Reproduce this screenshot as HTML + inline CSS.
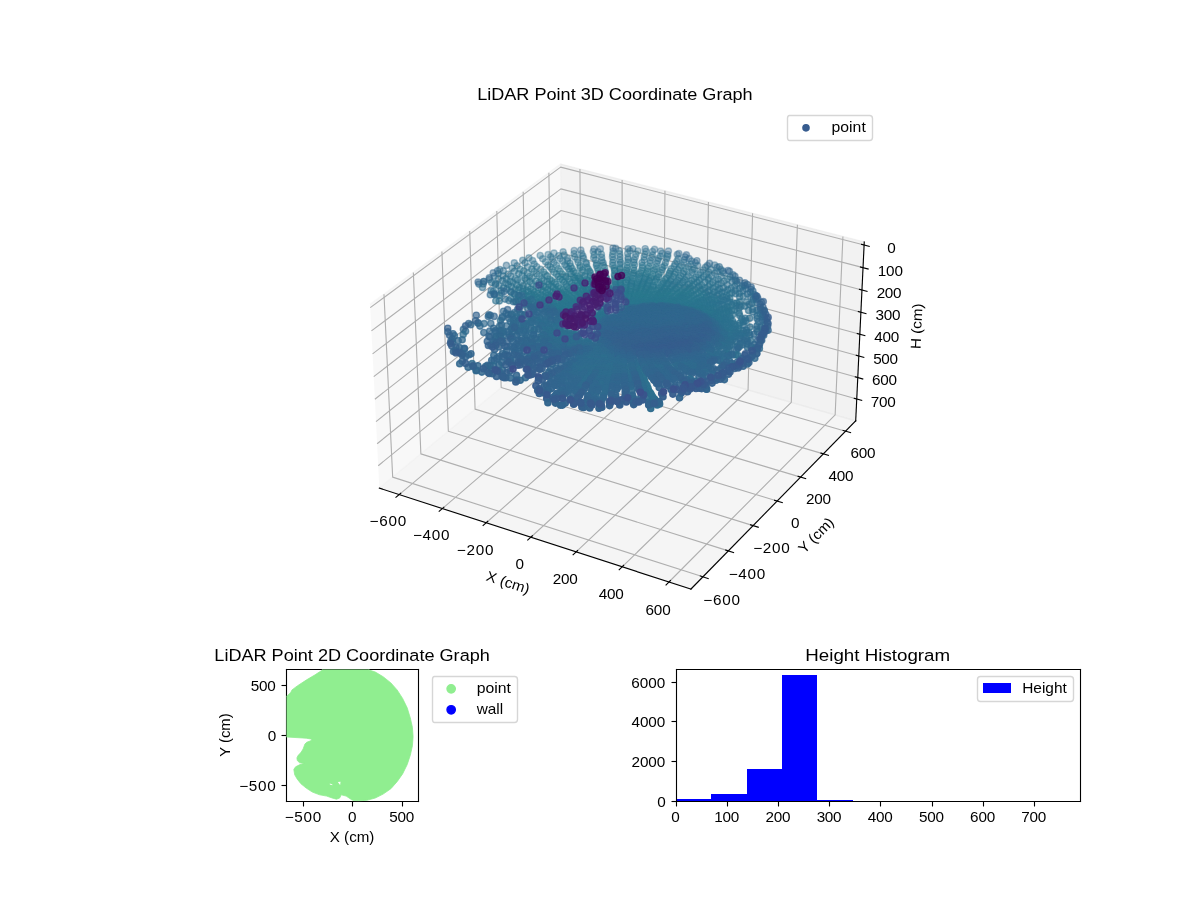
<!DOCTYPE html>
<html><head><meta charset="utf-8"><title>LiDAR Point Coordinate Graphs</title>
<style>html,body{margin:0;padding:0;background:#fff}svg{display:block;will-change:transform}text{font-family:"Liberation Sans",sans-serif;fill:#000}.pc circle{r:3.1px;stroke-width:1.39px}.a0{fill-opacity:0.3;stroke-opacity:0.3}.a1{fill-opacity:0.32;stroke-opacity:0.32}.a2{fill-opacity:0.34;stroke-opacity:0.34}.a3{fill-opacity:0.36;stroke-opacity:0.36}.a4{fill-opacity:0.38;stroke-opacity:0.38}.a5{fill-opacity:0.4;stroke-opacity:0.4}.a6{fill-opacity:0.42;stroke-opacity:0.42}.a7{fill-opacity:0.44;stroke-opacity:0.44}.a8{fill-opacity:0.46;stroke-opacity:0.46}.a9{fill-opacity:0.48;stroke-opacity:0.48}.a10{fill-opacity:0.5;stroke-opacity:0.5}.a11{fill-opacity:0.52;stroke-opacity:0.52}.a12{fill-opacity:0.54;stroke-opacity:0.54}.a13{fill-opacity:0.56;stroke-opacity:0.56}.a14{fill-opacity:0.58;stroke-opacity:0.58}.a15{fill-opacity:0.6;stroke-opacity:0.6}.a16{fill-opacity:0.62;stroke-opacity:0.62}.a17{fill-opacity:0.64;stroke-opacity:0.64}.a18{fill-opacity:0.66;stroke-opacity:0.66}.a19{fill-opacity:0.68;stroke-opacity:0.68}.a20{fill-opacity:0.7;stroke-opacity:0.7}.a21{fill-opacity:0.72;stroke-opacity:0.72}.a22{fill-opacity:0.74;stroke-opacity:0.74}.a23{fill-opacity:0.76;stroke-opacity:0.76}.a24{fill-opacity:0.78;stroke-opacity:0.78}.a25{fill-opacity:0.8;stroke-opacity:0.8}.a26{fill-opacity:0.82;stroke-opacity:0.82}.a27{fill-opacity:0.84;stroke-opacity:0.84}.a28{fill-opacity:0.86;stroke-opacity:0.86}.a29{fill-opacity:0.88;stroke-opacity:0.88}.a30{fill-opacity:0.9;stroke-opacity:0.9}.a31{fill-opacity:0.92;stroke-opacity:0.92}.a32{fill-opacity:0.94;stroke-opacity:0.94}.a33{fill-opacity:0.96;stroke-opacity:0.96}.a34{fill-opacity:0.98;stroke-opacity:0.98}.a35{fill-opacity:1;stroke-opacity:1}.c0{fill:#440154;stroke:#440154}.c1{fill:#440256;stroke:#440256}.c2{fill:#450559;stroke:#450559}.c3{fill:#46085c;stroke:#46085c}.c4{fill:#460b5e;stroke:#460b5e}.c5{fill:#470e61;stroke:#470e61}.c6{fill:#471063;stroke:#471063}.c7{fill:#471365;stroke:#471365}.c8{fill:#481668;stroke:#481668}.c9{fill:#48186a;stroke:#48186a}.c10{fill:#481b6d;stroke:#481b6d}.c11{fill:#481d6f;stroke:#481d6f}.c12{fill:#481f70;stroke:#481f70}.c13{fill:#482173;stroke:#482173}.c14{fill:#482475;stroke:#482475}.c15{fill:#482677;stroke:#482677}.c16{fill:#482979;stroke:#482979}.c17{fill:#472c7a;stroke:#472c7a}.c18{fill:#472d7b;stroke:#472d7b}.c19{fill:#472f7d;stroke:#472f7d}.c20{fill:#46327e;stroke:#46327e}.c21{fill:#463480;stroke:#463480}.c22{fill:#453781;stroke:#453781}.c23{fill:#443983;stroke:#443983}.c24{fill:#443a83;stroke:#443a83}.c25{fill:#433d84;stroke:#433d84}.c26{fill:#423f85;stroke:#423f85}.c27{fill:#424186;stroke:#424186}.c28{fill:#414487;stroke:#414487}.c29{fill:#404688;stroke:#404688}.c30{fill:#3f4788;stroke:#3f4788}.c31{fill:#3e4989;stroke:#3e4989}.c32{fill:#3e4c8a;stroke:#3e4c8a}.c33{fill:#3d4e8a;stroke:#3d4e8a}.c34{fill:#3c508b;stroke:#3c508b}.c35{fill:#3b528b;stroke:#3b528b}.c36{fill:#3a538b;stroke:#3a538b}.c37{fill:#39558c;stroke:#39558c}.c38{fill:#38588c;stroke:#38588c}.c39{fill:#375a8c;stroke:#375a8c}.c40{fill:#365c8d;stroke:#365c8d}.c41{fill:#365d8d;stroke:#365d8d}.c42{fill:#355f8d;stroke:#355f8d}.c43{fill:#34618d;stroke:#34618d}.c44{fill:#33638d;stroke:#33638d}.c45{fill:#32658e;stroke:#32658e}.c46{fill:#31678e;stroke:#31678e}.c47{fill:#31688e;stroke:#31688e}.c48{fill:#306a8e;stroke:#306a8e}.c49{fill:#2f6c8e;stroke:#2f6c8e}.c50{fill:#2e6e8e;stroke:#2e6e8e}.c51{fill:#2d708e;stroke:#2d708e}.c52{fill:#2c718e;stroke:#2c718e}.c53{fill:#2c728e;stroke:#2c728e}.c54{fill:#2b748e;stroke:#2b748e}.c55{fill:#2a768e;stroke:#2a768e}.c56{fill:#2a788e;stroke:#2a788e}.c57{fill:#297a8e;stroke:#297a8e}.c58{fill:#287c8e;stroke:#287c8e}.c59{fill:#287d8e;stroke:#287d8e}.c60{fill:#277f8e;stroke:#277f8e}.c61{fill:#26818e;stroke:#26818e}.c62{fill:#26828e;stroke:#26828e}.c63{fill:#25848e;stroke:#25848e}</style>
</head><body>
<svg width="1200" height="900" viewBox="0 0 1200 900">
<path d="M370.09 304.42L560.57 164.1L562.64 336.84L379.34 488.14" fill="#f2f2f2" fill-opacity="0.5" stroke="#f2f2f2" stroke-width="1.39" stroke-opacity="0.5"/>
<path d="M560.57 164.1L864.26 241.93L855.7 420.88L562.64 336.84" fill="#e6e6e6" fill-opacity="0.5" stroke="#e6e6e6" stroke-width="1.39" stroke-opacity="0.5"/>
<path d="M379.34 488.14L690.9 589.1L855.7 420.88L562.64 336.84" fill="#ececec" fill-opacity="0.5" stroke="#ececec" stroke-width="1.39" stroke-opacity="0.5"/>
<path d="M399.14 494.56L581.34 342.2L579.92 169.06" fill="none" stroke="#b0b0b0" stroke-width="1.11" stroke-linejoin="round"/>
<path d="M442.34 508.55L622.12 353.89L622.12 179.88" fill="none" stroke="#b0b0b0" stroke-width="1.11" stroke-linejoin="round"/>
<path d="M486.22 522.78L663.49 365.76L664.95 190.85" fill="none" stroke="#b0b0b0" stroke-width="1.11" stroke-linejoin="round"/>
<path d="M530.8 537.22L705.47 377.79L708.44 202" fill="none" stroke="#b0b0b0" stroke-width="1.11" stroke-linejoin="round"/>
<path d="M576.11 551.9L748.06 390.01L752.58 213.31" fill="none" stroke="#b0b0b0" stroke-width="1.11" stroke-linejoin="round"/>
<path d="M622.15 566.82L791.28 402.4L797.4 224.8" fill="none" stroke="#b0b0b0" stroke-width="1.11" stroke-linejoin="round"/>
<path d="M668.95 581.99L835.15 414.98L842.92 236.46" fill="none" stroke="#b0b0b0" stroke-width="1.11" stroke-linejoin="round"/>
<path d="M383.98 294.19L392.67 477.14L702.94 576.82" fill="none" stroke="#b0b0b0" stroke-width="1.11" stroke-linejoin="round"/>
<path d="M413.35 272.56L420.87 453.87L728.37 550.85" fill="none" stroke="#b0b0b0" stroke-width="1.11" stroke-linejoin="round"/>
<path d="M441.92 251.51L448.33 431.2L753.11 525.6" fill="none" stroke="#b0b0b0" stroke-width="1.11" stroke-linejoin="round"/>
<path d="M469.73 231.02L475.08 409.11L777.18 501.03" fill="none" stroke="#b0b0b0" stroke-width="1.11" stroke-linejoin="round"/>
<path d="M496.81 211.07L501.15 387.59L800.6 477.12" fill="none" stroke="#b0b0b0" stroke-width="1.11" stroke-linejoin="round"/>
<path d="M523.19 191.64L526.57 366.61L823.4 453.85" fill="none" stroke="#b0b0b0" stroke-width="1.11" stroke-linejoin="round"/>
<path d="M548.88 172.71L551.36 346.15L845.61 431.18" fill="none" stroke="#b0b0b0" stroke-width="1.11" stroke-linejoin="round"/>
<path d="M864.11 245.06L560.61 167.12L370.25 307.64" fill="none" stroke="#b0b0b0" stroke-width="1.11" stroke-linejoin="round"/>
<path d="M863.03 267.64L560.87 188.89L371.42 330.86" fill="none" stroke="#b0b0b0" stroke-width="1.11" stroke-linejoin="round"/>
<path d="M861.96 290.02L561.13 210.47L372.58 353.85" fill="none" stroke="#b0b0b0" stroke-width="1.11" stroke-linejoin="round"/>
<path d="M860.9 312.2L561.38 231.87L373.73 376.64" fill="none" stroke="#b0b0b0" stroke-width="1.11" stroke-linejoin="round"/>
<path d="M859.85 334.19L561.64 253.09L374.87 399.21" fill="none" stroke="#b0b0b0" stroke-width="1.11" stroke-linejoin="round"/>
<path d="M858.81 355.99L561.89 274.13L375.99 421.59" fill="none" stroke="#b0b0b0" stroke-width="1.11" stroke-linejoin="round"/>
<path d="M857.77 377.59L562.14 295L377.11 443.75" fill="none" stroke="#b0b0b0" stroke-width="1.11" stroke-linejoin="round"/>
<path d="M856.75 399.01L562.38 315.7L378.22 465.72" fill="none" stroke="#b0b0b0" stroke-width="1.11" stroke-linejoin="round"/>
<path d="M379.34 488.14L690.9 589.1" fill="none" stroke="#000" stroke-width="1.11" stroke-linecap="square" stroke-linejoin="round"/>
<path d="M400.73 493.22L395.95 497.23" fill="none" stroke="#000" stroke-width="1.11" stroke-linecap="square" stroke-linejoin="round"/>
<text transform="translate(369.56 526) scale(1.07 1)" font-size="14.31" textLength="34.35">−600</text>
<path d="M443.91 507.2L439.18 511.27" fill="none" stroke="#000" stroke-width="1.11" stroke-linecap="square" stroke-linejoin="round"/>
<text transform="translate(412.88 540.21) scale(1.07 1)" font-size="14.31" textLength="34.23">−400</text>
<path d="M487.77 521.4L483.11 525.53" fill="none" stroke="#000" stroke-width="1.11" stroke-linecap="square" stroke-linejoin="round"/>
<text transform="translate(456.82 554.64) scale(1.07 1)" font-size="14.31" textLength="34.23">−200</text>
<path d="M532.34 535.83L527.74 540.02" fill="none" stroke="#000" stroke-width="1.11" stroke-linecap="square" stroke-linejoin="round"/>
<text transform="translate(515.52 569.3) scale(1.07 1)" font-size="14.31">0</text>
<path d="M577.62 550.49L573.09 554.75" fill="none" stroke="#000" stroke-width="1.11" stroke-linecap="square" stroke-linejoin="round"/>
<text transform="translate(552.65 584.2) scale(1.07 1)" font-size="14.31" textLength="23.36">200</text>
<path d="M623.64 565.38L619.18 569.72" fill="none" stroke="#000" stroke-width="1.11" stroke-linecap="square" stroke-linejoin="round"/>
<text transform="translate(598.76 599.34) scale(1.07 1)" font-size="14.31" textLength="23.36">400</text>
<path d="M670.41 580.52L666.02 584.93" fill="none" stroke="#000" stroke-width="1.11" stroke-linecap="square" stroke-linejoin="round"/>
<text transform="translate(645.57 614.73) scale(1.07 1)" font-size="14.31" textLength="23.48">600</text>
<text transform="translate(485.37 580.25) rotate(-342.04)" font-size="14.31" textLength="44.62" lengthAdjust="spacingAndGlyphs">X (cm)</text>
<path d="M855.7 420.88L690.9 589.1" fill="none" stroke="#000" stroke-width="1.11" stroke-linecap="square" stroke-linejoin="round"/>
<path d="M700.31 575.97L708.19 578.5" fill="none" stroke="#000" stroke-width="1.11" stroke-linecap="square" stroke-linejoin="round"/>
<text transform="translate(703.37 604.95) scale(1.07 1)" font-size="14.31" textLength="34.35">−600</text>
<path d="M725.78 550.03L733.57 552.49" fill="none" stroke="#000" stroke-width="1.11" stroke-linecap="square" stroke-linejoin="round"/>
<text transform="translate(728.63 578.72) scale(1.07 1)" font-size="14.31" textLength="34.23">−400</text>
<path d="M750.54 524.8L758.26 527.19" fill="none" stroke="#000" stroke-width="1.11" stroke-linecap="square" stroke-linejoin="round"/>
<text transform="translate(753.14 553.21) scale(1.07 1)" font-size="14.31" textLength="34.23">−200</text>
<path d="M774.63 500.26L782.28 502.58" fill="none" stroke="#000" stroke-width="1.11" stroke-linecap="square" stroke-linejoin="round"/>
<text transform="translate(791.04 528.4) scale(1.07 1)" font-size="14.31">0</text>
<path d="M798.08 476.37L805.65 478.64" fill="none" stroke="#000" stroke-width="1.11" stroke-linecap="square" stroke-linejoin="round"/>
<text transform="translate(805.99 504.26) scale(1.07 1)" font-size="14.31" textLength="23.36">200</text>
<path d="M820.9 453.12L828.41 455.32" fill="none" stroke="#000" stroke-width="1.11" stroke-linecap="square" stroke-linejoin="round"/>
<text transform="translate(828.58 480.75) scale(1.07 1)" font-size="14.31" textLength="23.36">400</text>
<path d="M843.13 430.47L850.56 432.61" fill="none" stroke="#000" stroke-width="1.11" stroke-linecap="square" stroke-linejoin="round"/>
<text transform="translate(850.51 457.86) scale(1.07 1)" font-size="14.31" textLength="23.48">600</text>
<text transform="translate(804.34 554.18) rotate(-45.59)" font-size="14.31" textLength="43.5" lengthAdjust="spacingAndGlyphs">Y (cm)</text>
<path d="M855.7 420.88L864.26 241.93" fill="none" stroke="#000" stroke-width="1.11" stroke-linecap="square" stroke-linejoin="round"/>
<path d="M861.55 244.4L869.23 246.37" fill="none" stroke="#000" stroke-width="1.11" stroke-linecap="square" stroke-linejoin="round"/>
<text transform="translate(887.27 252.98) scale(1.07 1)" font-size="14.31">0</text>
<path d="M860.48 266.98L868.12 268.97" fill="none" stroke="#000" stroke-width="1.11" stroke-linecap="square" stroke-linejoin="round"/>
<text transform="translate(877.77 275.52) scale(1.07 1)" font-size="14.31" textLength="23.48">100</text>
<path d="M859.42 289.35L867.03 291.36" fill="none" stroke="#000" stroke-width="1.11" stroke-linecap="square" stroke-linejoin="round"/>
<text transform="translate(876.64 297.87) scale(1.07 1)" font-size="14.31" textLength="23.36">200</text>
<path d="M858.38 311.53L865.95 313.56" fill="none" stroke="#000" stroke-width="1.11" stroke-linecap="square" stroke-linejoin="round"/>
<text transform="translate(875.46 320.02) scale(1.07 1)" font-size="14.31" textLength="23.36">300</text>
<path d="M857.34 333.51L864.87 335.56" fill="none" stroke="#000" stroke-width="1.11" stroke-linecap="square" stroke-linejoin="round"/>
<text transform="translate(874.3 341.97) scale(1.07 1)" font-size="14.31" textLength="23.36">400</text>
<path d="M856.31 355.3L863.81 357.37" fill="none" stroke="#000" stroke-width="1.11" stroke-linecap="square" stroke-linejoin="round"/>
<text transform="translate(873.14 363.73) scale(1.07 1)" font-size="14.31" textLength="23.36">500</text>
<path d="M855.28 376.9L862.75 378.98" fill="none" stroke="#000" stroke-width="1.11" stroke-linecap="square" stroke-linejoin="round"/>
<text transform="translate(871.93 385.3) scale(1.07 1)" font-size="14.31" textLength="23.48">600</text>
<path d="M854.27 398.31L861.71 400.41" fill="none" stroke="#000" stroke-width="1.11" stroke-linecap="square" stroke-linejoin="round"/>
<text transform="translate(870.85 406.69) scale(1.07 1)" font-size="14.31" textLength="23.36">700</text>
<text transform="translate(920.4 349.14) rotate(-87.26)" font-size="14.31" textLength="45.5" lengthAdjust="spacingAndGlyphs">H (cm)</text>
<g class="pc"><circle class="a4 c51" cx="613.1" cy="251.3" r="3.1"/><circle class="a4 c51" cx="637.9" cy="251" r="3.1"/><circle class="a4 c50" cx="629.9" cy="250.9" r="3.1"/><circle class="a4 c51" cx="645.9" cy="251.3" r="3.1"/><circle class="a4 c49" cx="632.9" cy="248.7" r="3.1"/><circle class="a4 c51" cx="593.3" cy="251.5" r="3.1"/><circle class="a4 c50" cx="619.3" cy="250.8" r="3.1"/><circle class="a4 c49" cx="654.6" cy="249.4" r="3.1"/><circle class="a4 c49" cx="628.1" cy="248.8" r="3.1"/><circle class="a4 c51" cx="598" cy="251.9" r="3.1"/><circle class="a4 c49" cx="645.2" cy="248.7" r="3.1"/><circle class="a4 c48" cx="613" cy="248" r="3.1"/><circle class="a4 c50" cx="652.5" cy="251.5" r="3.1"/><circle class="a4 c48" cx="615.7" cy="248.4" r="3.1"/><circle class="a4 c48" cx="594" cy="249" r="3.1"/><circle class="a4 c49" cx="574.2" cy="250.5" r="3.1"/><circle class="a4 c51" cx="581.6" cy="253.6" r="3.1"/><circle class="a4 c48" cx="600.4" cy="248.9" r="3.1"/><circle class="a4 c49" cx="580.8" cy="250.1" r="3.1"/><circle class="a4 c51" cx="627.7" cy="253.4" r="3.1"/><circle class="a4 c50" cx="563.1" cy="251.8" r="3.1"/><circle class="a4 c51" cx="574.1" cy="253.7" r="3.1"/><circle class="a4 c51" cx="635.9" cy="254.1" r="3.1"/><circle class="a4 c51" cx="612.7" cy="254.3" r="3.1"/><circle class="a4 c51" cx="619.6" cy="253.9" r="3.1"/><circle class="a4 c51" cx="662.2" cy="253.3" r="3.1"/><circle class="a4 c50" cx="554" cy="253.1" r="3.1"/><circle class="a4 c49" cx="660.6" cy="251.1" r="3.1"/><circle class="a4 c51" cx="645" cy="254.3" r="3.1"/><circle class="a4 c51" cx="652.5" cy="255" r="3.1"/><circle class="a4 c51" cx="548.1" cy="254.6" r="3.1"/><circle class="a4 c51" cx="564.2" cy="255" r="3.1"/><circle class="a4 c51" cx="601.4" cy="254.2" r="3.1"/><circle class="a4 c51" cx="594.2" cy="254.9" r="3.1"/><circle class="a5 c51" cx="667.7" cy="254.5" r="3.1"/><circle class="a5 c51" cx="558.7" cy="255.7" r="3.1"/><circle class="a5 c52" cx="574.8" cy="256.9" r="3.1"/><circle class="a5 c52" cx="612.5" cy="256.9" r="3.1"/><circle class="a5 c48" cx="668.4" cy="251.1" r="3.1"/><circle class="a5 c51" cx="582.9" cy="256.1" r="3.1"/><circle class="a5 c52" cx="628" cy="257.4" r="3.1"/><circle class="a5 c52" cx="620" cy="256.8" r="3.1"/><circle class="a5 c51" cx="660.4" cy="256.3" r="3.1"/><circle class="a5 c51" cx="540.2" cy="255.5" r="3.1"/><circle class="a5 c52" cx="635.3" cy="257" r="3.1"/><circle class="a5 c52" cx="601.7" cy="257.4" r="3.1"/><circle class="a5 c51" cx="644.2" cy="257" r="3.1"/><circle class="a5 c52" cx="593.7" cy="257.8" r="3.1"/><circle class="a5 c51" cx="550.8" cy="256.7" r="3.1"/><circle class="a5 c51" cx="667.6" cy="256.6" r="3.1"/><circle class="a5 c52" cx="567.5" cy="258.3" r="3.1"/><circle class="a5 c51" cx="651.6" cy="257.4" r="3.1"/><circle class="a5 c52" cx="560.2" cy="258.6" r="3.1"/><circle class="a5 c49" cx="677.3" cy="254.5" r="3.1"/><circle class="a5 c51" cx="583.5" cy="258.3" r="3.1"/><circle class="a5 c51" cx="658.4" cy="258.6" r="3.1"/><circle class="a5 c52" cx="619.9" cy="260.1" r="3.1"/><circle class="a5 c52" cx="613.3" cy="259.9" r="3.1"/><circle class="a5 c51" cx="528.9" cy="257.9" r="3.1"/><circle class="a5 c52" cx="634.2" cy="260" r="3.1"/><circle class="a5 c51" cx="542.7" cy="258.8" r="3.1"/><circle class="a5 c52" cx="628.2" cy="259.2" r="3.1"/><circle class="a5 c52" cx="644.2" cy="260.1" r="3.1"/><circle class="a5 c51" cx="666.7" cy="258.8" r="3.1"/><circle class="a5 c52" cx="577.4" cy="259.4" r="3.1"/><circle class="a5 c52" cx="595.6" cy="259.9" r="3.1"/><circle class="a5 c52" cx="601.9" cy="260.5" r="3.1"/><circle class="a5 c51" cx="552.5" cy="259.3" r="3.1"/><circle class="a5 c47" cx="678.9" cy="253.5" r="3.1"/><circle class="a5 c52" cx="650.4" cy="260.7" r="3.1"/><circle class="a5 c52" cx="567.5" cy="260.8" r="3.1"/><circle class="a5 c52" cx="562.7" cy="261.1" r="3.1"/><circle class="a5 c54" cx="585.8" cy="262.6" r="3.1"/><circle class="a5 c50" cx="678.2" cy="258.7" r="3.1"/><circle class="a5 c52" cx="657.8" cy="260.8" r="3.1"/><circle class="a5 c53" cx="633.8" cy="262.4" r="3.1"/><circle class="a5 c53" cx="620.7" cy="262.5" r="3.1"/><circle class="a5 c53" cx="627.8" cy="262.3" r="3.1"/><circle class="a5 c53" cx="612.7" cy="262.6" r="3.1"/><circle class="a5 c51" cx="532.6" cy="260.6" r="3.1"/><circle class="a5 c52" cx="642" cy="262.6" r="3.1"/><circle class="a5 c53" cx="578.2" cy="262.6" r="3.1"/><circle class="a5 c53" cx="650" cy="263.1" r="3.1"/><circle class="a5 c52" cx="545.6" cy="261.8" r="3.1"/><circle class="a6 c52" cx="603.1" cy="262.8" r="3.1"/><circle class="a6 c51" cx="522.7" cy="260.3" r="3.1"/><circle class="a6 c50" cx="684.5" cy="259.6" r="3.1"/><circle class="a6 c48" cx="685.1" cy="256.9" r="3.1"/><circle class="a6 c53" cx="596.6" cy="263.7" r="3.1"/><circle class="a6 c52" cx="554" cy="262.5" r="3.1"/><circle class="a6 c46" cx="686.4" cy="254.8" r="3.1"/><circle class="a6 c51" cx="676.9" cy="261.4" r="3.1"/><circle class="a6 c52" cx="665.4" cy="262.7" r="3.1"/><circle class="a6 c52" cx="586.5" cy="263.8" r="3.1"/><circle class="a6 c52" cx="656.8" cy="263.3" r="3.1"/><circle class="a6 c52" cx="570" cy="263.3" r="3.1"/><circle class="a6 c54" cx="642.4" cy="265.5" r="3.1"/><circle class="a6 c54" cx="627.1" cy="265.2" r="3.1"/><circle class="a6 c52" cx="619.8" cy="264.2" r="3.1"/><circle class="a6 c53" cx="548" cy="265.1" r="3.1"/><circle class="a6 c54" cx="580" cy="265.7" r="3.1"/><circle class="a6 c53" cx="564.9" cy="264.8" r="3.1"/><circle class="a6 c52" cx="675.1" cy="263.9" r="3.1"/><circle class="a6 c53" cx="634.6" cy="264.9" r="3.1"/><circle class="a6 c53" cx="612.8" cy="265.4" r="3.1"/><circle class="a6 c53" cx="603.3" cy="265.4" r="3.1"/><circle class="a6 c52" cx="534.2" cy="264.1" r="3.1"/><circle class="a6 c51" cx="683.8" cy="262.5" r="3.1"/><circle class="a6 c53" cx="664.5" cy="265.7" r="3.1"/><circle class="a6 c53" cx="596.4" cy="265.6" r="3.1"/><circle class="a6 c53" cx="556.5" cy="265.3" r="3.1"/><circle class="a6 c54" cx="648.8" cy="266.6" r="3.1"/><circle class="a6 c51" cx="525.1" cy="262.9" r="3.1"/><circle class="a6 c54" cx="570.7" cy="266.4" r="3.1"/><circle class="a6 c50" cx="691.6" cy="261.1" r="3.1"/><circle class="a6 c48" cx="689.1" cy="258.6" r="3.1"/><circle class="a6 c54" cx="587" cy="267.3" r="3.1"/><circle class="a6 c53" cx="566.5" cy="266.6" r="3.1"/><circle class="a6 c54" cx="655.9" cy="266.9" r="3.1"/><circle class="a6 c54" cx="614.2" cy="268.1" r="3.1"/><circle class="a6 c54" cx="642.4" cy="267.7" r="3.1"/><circle class="a6 c54" cx="633.4" cy="267.8" r="3.1"/><circle class="a6 c54" cx="620.2" cy="267.9" r="3.1"/><circle class="a6 c54" cx="627.3" cy="267.8" r="3.1"/><circle class="a6 c54" cx="580.1" cy="267.5" r="3.1"/><circle class="a6 c50" cx="514.3" cy="262.9" r="3.1"/><circle class="a6 c54" cx="604.5" cy="267.5" r="3.1"/><circle class="a6 c52" cx="681.4" cy="265.4" r="3.1"/><circle class="a6 c53" cx="550.1" cy="266.9" r="3.1"/><circle class="a6 c51" cx="690.8" cy="264.2" r="3.1"/><circle class="a6 c54" cx="597.4" cy="268" r="3.1"/><circle class="a6 c52" cx="536.7" cy="266.7" r="3.1"/><circle class="a6 c52" cx="674.1" cy="266.3" r="3.1"/><circle class="a6 c52" cx="527.7" cy="266.9" r="3.1"/><circle class="a6 c53" cx="662.4" cy="267.4" r="3.1"/><circle class="a6 c49" cx="695.3" cy="262.6" r="3.1"/><circle class="a6 c54" cx="647.8" cy="268.5" r="3.1"/><circle class="a6 c54" cx="572.2" cy="268.5" r="3.1"/><circle class="a6 c54" cx="558.4" cy="268.7" r="3.1"/><circle class="a6 c54" cx="620.1" cy="269.2" r="3.1"/><circle class="a6 c54" cx="588.2" cy="269" r="3.1"/><circle class="a6 c54" cx="614.6" cy="270" r="3.1"/><circle class="a6 c54" cx="655" cy="269.3" r="3.1"/><circle class="a6 c53" cx="568.5" cy="268.8" r="3.1"/><circle class="a6 c54" cx="582.4" cy="269.9" r="3.1"/><circle class="a7 c54" cx="626.6" cy="270" r="3.1"/><circle class="a7 c51" cx="517.1" cy="265.8" r="3.1"/><circle class="a7 c55" cx="605.2" cy="271.4" r="3.1"/><circle class="a7 c52" cx="679.4" cy="267.7" r="3.1"/><circle class="a7 c54" cx="641.5" cy="270.5" r="3.1"/><circle class="a7 c51" cx="688.4" cy="266.6" r="3.1"/><circle class="a7 c54" cx="634.2" cy="270.3" r="3.1"/><circle class="a7 c54" cx="598.2" cy="270.7" r="3.1"/><circle class="a7 c53" cx="540.7" cy="269.4" r="3.1"/><circle class="a7 c47" cx="696.9" cy="260.7" r="3.1"/><circle class="a7 c55" cx="647.7" cy="271.3" r="3.1"/><circle class="a7 c50" cx="697.6" cy="265.6" r="3.1"/><circle class="a7 c53" cx="662.2" cy="269.8" r="3.1"/><circle class="a7 c52" cx="671.3" cy="268.9" r="3.1"/><circle class="a7 c53" cx="551.9" cy="269.2" r="3.1"/><circle class="a7 c52" cx="531.8" cy="269.1" r="3.1"/><circle class="a7 c54" cx="589.5" cy="271.2" r="3.1"/><circle class="a7 c54" cx="560.2" cy="271.2" r="3.1"/><circle class="a7 c54" cx="627.1" cy="271.8" r="3.1"/><circle class="a7 c54" cx="653.9" cy="270.5" r="3.1"/><circle class="a7 c52" cx="520.2" cy="269.2" r="3.1"/><circle class="a7 c54" cx="569.8" cy="271.5" r="3.1"/><circle class="a7 c54" cx="573.5" cy="271.3" r="3.1"/><circle class="a7 c54" cx="614.7" cy="271.2" r="3.1"/><circle class="a7 c55" cx="633.8" cy="272.8" r="3.1"/><circle class="a7 c55" cx="646.4" cy="273.4" r="3.1"/><circle class="a7 c54" cx="620.3" cy="272.3" r="3.1"/><circle class="a7 c52" cx="686" cy="269.3" r="3.1"/><circle class="a7 c49" cx="707.4" cy="265.6" r="3.1"/><circle class="a7 c53" cx="670.3" cy="271.2" r="3.1"/><circle class="a7 c52" cx="677.8" cy="269.7" r="3.1"/><circle class="a7 c55" cx="640.5" cy="272.9" r="3.1"/><circle class="a7 c54" cx="543.8" cy="272.1" r="3.1"/><circle class="a7 c54" cx="554" cy="272.3" r="3.1"/><circle class="a7 c49" cx="506.4" cy="265.4" r="3.1"/><circle class="a7 c54" cx="582.3" cy="272.4" r="3.1"/><circle class="a7 c54" cx="599.2" cy="273" r="3.1"/><circle class="a7 c51" cx="512.3" cy="268.2" r="3.1"/><circle class="a7 c54" cx="660.5" cy="272.6" r="3.1"/><circle class="a7 c53" cx="534.1" cy="271.3" r="3.1"/><circle class="a7 c51" cx="694.3" cy="268.9" r="3.1"/><circle class="a7 c50" cx="705.4" cy="267.3" r="3.1"/><circle class="a7 c54" cx="575.6" cy="273.1" r="3.1"/><circle class="a7 c55" cx="562.5" cy="274.1" r="3.1"/><circle class="a7 c47" cx="709.5" cy="263.4" r="3.1"/><circle class="a7 c54" cx="590.4" cy="272.8" r="3.1"/><circle class="a7 c55" cx="653" cy="273.9" r="3.1"/><circle class="a7 c55" cx="614.4" cy="274.7" r="3.1"/><circle class="a7 c52" cx="684.1" cy="271.5" r="3.1"/><circle class="a7 c55" cx="620.1" cy="274.5" r="3.1"/><circle class="a7 c55" cx="626.5" cy="274.4" r="3.1"/><circle class="a7 c54" cx="571.3" cy="273.8" r="3.1"/><circle class="a7 c54" cx="633.2" cy="274.1" r="3.1"/><circle class="a7 c54" cx="669.4" cy="273.2" r="3.1"/><circle class="a7 c55" cx="584.6" cy="275.6" r="3.1"/><circle class="a7 c52" cx="523.8" cy="270.9" r="3.1"/><circle class="a7 c54" cx="639.1" cy="274.2" r="3.1"/><circle class="a7 c53" cx="675.5" cy="272.4" r="3.1"/><circle class="a7 c49" cx="717.1" cy="267.4" r="3.1"/><circle class="a7 c54" cx="658.6" cy="274.4" r="3.1"/><circle class="a7 c54" cx="545.3" cy="274.5" r="3.1"/><circle class="a7 c51" cx="710.8" cy="269.6" r="3.1"/><circle class="a7 c51" cx="692.7" cy="270.2" r="3.1"/><circle class="a7 c54" cx="556.4" cy="274.2" r="3.1"/><circle class="a7 c55" cx="645.6" cy="275" r="3.1"/><circle class="a7 c48" cx="714.6" cy="265" r="3.1"/><circle class="a7 c55" cx="577.2" cy="276.1" r="3.1"/><circle class="a7 c55" cx="565.4" cy="276.1" r="3.1"/><circle class="a7 c55" cx="652" cy="276.5" r="3.1"/><circle class="a7 c51" cx="703.1" cy="270" r="3.1"/><circle class="a7 c51" cx="514.3" cy="271.3" r="3.1"/><circle class="a7 c54" cx="590.5" cy="275.3" r="3.1"/><circle class="a7 c53" cx="536.6" cy="273.7" r="3.1"/><circle class="a7 c53" cx="674.6" cy="274.1" r="3.1"/><circle class="a7 c55" cx="626.8" cy="275.9" r="3.1"/><circle class="a7 c54" cx="633.3" cy="275.7" r="3.1"/><circle class="a7 c50" cx="720.9" cy="269.6" r="3.1"/><circle class="a8 c52" cx="527.5" cy="273.3" r="3.1"/><circle class="a8 c55" cx="639.8" cy="276.7" r="3.1"/><circle class="a8 c52" cx="692" cy="272.4" r="3.1"/><circle class="a8 c54" cx="614.7" cy="276.1" r="3.1"/><circle class="a8 c55" cx="605.7" cy="276.7" r="3.1"/><circle class="a8 c55" cx="573.4" cy="277.3" r="3.1"/><circle class="a8 c52" cx="683" cy="273.6" r="3.1"/><circle class="a8 c54" cx="585" cy="276.3" r="3.1"/><circle class="a8 c55" cx="645.5" cy="277.2" r="3.1"/><circle class="a8 c54" cx="668.7" cy="275.3" r="3.1"/><circle class="a8 c48" cx="719.3" cy="266.7" r="3.1"/><circle class="a8 c52" cx="518.7" cy="273.6" r="3.1"/><circle class="a8 c51" cx="700.4" cy="272.6" r="3.1"/><circle class="a8 c54" cx="547" cy="275.9" r="3.1"/><circle class="a8 c54" cx="658.6" cy="276.9" r="3.1"/><circle class="a8 c54" cx="558.5" cy="276.7" r="3.1"/><circle class="a8 c51" cx="708.6" cy="272.1" r="3.1"/><circle class="a8 c50" cx="717" cy="271.5" r="3.1"/><circle class="a8 c55" cx="651" cy="277.7" r="3.1"/><circle class="a8 c54" cx="539.2" cy="276.3" r="3.1"/><circle class="a8 c55" cx="578.7" cy="278.1" r="3.1"/><circle class="a8 c55" cx="620.6" cy="278.2" r="3.1"/><circle class="a8 c55" cx="592.5" cy="277.8" r="3.1"/><circle class="a8 c54" cx="566" cy="277.1" r="3.1"/><circle class="a8 c50" cx="503.3" cy="270.9" r="3.1"/><circle class="a8 c55" cx="574.9" cy="277.8" r="3.1"/><circle class="a8 c55" cx="632.8" cy="278.3" r="3.1"/><circle class="a8 c55" cx="626.3" cy="278.1" r="3.1"/><circle class="a8 c49" cx="499.8" cy="269.5" r="3.1"/><circle class="a8 c55" cx="614.9" cy="278.5" r="3.1"/><circle class="a8 c54" cx="673.3" cy="276.6" r="3.1"/><circle class="a8 c54" cx="529.5" cy="276.5" r="3.1"/><circle class="a8 c53" cx="680.8" cy="275.9" r="3.1"/><circle class="a8 c53" cx="688.3" cy="275.8" r="3.1"/><circle class="a8 c55" cx="644.5" cy="279.1" r="3.1"/><circle class="a8 c55" cx="550" cy="279.3" r="3.1"/><circle class="a8 c54" cx="666.6" cy="277.9" r="3.1"/><circle class="a8 c52" cx="706.2" cy="274.4" r="3.1"/><circle class="a8 c52" cx="698.6" cy="274.8" r="3.1"/><circle class="a8 c55" cx="656.8" cy="278.5" r="3.1"/><circle class="a8 c55" cx="638.8" cy="278.7" r="3.1"/><circle class="a8 c54" cx="606.4" cy="278.2" r="3.1"/><circle class="a8 c55" cx="586.4" cy="279.5" r="3.1"/><circle class="a8 c55" cx="560.1" cy="279.1" r="3.1"/><circle class="a8 c55" cx="568.6" cy="279" r="3.1"/><circle class="a8 c51" cx="508.2" cy="274.1" r="3.1"/><circle class="a8 c51" cx="714.7" cy="273.3" r="3.1"/><circle class="a8 c55" cx="580" cy="279.1" r="3.1"/><circle class="a8 c54" cx="541.7" cy="278.7" r="3.1"/><circle class="a8 c55" cx="627.6" cy="280" r="3.1"/><circle class="a8 c52" cx="522.1" cy="275.4" r="3.1"/><circle class="a8 c54" cx="679.3" cy="277.9" r="3.1"/><circle class="a8 c55" cx="620.2" cy="280.1" r="3.1"/><circle class="a8 c56" cx="588.1" cy="281" r="3.1"/><circle class="a8 c56" cx="632" cy="280.9" r="3.1"/><circle class="a8 c55" cx="592.6" cy="279.8" r="3.1"/><circle class="a8 c55" cx="615" cy="280.6" r="3.1"/><circle class="a8 c55" cx="638.8" cy="280.6" r="3.1"/><circle class="a8 c55" cx="665.2" cy="279.4" r="3.1"/><circle class="a8 c53" cx="686.6" cy="277.1" r="3.1"/><circle class="a8 c53" cx="532.3" cy="277.7" r="3.1"/><circle class="a8 c55" cx="649.4" cy="280.3" r="3.1"/><circle class="a8 c55" cx="575.5" cy="280.4" r="3.1"/><circle class="a8 c52" cx="695.6" cy="277.3" r="3.1"/><circle class="a8 c54" cx="671" cy="279.3" r="3.1"/><circle class="a8 c48" cx="722.9" cy="271.1" r="3.1"/><circle class="a8 c48" cx="497.5" cy="270.7" r="3.1"/><circle class="a8 c55" cx="656.3" cy="280" r="3.1"/><circle class="a8 c55" cx="562.2" cy="280.1" r="3.1"/><circle class="a8 c49" cx="723.4" cy="273" r="3.1"/><circle class="a8 c55" cx="644" cy="281.4" r="3.1"/><circle class="a8 c52" cx="703.5" cy="276.6" r="3.1"/><circle class="a8 c51" cx="711.7" cy="276" r="3.1"/><circle class="a8 c50" cx="498.3" cy="273.5" r="3.1"/><circle class="a8 c55" cx="551.8" cy="280.9" r="3.1"/><circle class="a8 c55" cx="580.6" cy="281" r="3.1"/><circle class="a8 c55" cx="649.2" cy="281.1" r="3.1"/><circle class="a8 c51" cx="510.7" cy="276.4" r="3.1"/><circle class="a8 c55" cx="626.2" cy="282.1" r="3.1"/><circle class="a8 c55" cx="569.8" cy="281.9" r="3.1"/><circle class="a8 c56" cx="620.3" cy="282.4" r="3.1"/><circle class="a8 c52" cx="525.2" cy="278.4" r="3.1"/><circle class="a8 c54" cx="670.3" cy="280.7" r="3.1"/><circle class="a8 c55" cx="615" cy="282" r="3.1"/><circle class="a8 c54" cx="544" cy="280.8" r="3.1"/><circle class="a8 c54" cx="677.9" cy="280.1" r="3.1"/><circle class="a8 c54" cx="684.9" cy="279.9" r="3.1"/><circle class="a8 c55" cx="637.6" cy="282.8" r="3.1"/><circle class="a8 c53" cx="694" cy="279.1" r="3.1"/><circle class="a8 c55" cx="663.4" cy="281.5" r="3.1"/><circle class="a8 c55" cx="643.2" cy="282.7" r="3.1"/><circle class="a8 c55" cx="577.8" cy="282.5" r="3.1"/><circle class="a8 c52" cx="701" cy="278.7" r="3.1"/><circle class="a9 c55" cx="631.6" cy="282.2" r="3.1"/><circle class="a9 c54" cx="535.8" cy="281.2" r="3.1"/><circle class="a9 c52" cx="708.6" cy="278.2" r="3.1"/><circle class="a9 c55" cx="589.2" cy="282" r="3.1"/><circle class="a9 c50" cx="503" cy="275.9" r="3.1"/><circle class="a9 c54" cx="547.2" cy="281.6" r="3.1"/><circle class="a9 c46" cx="728" cy="270.5" r="3.1"/><circle class="a9 c55" cx="655" cy="282" r="3.1"/><circle class="a9 c55" cx="563.8" cy="282.2" r="3.1"/><circle class="a9 c50" cx="721.2" cy="276.3" r="3.1"/><circle class="a9 c55" cx="625.8" cy="282.7" r="3.1"/><circle class="a9 c55" cx="582.4" cy="282.9" r="3.1"/><circle class="a9 c55" cx="631.4" cy="283.4" r="3.1"/><circle class="a9 c55" cx="571.8" cy="283.2" r="3.1"/><circle class="a9 c55" cx="554.5" cy="282.6" r="3.1"/><circle class="a9 c55" cx="620.3" cy="283.5" r="3.1"/><circle class="a9 c55" cx="668.8" cy="282.6" r="3.1"/><circle class="a9 c54" cx="683.3" cy="281.6" r="3.1"/><circle class="a9 c56" cx="615.2" cy="284.3" r="3.1"/><circle class="a9 c52" cx="515.4" cy="278.5" r="3.1"/><circle class="a9 c53" cx="526.6" cy="280.2" r="3.1"/><circle class="a9 c56" cx="637" cy="284.2" r="3.1"/><circle class="a9 c56" cx="589.7" cy="284.2" r="3.1"/><circle class="a9 c56" cx="578.8" cy="284.6" r="3.1"/><circle class="a9 c55" cx="647.9" cy="283.1" r="3.1"/><circle class="a9 c54" cx="676.3" cy="281.9" r="3.1"/><circle class="a9 c55" cx="539.2" cy="282.8" r="3.1"/><circle class="a9 c52" cx="699.1" cy="280" r="3.1"/><circle class="a9 c53" cx="691.8" cy="280.5" r="3.1"/><circle class="a9 c55" cx="642.6" cy="283.8" r="3.1"/><circle class="a9 c56" cx="653.8" cy="285.2" r="3.1"/><circle class="a9 c52" cx="708" cy="279.7" r="3.1"/><circle class="a9 c52" cx="718.2" cy="279.2" r="3.1"/><circle class="a9 c55" cx="662.8" cy="283.5" r="3.1"/><circle class="a9 c51" cx="506.4" cy="278.9" r="3.1"/><circle class="a9 c55" cx="565.9" cy="284.6" r="3.1"/><circle class="a9 c50" cx="730.1" cy="276.8" r="3.1"/><circle class="a9 c53" cx="529.9" cy="281.5" r="3.1"/><circle class="a9 c56" cx="573.2" cy="285.6" r="3.1"/><circle class="a9 c55" cx="667.7" cy="283.9" r="3.1"/><circle class="a9 c55" cx="549" cy="284.4" r="3.1"/><circle class="a9 c56" cx="626.1" cy="285.4" r="3.1"/><circle class="a9 c56" cx="583.8" cy="285.3" r="3.1"/><circle class="a9 c55" cx="647.6" cy="284.8" r="3.1"/><circle class="a9 c56" cx="637.4" cy="285.7" r="3.1"/><circle class="a9 c46" cx="729.5" cy="271.4" r="3.1"/><circle class="a9 c56" cx="608.5" cy="285.4" r="3.1"/><circle class="a9 c55" cx="615.9" cy="285.4" r="3.1"/><circle class="a9 c52" cx="517.3" cy="280.1" r="3.1"/><circle class="a9 c49" cx="494.3" cy="276.2" r="3.1"/><circle class="a9 c54" cx="682.4" cy="282.9" r="3.1"/><circle class="a9 c46" cx="493.2" cy="272.9" r="3.1"/><circle class="a9 c51" cx="727.6" cy="278.8" r="3.1"/><circle class="a9 c55" cx="555.9" cy="284.2" r="3.1"/><circle class="a9 c55" cx="620.5" cy="285.2" r="3.1"/><circle class="a9 c48" cx="733" cy="274.9" r="3.1"/><circle class="a9 c54" cx="674.9" cy="283.5" r="3.1"/><circle class="a9 c55" cx="631.3" cy="285.6" r="3.1"/><circle class="a9 c55" cx="541" cy="284.6" r="3.1"/><circle class="a9 c53" cx="697.2" cy="282.2" r="3.1"/><circle class="a9 c55" cx="642" cy="285.5" r="3.1"/><circle class="a9 c54" cx="689.9" cy="283.3" r="3.1"/><circle class="a9 c52" cx="705" cy="282.1" r="3.1"/><circle class="a9 c55" cx="579.9" cy="285.6" r="3.1"/><circle class="a9 c55" cx="653.1" cy="286.1" r="3.1"/><circle class="a9 c55" cx="661.3" cy="284.7" r="3.1"/><circle class="a9 c55" cx="630.5" cy="286.1" r="3.1"/><circle class="a9 c55" cx="590.1" cy="286" r="3.1"/><circle class="a9 c51" cx="715.4" cy="280.3" r="3.1"/><circle class="a9 c56" cx="647.3" cy="286.7" r="3.1"/><circle class="a9 c50" cx="498.3" cy="278.9" r="3.1"/><circle class="a9 c55" cx="584.3" cy="286.6" r="3.1"/><circle class="a9 c55" cx="558.4" cy="286.5" r="3.1"/><circle class="a9 c55" cx="666.3" cy="286.1" r="3.1"/><circle class="a9 c52" cx="521.1" cy="282.5" r="3.1"/><circle class="a9 c56" cx="620.5" cy="286.9" r="3.1"/><circle class="a9 c52" cx="510.1" cy="281.4" r="3.1"/><circle class="a9 c55" cx="566.7" cy="286.3" r="3.1"/><circle class="a9 c56" cx="574.7" cy="287.1" r="3.1"/><circle class="a9 c56" cx="626" cy="287.5" r="3.1"/><circle class="a9 c54" cx="532.5" cy="284.1" r="3.1"/><circle class="a9 c54" cx="679.5" cy="284.6" r="3.1"/><circle class="a9 c55" cx="660.4" cy="286.8" r="3.1"/><circle class="a9 c55" cx="551.8" cy="286.4" r="3.1"/><circle class="a9 c55" cx="652.9" cy="287" r="3.1"/><circle class="a9 c54" cx="694.2" cy="284.1" r="3.1"/><circle class="a9 c54" cx="701.8" cy="285.2" r="3.1"/><circle class="a9 c54" cx="688.3" cy="284.2" r="3.1"/><circle class="a9 c56" cx="591.9" cy="287.8" r="3.1"/><circle class="a9 c54" cx="672.9" cy="284.9" r="3.1"/><circle class="a9 c56" cx="636.6" cy="287.4" r="3.1"/><circle class="a9 c56" cx="580.9" cy="287.5" r="3.1"/><circle class="a9 c56" cx="641.3" cy="287.5" r="3.1"/><circle class="a9 c55" cx="615.8" cy="287.5" r="3.1"/><circle class="a9 c51" cx="724.2" cy="281.2" r="3.1"/><circle class="a9 c56" cx="609" cy="287.7" r="3.1"/><circle class="a9 c52" cx="712.8" cy="282.5" r="3.1"/><circle class="a9 c55" cx="543.7" cy="286.4" r="3.1"/><circle class="a9 c52" cx="512.9" cy="282.5" r="3.1"/><circle class="a9 c56" cx="616.4" cy="288.5" r="3.1"/><circle class="a9 c54" cx="523.3" cy="285.6" r="3.1"/><circle class="a9 c50" cx="502.5" cy="280.6" r="3.1"/><circle class="a9 c55" cx="553.1" cy="287.2" r="3.1"/><circle class="a9 c56" cx="625.7" cy="289.2" r="3.1"/><circle class="a9 c56" cx="585.7" cy="288.9" r="3.1"/><circle class="a9 c56" cx="568.8" cy="288.3" r="3.1"/><circle class="a9 c55" cx="646.4" cy="288" r="3.1"/><circle class="a9 c56" cx="575" cy="289.2" r="3.1"/><circle class="a9 c56" cx="559.8" cy="288.3" r="3.1"/><circle class="a9 c55" cx="664.9" cy="287.8" r="3.1"/><circle class="a9 c56" cx="630.8" cy="289.2" r="3.1"/><circle class="a9 c56" cx="651.5" cy="289" r="3.1"/><circle class="a9 c54" cx="671.7" cy="286.7" r="3.1"/><circle class="a9 c55" cx="678.5" cy="286.8" r="3.1"/><circle class="a9 c55" cx="636.6" cy="288.3" r="3.1"/><circle class="a9 c55" cx="545.7" cy="287.2" r="3.1"/><circle class="a9 c54" cx="536.4" cy="286" r="3.1"/><circle class="a10 c55" cx="658.8" cy="288.2" r="3.1"/><circle class="a10 c56" cx="641.1" cy="289" r="3.1"/><circle class="a10 c56" cx="609.2" cy="288.9" r="3.1"/><circle class="a10 c55" cx="592" cy="288.5" r="3.1"/><circle class="a10 c54" cx="685.5" cy="287" r="3.1"/><circle class="a10 c54" cx="699.2" cy="286.1" r="3.1"/><circle class="a10 c51" cx="721.2" cy="283.1" r="3.1"/><circle class="a10 c54" cx="692.4" cy="286" r="3.1"/><circle class="a10 c52" cx="516.7" cy="284.9" r="3.1"/><circle class="a10 c56" cx="570.4" cy="290.1" r="3.1"/><circle class="a10 c56" cx="625.9" cy="290" r="3.1"/><circle class="a10 c56" cx="583.1" cy="289.7" r="3.1"/><circle class="a10 c56" cx="616.2" cy="290.2" r="3.1"/><circle class="a10 c55" cx="676.3" cy="288.4" r="3.1"/><circle class="a10 c51" cx="505.6" cy="283" r="3.1"/><circle class="a10 c54" cx="690.4" cy="287.5" r="3.1"/><circle class="a10 c56" cx="587.4" cy="289.8" r="3.1"/><circle class="a10 c49" cx="489.3" cy="279.5" r="3.1"/><circle class="a10 c55" cx="664.6" cy="288.9" r="3.1"/><circle class="a10 c55" cx="555.6" cy="289.5" r="3.1"/><circle class="a10 c52" cx="710" cy="284.3" r="3.1"/><circle class="a10 c54" cx="527.7" cy="286.8" r="3.1"/><circle class="a10 c56" cx="562.7" cy="289.7" r="3.1"/><circle class="a10 c55" cx="645.9" cy="289.2" r="3.1"/><circle class="a10 c50" cx="732" cy="281.6" r="3.1"/><circle class="a10 c54" cx="538.5" cy="287.8" r="3.1"/><circle class="a10 c56" cx="583.1" cy="290.2" r="3.1"/><circle class="a10 c56" cx="576.7" cy="290" r="3.1"/><circle class="a10 c55" cx="670.3" cy="288.8" r="3.1"/><circle class="a10 c56" cx="630.3" cy="291.1" r="3.1"/><circle class="a10 c56" cx="609.3" cy="290.8" r="3.1"/><circle class="a10 c56" cx="635.8" cy="290.5" r="3.1"/><circle class="a10 c53" cx="698.4" cy="286.7" r="3.1"/><circle class="a10 c54" cx="684.3" cy="288.1" r="3.1"/><circle class="a10 c52" cx="708.5" cy="286.3" r="3.1"/><circle class="a10 c51" cx="718.1" cy="284.3" r="3.1"/><circle class="a10 c55" cx="658.3" cy="290" r="3.1"/><circle class="a10 c56" cx="640.3" cy="290.3" r="3.1"/><circle class="a10 c51" cx="508.3" cy="284.8" r="3.1"/><circle class="a10 c54" cx="519.3" cy="287.5" r="3.1"/><circle class="a10 c46" cx="489.3" cy="277.8" r="3.1"/><circle class="a10 c46" cx="735" cy="276.4" r="3.1"/><circle class="a10 c55" cx="547.6" cy="289.7" r="3.1"/><circle class="a10 c55" cx="650.8" cy="290.2" r="3.1"/><circle class="a10 c56" cx="587" cy="291.5" r="3.1"/><circle class="a10 c56" cx="578" cy="291.5" r="3.1"/><circle class="a10 c56" cx="644.9" cy="291.3" r="3.1"/><circle class="a10 c48" cx="735.1" cy="280.1" r="3.1"/><circle class="a10 c55" cx="572.1" cy="290.7" r="3.1"/><circle class="a10 c54" cx="530.6" cy="288.8" r="3.1"/><circle class="a10 c50" cx="491.6" cy="282.5" r="3.1"/><circle class="a10 c56" cx="564.1" cy="291.7" r="3.1"/><circle class="a10 c49" cx="736.4" cy="281.1" r="3.1"/><circle class="a10 c55" cx="541.2" cy="289.8" r="3.1"/><circle class="a10 c54" cx="675.1" cy="289" r="3.1"/><circle class="a10 c56" cx="624.7" cy="291.4" r="3.1"/><circle class="a10 c54" cx="688.8" cy="289" r="3.1"/><circle class="a10 c55" cx="668.2" cy="291.1" r="3.1"/><circle class="a10 c56" cx="657.1" cy="291.3" r="3.1"/><circle class="a10 c56" cx="630.3" cy="291.4" r="3.1"/><circle class="a10 c52" cx="715.7" cy="286.8" r="3.1"/><circle class="a10 c56" cx="635.6" cy="292.1" r="3.1"/><circle class="a10 c50" cx="495.6" cy="283.6" r="3.1"/><circle class="a10 c55" cx="558.1" cy="291.3" r="3.1"/><circle class="a10 c53" cx="704.8" cy="288.2" r="3.1"/><circle class="a10 c55" cx="662.5" cy="291" r="3.1"/><circle class="a10 c54" cx="695.3" cy="289.6" r="3.1"/><circle class="a10 c56" cx="649.6" cy="291.9" r="3.1"/><circle class="a10 c56" cx="584.8" cy="291.7" r="3.1"/><circle class="a10 c52" cx="511.4" cy="286.7" r="3.1"/><circle class="a10 c54" cx="682.4" cy="290" r="3.1"/><circle class="a10 c56" cx="639.8" cy="292.5" r="3.1"/><circle class="a10 c55" cx="549.9" cy="291.1" r="3.1"/><circle class="a10 c55" cx="542.8" cy="291.4" r="3.1"/><circle class="a10 c56" cx="625.7" cy="292.8" r="3.1"/><circle class="a10 c53" cx="523.1" cy="288.9" r="3.1"/><circle class="a10 c55" cx="533.2" cy="290.7" r="3.1"/><circle class="a10 c55" cx="687.2" cy="291" r="3.1"/><circle class="a10 c50" cx="727.2" cy="285.1" r="3.1"/><circle class="a10 c55" cx="673.3" cy="290.9" r="3.1"/><circle class="a10 c55" cx="644.9" cy="292.2" r="3.1"/><circle class="a10 c56" cx="585.5" cy="293.2" r="3.1"/><circle class="a10 c55" cx="667.4" cy="291.3" r="3.1"/><circle class="a10 c56" cx="630.1" cy="292.5" r="3.1"/><circle class="a10 c56" cx="573.7" cy="292.6" r="3.1"/><circle class="a10 c56" cx="588.4" cy="293.1" r="3.1"/><circle class="a10 c55" cx="565.9" cy="292.2" r="3.1"/><circle class="a10 c51" cx="499" cy="285.7" r="3.1"/><circle class="a10 c56" cx="579.5" cy="293.3" r="3.1"/><circle class="a10 c55" cx="661.3" cy="291.9" r="3.1"/><circle class="a10 c50" cx="495.2" cy="284.8" r="3.1"/><circle class="a10 c55" cx="635.6" cy="292.5" r="3.1"/><circle class="a10 c56" cx="656.7" cy="293.7" r="3.1"/><circle class="a10 c55" cx="680.6" cy="291.6" r="3.1"/><circle class="a10 c53" cx="702.4" cy="289.5" r="3.1"/><circle class="a10 c49" cx="483.2" cy="283.9" r="3.1"/><circle class="a10 c56" cx="649.2" cy="292.7" r="3.1"/><circle class="a10 c49" cx="737.1" cy="283.6" r="3.1"/><circle class="a10 c56" cx="560.3" cy="293.6" r="3.1"/><circle class="a10 c54" cx="693.1" cy="290.7" r="3.1"/><circle class="a10 c52" cx="713" cy="288.4" r="3.1"/><circle class="a10 c54" cx="526.3" cy="290.2" r="3.1"/><circle class="a10 c53" cx="515.2" cy="289.1" r="3.1"/><circle class="a10 c48" cx="483.8" cy="281.5" r="3.1"/><circle class="a10 c56" cx="639.1" cy="293.8" r="3.1"/><circle class="a10 c56" cx="665.9" cy="293.4" r="3.1"/><circle class="a10 c56" cx="561.5" cy="293.6" r="3.1"/><circle class="a10 c56" cx="625.2" cy="294.2" r="3.1"/><circle class="a10 c56" cx="574.9" cy="293.6" r="3.1"/><circle class="a10 c55" cx="679.2" cy="293.1" r="3.1"/><circle class="a10 c50" cx="734.7" cy="286.2" r="3.1"/><circle class="a10 c55" cx="671.9" cy="292.3" r="3.1"/><circle class="a10 c46" cx="739.5" cy="280.2" r="3.1"/><circle class="a10 c55" cx="552.4" cy="292.5" r="3.1"/><circle class="a10 c56" cx="643.5" cy="294.2" r="3.1"/><circle class="a10 c55" cx="660.5" cy="293.2" r="3.1"/><circle class="a10 c54" cx="700.7" cy="290.8" r="3.1"/><circle class="a10 c56" cx="567" cy="294.2" r="3.1"/><circle class="a10 c51" cx="723.6" cy="287.9" r="3.1"/><circle class="a10 c55" cx="534.4" cy="292.2" r="3.1"/><circle class="a10 c55" cx="629.2" cy="293.7" r="3.1"/><circle class="a10 c55" cx="685" cy="292.5" r="3.1"/><circle class="a10 c56" cx="554.6" cy="293.9" r="3.1"/><circle class="a10 c53" cx="709.5" cy="290.2" r="3.1"/><circle class="a10 c56" cx="655.4" cy="294.2" r="3.1"/><circle class="a10 c47" cx="483.8" cy="281.5" r="3.1"/><circle class="a10 c56" cx="580.7" cy="294.1" r="3.1"/><circle class="a10 c56" cx="648.2" cy="294.4" r="3.1"/><circle class="a10 c56" cx="634.8" cy="294.7" r="3.1"/><circle class="a10 c52" cx="518.6" cy="290" r="3.1"/><circle class="a11 c56" cx="638.6" cy="295.2" r="3.1"/><circle class="a11 c55" cx="545.9" cy="292.8" r="3.1"/><circle class="a11 c54" cx="528.3" cy="291.5" r="3.1"/><circle class="a11 c55" cx="691" cy="292.7" r="3.1"/><circle class="a11 c55" cx="590.3" cy="293.6" r="3.1"/><circle class="a11 c56" cx="586.6" cy="294.9" r="3.1"/><circle class="a11 c51" cx="503.6" cy="287.8" r="3.1"/><circle class="a11 c56" cx="643.1" cy="295.3" r="3.1"/><circle class="a11 c55" cx="677.7" cy="293.8" r="3.1"/><circle class="a11 c55" cx="670.2" cy="293.6" r="3.1"/><circle class="a11 c51" cx="731.1" cy="288.2" r="3.1"/><circle class="a11 c56" cx="576.6" cy="295.3" r="3.1"/><circle class="a11 c55" cx="689" cy="294.2" r="3.1"/><circle class="a11 c55" cx="665.1" cy="294.3" r="3.1"/><circle class="a11 c56" cx="659.1" cy="295.4" r="3.1"/><circle class="a11 c51" cx="719.7" cy="288.8" r="3.1"/><circle class="a11 c56" cx="630" cy="295.6" r="3.1"/><circle class="a11 c55" cx="537.2" cy="293.5" r="3.1"/><circle class="a11 c56" cx="581.5" cy="295.4" r="3.1"/><circle class="a11 c56" cx="568.3" cy="295.1" r="3.1"/><circle class="a11 c55" cx="548.8" cy="295" r="3.1"/><circle class="a11 c54" cx="698.6" cy="292.8" r="3.1"/><circle class="a11 c56" cx="563.2" cy="295.6" r="3.1"/><circle class="a11 c56" cx="625.3" cy="295.7" r="3.1"/><circle class="a11 c51" cx="506.9" cy="289.1" r="3.1"/><circle class="a11 c53" cx="708.2" cy="291.7" r="3.1"/><circle class="a11 c55" cx="683.1" cy="294.7" r="3.1"/><circle class="a11 c55" cx="647.5" cy="294.8" r="3.1"/><circle class="a11 c56" cx="634.3" cy="295.8" r="3.1"/><circle class="a11 c48" cx="478.9" cy="284.1" r="3.1"/><circle class="a11 c55" cx="654.1" cy="295" r="3.1"/><circle class="a11 c56" cx="638.1" cy="295.8" r="3.1"/><circle class="a11 c56" cx="588.2" cy="296.3" r="3.1"/><circle class="a11 c54" cx="531" cy="294.1" r="3.1"/><circle class="a11 c50" cx="482.5" cy="287.4" r="3.1"/><circle class="a11 c52" cx="718.1" cy="290.5" r="3.1"/><circle class="a11 c49" cx="742.1" cy="286.5" r="3.1"/><circle class="a11 c52" cx="522.3" cy="291.7" r="3.1"/><circle class="a11 c56" cx="583.1" cy="296.6" r="3.1"/><circle class="a11 c56" cx="669" cy="295.9" r="3.1"/><circle class="a11 c51" cx="727.9" cy="289.6" r="3.1"/><circle class="a11 c56" cx="570.1" cy="296.8" r="3.1"/><circle class="a11 c56" cx="577.8" cy="296.5" r="3.1"/><circle class="a11 c56" cx="629.5" cy="296.7" r="3.1"/><circle class="a11 c56" cx="653.1" cy="296.8" r="3.1"/><circle class="a11 c55" cx="680.8" cy="295.6" r="3.1"/><circle class="a11 c56" cx="565.2" cy="296.6" r="3.1"/><circle class="a11 c55" cx="676.1" cy="295.6" r="3.1"/><circle class="a11 c53" cx="705.5" cy="292.8" r="3.1"/><circle class="a11 c55" cx="663.5" cy="295.3" r="3.1"/><circle class="a11 c56" cx="647.1" cy="297" r="3.1"/><circle class="a11 c55" cx="658.1" cy="295.8" r="3.1"/><circle class="a11 c56" cx="625.1" cy="296.3" r="3.1"/><circle class="a11 c54" cx="696.3" cy="293.8" r="3.1"/><circle class="a11 c56" cx="642.1" cy="296.9" r="3.1"/><circle class="a11 c52" cx="510.6" cy="291.5" r="3.1"/><circle class="a11 c56" cx="634.3" cy="297.2" r="3.1"/><circle class="a11 c54" cx="541.1" cy="294.7" r="3.1"/><circle class="a11 c55" cx="550.6" cy="296.4" r="3.1"/><circle class="a11 c48" cx="744" cy="285.3" r="3.1"/><circle class="a11 c54" cx="524" cy="293.7" r="3.1"/><circle class="a11 c50" cx="739.7" cy="288.4" r="3.1"/><circle class="a11 c52" cx="493.4" cy="291.3" r="3.1"/><circle class="a11 c56" cx="583.4" cy="297.9" r="3.1"/><circle class="a11 c55" cx="658.1" cy="296.3" r="3.1"/><circle class="a11 c55" cx="686.9" cy="295.5" r="3.1"/><circle class="a11 c56" cx="552" cy="297.2" r="3.1"/><circle class="a11 c56" cx="633.8" cy="297.7" r="3.1"/><circle class="a11 c56" cx="642" cy="297.7" r="3.1"/><circle class="a11 c45" cx="744.9" cy="282.9" r="3.1"/><circle class="a11 c45" cx="478.1" cy="282.1" r="3.1"/><circle class="a11 c54" cx="534.4" cy="294.9" r="3.1"/><circle class="a11 c56" cx="624.6" cy="297.6" r="3.1"/><circle class="a11 c56" cx="579.7" cy="298.2" r="3.1"/><circle class="a11 c52" cx="714.2" cy="292.1" r="3.1"/><circle class="a11 c56" cx="662.6" cy="297.3" r="3.1"/><circle class="a11 c54" cx="703.3" cy="294.7" r="3.1"/><circle class="a11 c56" cx="667.1" cy="297.4" r="3.1"/><circle class="a11 c56" cx="572.1" cy="298.2" r="3.1"/><circle class="a11 c56" cx="646.3" cy="297.8" r="3.1"/><circle class="a11 c51" cx="725" cy="291.8" r="3.1"/><circle class="a11 c55" cx="566.4" cy="297.4" r="3.1"/><circle class="a11 c55" cx="685.1" cy="296.6" r="3.1"/><circle class="a11 c55" cx="673.6" cy="296.5" r="3.1"/><circle class="a11 c55" cx="680.1" cy="296.3" r="3.1"/><circle class="a11 c55" cx="543.4" cy="296" r="3.1"/><circle class="a11 c56" cx="652.3" cy="297.8" r="3.1"/><circle class="a11 c55" cx="628.9" cy="297.5" r="3.1"/><circle class="a11 c54" cx="693.6" cy="295.2" r="3.1"/><circle class="a11 c56" cx="637.8" cy="298.5" r="3.1"/><circle class="a11 c52" cx="514.1" cy="293.5" r="3.1"/><circle class="a11 c56" cx="553.6" cy="298.2" r="3.1"/><circle class="a11 c54" cx="527.8" cy="296.1" r="3.1"/><circle class="a11 c47" cx="745.3" cy="285.6" r="3.1"/><circle class="a11 c56" cx="656.2" cy="298.9" r="3.1"/><circle class="a11 c50" cx="735.4" cy="290.3" r="3.1"/><circle class="a11 c51" cx="721.8" cy="292.4" r="3.1"/><circle class="a11 c53" cx="712.4" cy="294.8" r="3.1"/><circle class="a11 c55" cx="536.9" cy="297.3" r="3.1"/><circle class="a11 c55" cx="700.9" cy="296.9" r="3.1"/><circle class="a11 c56" cx="580.3" cy="299.3" r="3.1"/><circle class="a11 c55" cx="672.1" cy="298.2" r="3.1"/><circle class="a11 c55" cx="545.7" cy="297.1" r="3.1"/><circle class="a11 c51" cx="732" cy="292.7" r="3.1"/><circle class="a11 c56" cx="641.5" cy="298.6" r="3.1"/><circle class="a11 c55" cx="678.5" cy="297.2" r="3.1"/><circle class="a11 c55" cx="666.3" cy="298.1" r="3.1"/><circle class="a11 c56" cx="573.4" cy="298.9" r="3.1"/><circle class="a11 c56" cx="633.5" cy="299.3" r="3.1"/><circle class="a11 c56" cx="567.7" cy="298.9" r="3.1"/><circle class="a11 c49" cx="746.1" cy="289" r="3.1"/><circle class="a11 c56" cx="660.7" cy="298.9" r="3.1"/><circle class="a11 c55" cx="651.9" cy="298.4" r="3.1"/><circle class="a11 c54" cx="691.7" cy="296.2" r="3.1"/><circle class="a11 c54" cx="529.7" cy="296.3" r="3.1"/><circle class="a11 c55" cx="683.9" cy="298.3" r="3.1"/><circle class="a11 c56" cx="628.6" cy="298.9" r="3.1"/><circle class="a11 c53" cx="517.9" cy="295.2" r="3.1"/><circle class="a11 c53" cx="710.4" cy="295.6" r="3.1"/><circle class="a11 c50" cx="500.8" cy="290.6" r="3.1"/><circle class="a11 c56" cx="637.1" cy="300.1" r="3.1"/><circle class="a11 c56" cx="562.1" cy="299.1" r="3.1"/><circle class="a11 c55" cx="690.4" cy="298.1" r="3.1"/><circle class="a11 c56" cx="676.8" cy="299.2" r="3.1"/><circle class="a11 c52" cx="718.9" cy="294" r="3.1"/><circle class="a11 c56" cx="645.8" cy="299.3" r="3.1"/><circle class="a11 c55" cx="698.8" cy="297.6" r="3.1"/><circle class="a11 c56" cx="665.3" cy="299.6" r="3.1"/><circle class="a11 c56" cx="660.1" cy="299.3" r="3.1"/><circle class="a11 c45" cx="747.3" cy="284.5" r="3.1"/><circle class="a11 c52" cx="729.6" cy="294.3" r="3.1"/><circle class="a11 c54" cx="519.8" cy="296.6" r="3.1"/><circle class="a11 c56" cx="574.7" cy="300.1" r="3.1"/><circle class="a11 c54" cx="539.6" cy="297.8" r="3.1"/><circle class="a11 c55" cx="655.1" cy="299.3" r="3.1"/><circle class="a11 c56" cx="628.7" cy="300" r="3.1"/><circle class="a11 c56" cx="645" cy="300.3" r="3.1"/><circle class="a11 c56" cx="640.8" cy="300.1" r="3.1"/><circle class="a12 c54" cx="682.8" cy="297.7" r="3.1"/><circle class="a12 c56" cx="569.3" cy="300.2" r="3.1"/><circle class="a12 c49" cx="491.2" cy="290.7" r="3.1"/><circle class="a12 c55" cx="532.6" cy="298.3" r="3.1"/><circle class="a12 c56" cx="650.6" cy="300.5" r="3.1"/><circle class="a12 c56" cx="633.2" cy="300.5" r="3.1"/><circle class="a12 c49" cx="742.9" cy="290.9" r="3.1"/><circle class="a12 c55" cx="547.5" cy="298.4" r="3.1"/><circle class="a12 c53" cx="706.8" cy="296.2" r="3.1"/><circle class="a12 c52" cx="717.1" cy="295.2" r="3.1"/><circle class="a12 c56" cx="654" cy="301.2" r="3.1"/><circle class="a12 c56" cx="636.5" cy="300.8" r="3.1"/><circle class="a12 c55" cx="671.3" cy="299.4" r="3.1"/><circle class="a12 c55" cx="664.5" cy="300" r="3.1"/><circle class="a12 c55" cx="541.9" cy="299.5" r="3.1"/><circle class="a12 c55" cx="670.5" cy="300.2" r="3.1"/><circle class="a12 c55" cx="688.7" cy="299.5" r="3.1"/><circle class="a12 c56" cx="563.7" cy="300.4" r="3.1"/><circle class="a12 c55" cx="680.8" cy="300.4" r="3.1"/><circle class="a12 c56" cx="558.4" cy="300.8" r="3.1"/><circle class="a12 c54" cx="697" cy="298.7" r="3.1"/><circle class="a12 c55" cx="659.6" cy="300.2" r="3.1"/><circle class="a12 c50" cx="739.3" cy="293.3" r="3.1"/><circle class="a12 c56" cx="570.7" cy="301.6" r="3.1"/><circle class="a12 c56" cx="640.3" cy="301.2" r="3.1"/><circle class="a12 c56" cx="575.6" cy="301.5" r="3.1"/><circle class="a12 c54" cx="705.5" cy="297.7" r="3.1"/><circle class="a12 c52" cx="523.7" cy="296.8" r="3.1"/><circle class="a12 c53" cx="713.6" cy="297.3" r="3.1"/><circle class="a12 c56" cx="644.4" cy="301" r="3.1"/><circle class="a12 c55" cx="674.9" cy="300" r="3.1"/><circle class="a12 c56" cx="628.5" cy="301.4" r="3.1"/><circle class="a12 c50" cx="494" cy="293.6" r="3.1"/><circle class="a12 c55" cx="633.3" cy="300.3" r="3.1"/><circle class="a12 c56" cx="650" cy="301.6" r="3.1"/><circle class="a12 c55" cx="663.4" cy="301.2" r="3.1"/><circle class="a12 c55" cx="544" cy="300.5" r="3.1"/><circle class="a12 c49" cx="511.2" cy="292.1" r="3.1"/><circle class="a12 c47" cx="750.9" cy="289.2" r="3.1"/><circle class="a12 c56" cx="636" cy="301.7" r="3.1"/><circle class="a12 c51" cx="726.4" cy="295.6" r="3.1"/><circle class="a12 c55" cx="694.7" cy="300.1" r="3.1"/><circle class="a12 c56" cx="565.4" cy="301.5" r="3.1"/><circle class="a12 c54" cx="535.4" cy="299.8" r="3.1"/><circle class="a12 c50" cx="735.6" cy="293.7" r="3.1"/><circle class="a12 c51" cx="499.4" cy="295.3" r="3.1"/><circle class="a12 c50" cx="501.6" cy="293.1" r="3.1"/><circle class="a12 c54" cx="525.6" cy="299.4" r="3.1"/><circle class="a12 c56" cx="657.8" cy="302.2" r="3.1"/><circle class="a12 c55" cx="551.6" cy="300.8" r="3.1"/><circle class="a12 c54" cx="703.1" cy="300.1" r="3.1"/><circle class="a12 c54" cx="711.3" cy="299.1" r="3.1"/><circle class="a12 c55" cx="679.1" cy="300.8" r="3.1"/><circle class="a12 c56" cx="668.8" cy="302" r="3.1"/><circle class="a12 c52" cx="722.9" cy="296.9" r="3.1"/><circle class="a12 c56" cx="561.1" cy="303" r="3.1"/><circle class="a12 c55" cx="643.7" cy="301.6" r="3.1"/><circle class="a12 c55" cx="686.5" cy="300.6" r="3.1"/><circle class="a12 c55" cx="673.1" cy="300.9" r="3.1"/><circle class="a12 c49" cx="750.3" cy="292.2" r="3.1"/><circle class="a12 c56" cx="572.9" cy="302" r="3.1"/><circle class="a12 c55" cx="640.2" cy="301.5" r="3.1"/><circle class="a12 c55" cx="652.5" cy="301.6" r="3.1"/><circle class="a12 c56" cx="649.5" cy="302.2" r="3.1"/><circle class="a12 c55" cx="577.8" cy="302" r="3.1"/><circle class="a12 c55" cx="685.1" cy="302.1" r="3.1"/><circle class="a12 c56" cx="667.8" cy="302.4" r="3.1"/><circle class="a12 c45" cx="751.2" cy="287.1" r="3.1"/><circle class="a12 c53" cx="720.2" cy="298.7" r="3.1"/><circle class="a12 c55" cx="546.1" cy="301.1" r="3.1"/><circle class="a12 c55" cx="538.7" cy="301.4" r="3.1"/><circle class="a12 c56" cx="567.7" cy="303.3" r="3.1"/><circle class="a12 c55" cx="692.8" cy="301.5" r="3.1"/><circle class="a12 c56" cx="652" cy="303.1" r="3.1"/><circle class="a12 c55" cx="632.8" cy="302.2" r="3.1"/><circle class="a12 c55" cx="672.3" cy="301.9" r="3.1"/><circle class="a12 c56" cx="561.8" cy="303.4" r="3.1"/><circle class="a12 c54" cx="700.9" cy="300.6" r="3.1"/><circle class="a12 c56" cx="553.6" cy="303" r="3.1"/><circle class="a12 c54" cx="529.2" cy="300.4" r="3.1"/><circle class="a12 c55" cx="676.7" cy="302.6" r="3.1"/><circle class="a12 c55" cx="661.7" cy="302.5" r="3.1"/><circle class="a12 c55" cx="628.3" cy="302.7" r="3.1"/><circle class="a12 c55" cx="540.8" cy="302.1" r="3.1"/><circle class="a12 c49" cx="747.3" cy="294" r="3.1"/><circle class="a12 c55" cx="656.8" cy="302.3" r="3.1"/><circle class="a12 c56" cx="648.6" cy="303.1" r="3.1"/><circle class="a12 c55" cx="574.2" cy="303" r="3.1"/><circle class="a12 c52" cx="729.9" cy="298.2" r="3.1"/><circle class="a12 c53" cx="708.6" cy="299.8" r="3.1"/><circle class="a12 c55" cx="638.8" cy="303.3" r="3.1"/><circle class="a12 c49" cx="514.8" cy="294.6" r="3.1"/><circle class="a12 c55" cx="671" cy="303.3" r="3.1"/><circle class="a12 c56" cx="642.9" cy="303.8" r="3.1"/><circle class="a12 c56" cx="638.8" cy="303.8" r="3.1"/><circle class="a12 c55" cx="660.5" cy="303.5" r="3.1"/><circle class="a12 c55" cx="689.6" cy="303.2" r="3.1"/><circle class="a12 c55" cx="682.3" cy="303.2" r="3.1"/><circle class="a12 c56" cx="665.7" cy="303.8" r="3.1"/><circle class="a12 c55" cx="556.2" cy="303.7" r="3.1"/><circle class="a12 c56" cx="568.9" cy="304" r="3.1"/><circle class="a12 c53" cx="717.2" cy="299.9" r="3.1"/><circle class="a12 c54" cx="707.1" cy="300.8" r="3.1"/><circle class="a12 c50" cx="743.3" cy="296.3" r="3.1"/><circle class="a12 c55" cx="655.9" cy="303.6" r="3.1"/><circle class="a12 c55" cx="675.3" cy="303.2" r="3.1"/><circle class="a12 c55" cx="563.8" cy="304" r="3.1"/><circle class="a12 c55" cx="632.2" cy="304" r="3.1"/><circle class="a12 c54" cx="697.7" cy="302.1" r="3.1"/><circle class="a12 c52" cx="726.9" cy="298.6" r="3.1"/><circle class="a12 c55" cx="659.9" cy="304" r="3.1"/><circle class="a12 c55" cx="628" cy="304" r="3.1"/><circle class="a12 c55" cx="550.6" cy="303.7" r="3.1"/><circle class="a12 c55" cx="543.4" cy="303.5" r="3.1"/><circle class="a12 c54" cx="715" cy="301.2" r="3.1"/><circle class="a12 c46" cx="504.2" cy="291.4" r="3.1"/><circle class="a12 c55" cx="647.8" cy="303.5" r="3.1"/><circle class="a12 c56" cx="575.8" cy="304.6" r="3.1"/><circle class="a12 c50" cx="739.6" cy="296.9" r="3.1"/><circle class="a12 c55" cx="688.3" cy="303.4" r="3.1"/><circle class="a12 c55" cx="570.3" cy="304" r="3.1"/><circle class="a12 c55" cx="642.2" cy="303.8" r="3.1"/><circle class="a12 c55" cx="635.1" cy="303.7" r="3.1"/><circle class="a12 c55" cx="669" cy="304.4" r="3.1"/><circle class="a12 c55" cx="655" cy="304.5" r="3.1"/><circle class="a12 c55" cx="557.7" cy="304.6" r="3.1"/><circle class="a12 c54" cx="695.9" cy="302.4" r="3.1"/><circle class="a12 c56" cx="565.4" cy="304.8" r="3.1"/><circle class="a12 c51" cx="510.9" cy="298.6" r="3.1"/><circle class="a12 c56" cx="577" cy="305.3" r="3.1"/><circle class="a12 c54" cx="704.3" cy="302.8" r="3.1"/><circle class="a12 c55" cx="680.7" cy="304.3" r="3.1"/><circle class="a12 c49" cx="518.9" cy="295.7" r="3.1"/><circle class="a12 c55" cx="674.2" cy="304.4" r="3.1"/><circle class="a12 c56" cx="654.7" cy="305.1" r="3.1"/><circle class="a12 c56" cx="631.4" cy="305.3" r="3.1"/><circle class="a13 c55" cx="638" cy="304.6" r="3.1"/><circle class="a13 c55" cx="650.3" cy="304.4" r="3.1"/><circle class="a13 c46" cx="752.9" cy="291" r="3.1"/><circle class="a13 c52" cx="723.7" cy="300" r="3.1"/><circle class="a13 c55" cx="664.4" cy="304.9" r="3.1"/><circle class="a13 c55" cx="694.5" cy="303.9" r="3.1"/><circle class="a13 c54" cx="712.5" cy="303" r="3.1"/><circle class="a13 c55" cx="641.7" cy="305.3" r="3.1"/><circle class="a13 c48" cx="754.6" cy="294.7" r="3.1"/><circle class="a13 c56" cx="559.2" cy="306.4" r="3.1"/><circle class="a13 c48" cx="494.4" cy="294.4" r="3.1"/><circle class="a13 c55" cx="686.7" cy="304.5" r="3.1"/><circle class="a13 c55" cx="552.7" cy="305.6" r="3.1"/><circle class="a13 c54" cx="701.1" cy="303.1" r="3.1"/><circle class="a13 c55" cx="572" cy="305.4" r="3.1"/><circle class="a13 c55" cx="679.2" cy="305.1" r="3.1"/><circle class="a13 c48" cx="490.3" cy="294.8" r="3.1"/><circle class="a13 c52" cx="721.1" cy="300.9" r="3.1"/><circle class="a13 c54" cx="649.9" cy="304.1" r="3.1"/><circle class="a13 c56" cx="634.4" cy="306" r="3.1"/><circle class="a13 c55" cx="578.5" cy="305.9" r="3.1"/><circle class="a13 c55" cx="554.1" cy="306" r="3.1"/><circle class="a13 c55" cx="667.7" cy="305" r="3.1"/><circle class="a13 c55" cx="606" cy="305.2" r="3.1"/><circle class="a13 c56" cx="573.2" cy="306.7" r="3.1"/><circle class="a13 c53" cx="710.1" cy="302.9" r="3.1"/><circle class="a13 c55" cx="567" cy="305.7" r="3.1"/><circle class="a13 c49" cx="750.6" cy="296.8" r="3.1"/><circle class="a13 c55" cx="677.8" cy="305.7" r="3.1"/><circle class="a13 c51" cx="517.7" cy="300" r="3.1"/><circle class="a13 c55" cx="684.6" cy="305.8" r="3.1"/><circle class="a13 c54" cx="699.1" cy="304.1" r="3.1"/><circle class="a13 c47" cx="494.5" cy="294.5" r="3.1"/><circle class="a13 c52" cx="729.9" cy="302" r="3.1"/><circle class="a13 c53" cx="717.1" cy="303" r="3.1"/><circle class="a13 c55" cx="561.8" cy="305.7" r="3.1"/><circle class="a13 c55" cx="641" cy="305.9" r="3.1"/><circle class="a13 c55" cx="691.4" cy="305.6" r="3.1"/><circle class="a13 c55" cx="637.3" cy="305.6" r="3.1"/><circle class="a13 c48" cx="521.6" cy="295.5" r="3.1"/><circle class="a13 c54" cx="715.8" cy="304.1" r="3.1"/><circle class="a13 c51" cx="499.3" cy="300.9" r="3.1"/><circle class="a13 c55" cx="690.1" cy="306.1" r="3.1"/><circle class="a13 c55" cx="556.7" cy="306.8" r="3.1"/><circle class="a13 c52" cx="518.8" cy="301.6" r="3.1"/><circle class="a13 c55" cx="569.6" cy="306.6" r="3.1"/><circle class="a13 c55" cx="603.4" cy="306.5" r="3.1"/><circle class="a13 c55" cx="631" cy="306.3" r="3.1"/><circle class="a13 c55" cx="683" cy="306.1" r="3.1"/><circle class="a13 c55" cx="697.2" cy="305.7" r="3.1"/><circle class="a13 c54" cx="707.5" cy="304.6" r="3.1"/><circle class="a13 c51" cx="495.8" cy="300.7" r="3.1"/><circle class="a13 c55" cx="634.1" cy="306.7" r="3.1"/><circle class="a13 c56" cx="563.1" cy="307.7" r="3.1"/><circle class="a13 c52" cx="727.9" cy="301.9" r="3.1"/><circle class="a13 c55" cx="570" cy="307.5" r="3.1"/><circle class="a13 c55" cx="551.8" cy="307.2" r="3.1"/><circle class="a13 c51" cx="526.9" cy="300.7" r="3.1"/><circle class="a13 c54" cx="704.6" cy="305.4" r="3.1"/><circle class="a13 c54" cx="627.5" cy="306.3" r="3.1"/><circle class="a13 c55" cx="687.5" cy="307.3" r="3.1"/><circle class="a13 c56" cx="564.3" cy="308.3" r="3.1"/><circle class="a13 c53" cx="712.7" cy="304.7" r="3.1"/><circle class="a13 c49" cx="505" cy="299.1" r="3.1"/><circle class="a13 c55" cx="558.6" cy="307.3" r="3.1"/><circle class="a13 c55" cx="571.2" cy="308.1" r="3.1"/><circle class="a13 c54" cx="694.5" cy="306" r="3.1"/><circle class="a13 c55" cx="681.2" cy="307.4" r="3.1"/><circle class="a13 c51" cx="739.6" cy="301.9" r="3.1"/><circle class="a13 c55" cx="685.5" cy="307.8" r="3.1"/><circle class="a13 c55" cx="702.2" cy="307.3" r="3.1"/><circle class="a13 c55" cx="553.6" cy="307.6" r="3.1"/><circle class="a13 c52" cx="723.6" cy="304.7" r="3.1"/><circle class="a13 c54" cx="710.4" cy="306.5" r="3.1"/><circle class="a13 c49" cx="530.9" cy="299" r="3.1"/><circle class="a13 c55" cx="701.2" cy="307.8" r="3.1"/><circle class="a13 c56" cx="560.2" cy="309" r="3.1"/><circle class="a13 c49" cx="753.5" cy="299.2" r="3.1"/><circle class="a13 c50" cx="532.4" cy="301.6" r="3.1"/><circle class="a13 c51" cx="736.6" cy="303" r="3.1"/><circle class="a13 c52" cx="722.1" cy="304.7" r="3.1"/><circle class="a13 c54" cx="627" cy="307.3" r="3.1"/><circle class="a13 c55" cx="561.5" cy="309" r="3.1"/><circle class="a13 c54" cx="692.4" cy="307.5" r="3.1"/><circle class="a13 c55" cx="573" cy="308.7" r="3.1"/><circle class="a13 c56" cx="567.1" cy="309.5" r="3.1"/><circle class="a13 c54" cx="708.2" cy="307.2" r="3.1"/><circle class="a13 c55" cx="691.6" cy="308.3" r="3.1"/><circle class="a13 c49" cx="508.9" cy="300.6" r="3.1"/><circle class="a13 c52" cx="718.7" cy="305.6" r="3.1"/><circle class="a13 c42" cx="620.9" cy="289.5" r="3.1"/><circle class="a13 c47" cx="755.3" cy="297.3" r="3.1"/><circle class="a13 c56" cx="568.2" cy="309.9" r="3.1"/><circle class="a13 c51" cx="734.1" cy="303.6" r="3.1"/><circle class="a13 c51" cx="537.5" cy="303.4" r="3.1"/><circle class="a13 c54" cx="716.2" cy="307.7" r="3.1"/><circle class="a13 c54" cx="699.3" cy="308.6" r="3.1"/><circle class="a13 c55" cx="558" cy="310" r="3.1"/><circle class="a13 c55" cx="601.8" cy="309.2" r="3.1"/><circle class="a13 c54" cx="705.2" cy="307.9" r="3.1"/><circle class="a13 c41" cx="593.9" cy="289" r="3.1"/><circle class="a13 c45" cx="756" cy="295.7" r="3.1"/><circle class="a13 c55" cx="563.9" cy="310.5" r="3.1"/><circle class="a14 c49" cx="526.4" cy="301.7" r="3.1"/><circle class="a14 c50" cx="746.4" cy="302.1" r="3.1"/><circle class="a14 c50" cx="528.6" cy="303.5" r="3.1"/><circle class="a14 c51" cx="528.5" cy="303.8" r="3.1"/><circle class="a14 c51" cx="731.8" cy="304.7" r="3.1"/><circle class="a14 c55" cx="569.7" cy="310.4" r="3.1"/><circle class="a14 c55" cx="696.2" cy="309.7" r="3.1"/><circle class="a14 c54" cx="624" cy="308.9" r="3.1"/><circle class="a14 c54" cx="619.1" cy="309.4" r="3.1"/><circle class="a14 c49" cx="516.1" cy="301.8" r="3.1"/><circle class="a14 c49" cx="513.4" cy="301.8" r="3.1"/><circle class="a14 c54" cx="713.8" cy="308.6" r="3.1"/><circle class="a14 c55" cx="559.4" cy="310.1" r="3.1"/><circle class="a14 c54" cx="703" cy="309.2" r="3.1"/><circle class="a14 c55" cx="566" cy="311.3" r="3.1"/><circle class="a14 c52" cx="727.3" cy="306.5" r="3.1"/><circle class="a14 c51" cx="739.5" cy="305.3" r="3.1"/><circle class="a14 c54" cx="693.8" cy="310" r="3.1"/><circle class="a14 c55" cx="561.2" cy="311.4" r="3.1"/><circle class="a14 c55" cx="700.7" cy="310.5" r="3.1"/><circle class="a14 c49" cx="756.5" cy="302.6" r="3.1"/><circle class="a14 c50" cx="531.5" cy="304.9" r="3.1"/><circle class="a14 c51" cx="520.1" cy="306.4" r="3.1"/><circle class="a14 c54" cx="710.8" cy="309.2" r="3.1"/><circle class="a14 c52" cx="725" cy="307.8" r="3.1"/><circle class="a14 c54" cx="699" cy="310.8" r="3.1"/><circle class="a14 c50" cx="541.3" cy="304.5" r="3.1"/><circle class="a14 c51" cx="736.1" cy="305.9" r="3.1"/><circle class="a14 c46" cx="756.2" cy="299.5" r="3.1"/><circle class="a14 c49" cx="544.4" cy="303.1" r="3.1"/><circle class="a14 c54" cx="708.1" cy="309.9" r="3.1"/><circle class="a14 c53" cx="721.8" cy="309.2" r="3.1"/><circle class="a14 c48" cx="515.6" cy="301.7" r="3.1"/><circle class="a14 c55" cx="601.4" cy="311.5" r="3.1"/><circle class="a14 c55" cx="568.6" cy="311.9" r="3.1"/><circle class="a14 c50" cx="536.9" cy="304.5" r="3.1"/><circle class="a14 c50" cx="537.4" cy="305.8" r="3.1"/><circle class="a14 c51" cx="549" cy="306.9" r="3.1"/><circle class="a14 c49" cx="751.9" cy="303.2" r="3.1"/><circle class="a14 c54" cx="696.7" cy="311.2" r="3.1"/><circle class="a14 c55" cx="705.5" cy="312" r="3.1"/><circle class="a14 c53" cx="719.2" cy="310.2" r="3.1"/><circle class="a14 c48" cx="522.6" cy="302.7" r="3.1"/><circle class="a14 c49" cx="749.3" cy="304.4" r="3.1"/><circle class="a14 c45" cx="757.8" cy="298.4" r="3.1"/><circle class="a14 c52" cx="728.8" cy="308.5" r="3.1"/><circle class="a14 c50" cx="744.9" cy="306.1" r="3.1"/><circle class="a14 c54" cx="703.6" cy="311.4" r="3.1"/><circle class="a14 c54" cx="715.6" cy="311" r="3.1"/><circle class="a14 c40" cx="592.5" cy="292.2" r="3.1"/><circle class="a14 c54" cx="713.1" cy="312.3" r="3.1"/><circle class="a14 c52" cx="689.6" cy="309.5" r="3.1"/><circle class="a14 c54" cx="602.8" cy="312.1" r="3.1"/><circle class="a14 c52" cx="727.5" cy="310" r="3.1"/><circle class="a14 c43" cx="757" cy="296.2" r="3.1"/><circle class="a14 c51" cx="682.4" cy="307.9" r="3.1"/><circle class="a14 c50" cx="741" cy="306.5" r="3.1"/><circle class="a14 c48" cx="525.3" cy="304.2" r="3.1"/><circle class="a14 c49" cx="650.2" cy="305.7" r="3.1"/><circle class="a14 c52" cx="724.6" cy="310.3" r="3.1"/><circle class="a14 c54" cx="605.1" cy="313.1" r="3.1"/><circle class="a14 c54" cx="711.9" cy="312.4" r="3.1"/><circle class="a14 c54" cx="597.4" cy="313.2" r="3.1"/><circle class="a14 c54" cx="600.7" cy="313.7" r="3.1"/><circle class="a14 c54" cx="709.4" cy="313.2" r="3.1"/><circle class="a14 c51" cx="734.8" cy="310" r="3.1"/><circle class="a14 c49" cx="545.9" cy="306" r="3.1"/><circle class="a14 c52" cx="720.1" cy="311.6" r="3.1"/><circle class="a14 c49" cx="530.9" cy="306.5" r="3.1"/><circle class="a14 c50" cx="738.9" cy="308.5" r="3.1"/><circle class="a14 c50" cx="545.2" cy="307.8" r="3.1"/><circle class="a15 c52" cx="731.8" cy="310.8" r="3.1"/><circle class="a15 c52" cx="718.7" cy="312.2" r="3.1"/><circle class="a15 c48" cx="660" cy="305.5" r="3.1"/><circle class="a15 c50" cx="551.6" cy="307.9" r="3.1"/><circle class="a15 c54" cx="707" cy="314" r="3.1"/><circle class="a15 c37" cx="615.7" cy="289.5" r="3.1"/><circle class="a15 c53" cx="715.9" cy="313" r="3.1"/><circle class="a15 c52" cx="728.5" cy="311.6" r="3.1"/><circle class="a15 c49" cx="636" cy="307.6" r="3.1"/><circle class="a15 c54" cx="601.8" cy="314.9" r="3.1"/><circle class="a15 c54" cx="595.3" cy="314.7" r="3.1"/><circle class="a15 c55" cx="592.4" cy="315.4" r="3.1"/><circle class="a15 c54" cx="712.6" cy="314.4" r="3.1"/><circle class="a15 c48" cx="645.2" cy="306.1" r="3.1"/><circle class="a15 c48" cx="652.4" cy="306.1" r="3.1"/><circle class="a15 c48" cx="534.7" cy="306.7" r="3.1"/><circle class="a15 c52" cx="726.2" cy="312.2" r="3.1"/><circle class="a15 c45" cx="761.5" cy="302.2" r="3.1"/><circle class="a15 c51" cx="694.4" cy="311.5" r="3.1"/><circle class="a15 c48" cx="667.6" cy="306" r="3.1"/><circle class="a15 c54" cx="710.5" cy="314.6" r="3.1"/><circle class="a15 c48" cx="677.4" cy="307.1" r="3.1"/><circle class="a15 c52" cx="723.5" cy="313.6" r="3.1"/><circle class="a15 c47" cx="662.9" cy="305.7" r="3.1"/><circle class="a15 c50" cx="553.2" cy="309.8" r="3.1"/><circle class="a15 c49" cx="538.4" cy="307.8" r="3.1"/><circle class="a15 c50" cx="752.7" cy="309.3" r="3.1"/><circle class="a15 c48" cx="641.6" cy="306.7" r="3.1"/><circle class="a15 c48" cx="526.9" cy="307.6" r="3.1"/><circle class="a15 c51" cx="561.4" cy="312.6" r="3.1"/><circle class="a15 c48" cx="671.2" cy="306.9" r="3.1"/><circle class="a15 c35" cx="620.9" cy="289" r="3.1"/><circle class="a15 c48" cx="666.1" cy="306.9" r="3.1"/><circle class="a15 c53" cx="600.7" cy="315.2" r="3.1"/><circle class="a15 c50" cx="748.6" cy="310.4" r="3.1"/><circle class="a15 c47" cx="653.8" cy="306.1" r="3.1"/><circle class="a15 c54" cx="717.8" cy="315.7" r="3.1"/><circle class="a15 c52" cx="720.3" cy="314" r="3.1"/><circle class="a15 c48" cx="644.1" cy="306.7" r="3.1"/><circle class="a15 c54" cx="603.6" cy="316" r="3.1"/><circle class="a15 c48" cx="670.5" cy="307.6" r="3.1"/><circle class="a15 c54" cx="597.6" cy="316" r="3.1"/><circle class="a15 c51" cx="557.2" cy="312.6" r="3.1"/><circle class="a15 c47" cx="530.3" cy="306.7" r="3.1"/><circle class="a15 c49" cx="628.2" cy="308.9" r="3.1"/><circle class="a15 c53" cx="714.8" cy="315.6" r="3.1"/><circle class="a15 c47" cx="659.7" cy="306.8" r="3.1"/><circle class="a15 c43" cx="763.3" cy="301.6" r="3.1"/><circle class="a15 c47" cx="655.3" cy="307" r="3.1"/><circle class="a15 c47" cx="664" cy="307.2" r="3.1"/><circle class="a15 c53" cx="604.3" cy="316.4" r="3.1"/><circle class="a15 c50" cx="697.6" cy="312.4" r="3.1"/><circle class="a15 c47" cx="649.5" cy="307.2" r="3.1"/><circle class="a15 c47" cx="632.1" cy="308" r="3.1"/><circle class="a15 c51" cx="739.1" cy="313.1" r="3.1"/><circle class="a15 c47" cx="672.8" cy="307.3" r="3.1"/><circle class="a15 c47" cx="642.7" cy="307.4" r="3.1"/><circle class="a15 c53" cx="713" cy="316.7" r="3.1"/><circle class="a15 c46" cx="659.2" cy="307.1" r="3.1"/><circle class="a15 c47" cx="654.2" cy="307.9" r="3.1"/><circle class="a15 c52" cx="703.3" cy="314.9" r="3.1"/><circle class="a15 c47" cx="645.1" cy="308" r="3.1"/><circle class="a15 c47" cx="639.6" cy="308" r="3.1"/><circle class="a15 c47" cx="677.8" cy="307.9" r="3.1"/><circle class="a15 c46" cx="651.1" cy="307.7" r="3.1"/><circle class="a15 c47" cx="667.4" cy="307.9" r="3.1"/><circle class="a15 c48" cx="634.4" cy="308.6" r="3.1"/><circle class="a15 c53" cx="709.5" cy="317.2" r="3.1"/><circle class="a15 c49" cx="757" cy="310.3" r="3.1"/><circle class="a15 c53" cx="602.9" cy="317.4" r="3.1"/><circle class="a15 c42" cx="624" cy="300" r="3.1"/><circle class="a15 c48" cx="533.9" cy="309" r="3.1"/><circle class="a15 c52" cx="597.4" cy="316.7" r="3.1"/><circle class="a15 c52" cx="729.7" cy="316" r="3.1"/><circle class="a15 c53" cx="600" cy="317.4" r="3.1"/><circle class="a15 c48" cx="625.4" cy="310.5" r="3.1"/><circle class="a15 c48" cx="687.3" cy="309.8" r="3.1"/><circle class="a15 c53" cx="597.8" cy="317.7" r="3.1"/><circle class="a15 c51" cx="732.7" cy="314.8" r="3.1"/><circle class="a15 c49" cx="753.2" cy="312" r="3.1"/><circle class="a15 c47" cx="760.4" cy="309.3" r="3.1"/><circle class="a15 c47" cx="660.8" cy="308.7" r="3.1"/><circle class="a15 c52" cx="726" cy="317" r="3.1"/><circle class="a15 c46" cx="656.4" cy="308.5" r="3.1"/><circle class="a15 c35" cx="615.4" cy="292.3" r="3.1"/><circle class="a15 c31" cx="539" cy="285" r="3.1"/><circle class="a15 c44" cx="760.1" cy="304" r="3.1"/><circle class="a15 c52" cx="707.4" cy="316" r="3.1"/><circle class="a16 c46" cx="639" cy="308.8" r="3.1"/><circle class="a16 c47" cx="652.1" cy="309.1" r="3.1"/><circle class="a16 c46" cx="665" cy="308.8" r="3.1"/><circle class="a16 c47" cx="636.7" cy="309.4" r="3.1"/><circle class="a16 c47" cx="669.2" cy="309" r="3.1"/><circle class="a16 c52" cx="723.5" cy="317.7" r="3.1"/><circle class="a16 c46" cx="674.6" cy="308.2" r="3.1"/><circle class="a16 c47" cx="629.5" cy="309.7" r="3.1"/><circle class="a16 c53" cx="601.2" cy="318.5" r="3.1"/><circle class="a16 c47" cx="655.6" cy="309.4" r="3.1"/><circle class="a16 c46" cx="648.8" cy="308.6" r="3.1"/><circle class="a16 c51" cx="705.5" cy="316.3" r="3.1"/><circle class="a16 c47" cx="684.9" cy="309.6" r="3.1"/><circle class="a16 c46" cx="541.6" cy="309.1" r="3.1"/><circle class="a16 c34" cx="621" cy="290.4" r="3.1"/><circle class="a16 c47" cx="667.5" cy="309.6" r="3.1"/><circle class="a16 c52" cx="720.7" cy="318.1" r="3.1"/><circle class="a16 c46" cx="646.3" cy="308.9" r="3.1"/><circle class="a16 c54" cx="718.7" cy="319.2" r="3.1"/><circle class="a16 c47" cx="633.2" cy="309.7" r="3.1"/><circle class="a16 c46" cx="640.7" cy="309.4" r="3.1"/><circle class="a16 c46" cx="547.2" cy="308.8" r="3.1"/><circle class="a16 c46" cx="517.6" cy="309.3" r="3.1"/><circle class="a16 c48" cx="691.8" cy="310.8" r="3.1"/><circle class="a16 c46" cx="658.4" cy="309.5" r="3.1"/><circle class="a16 c51" cx="739.7" cy="315.6" r="3.1"/><circle class="a16 c46" cx="677.9" cy="308.9" r="3.1"/><circle class="a16 c47" cx="650.8" cy="310" r="3.1"/><circle class="a16 c47" cx="666.4" cy="310.1" r="3.1"/><circle class="a16 c47" cx="635.9" cy="310.1" r="3.1"/><circle class="a16 c46" cx="519.1" cy="309.4" r="3.1"/><circle class="a16 c46" cx="642.7" cy="309.9" r="3.1"/><circle class="a16 c45" cx="760.4" cy="307.5" r="3.1"/><circle class="a16 c39" cx="614.9" cy="299" r="3.1"/><circle class="a16 c53" cx="597.9" cy="319.3" r="3.1"/><circle class="a16 c47" cx="629" cy="310.6" r="3.1"/><circle class="a16 c40" cx="608.3" cy="300" r="3.1"/><circle class="a16 c46" cx="661.8" cy="309.7" r="3.1"/><circle class="a16 c47" cx="631" cy="310.5" r="3.1"/><circle class="a16 c46" cx="661.6" cy="310.4" r="3.1"/><circle class="a16 c46" cx="670.1" cy="310.4" r="3.1"/><circle class="a16 c48" cx="538.5" cy="312.8" r="3.1"/><circle class="a16 c37" cx="620.9" cy="296.8" r="3.1"/><circle class="a16 c46" cx="657.3" cy="310.3" r="3.1"/><circle class="a16 c46" cx="644.9" cy="310.1" r="3.1"/><circle class="a16 c47" cx="664.5" cy="310.9" r="3.1"/><circle class="a16 c46" cx="681.6" cy="309.4" r="3.1"/><circle class="a16 c46" cx="674.8" cy="310.4" r="3.1"/><circle class="a16 c47" cx="546.8" cy="310.8" r="3.1"/><circle class="a16 c52" cx="602.7" cy="319" r="3.1"/><circle class="a16 c47" cx="644.6" cy="311.2" r="3.1"/><circle class="a16 c52" cx="715" cy="318.3" r="3.1"/><circle class="a16 c45" cx="531.8" cy="308.5" r="3.1"/><circle class="a16 c52" cx="730.4" cy="318.1" r="3.1"/><circle class="a16 c53" cx="595.9" cy="319.8" r="3.1"/><circle class="a16 c47" cx="639.5" cy="311.1" r="3.1"/><circle class="a16 c49" cx="700.9" cy="314.2" r="3.1"/><circle class="a16 c37" cx="613" cy="297.1" r="3.1"/><circle class="a16 c49" cx="559.5" cy="313.5" r="3.1"/><circle class="a16 c52" cx="712.5" cy="319.4" r="3.1"/><circle class="a16 c52" cx="727.5" cy="319.3" r="3.1"/><circle class="a16 c46" cx="533.9" cy="309.7" r="3.1"/><circle class="a16 c46" cx="679.3" cy="310.4" r="3.1"/><circle class="a16 c52" cx="725" cy="319.5" r="3.1"/><circle class="a16 c46" cx="652.6" cy="311.1" r="3.1"/><circle class="a16 c47" cx="636.9" cy="311.3" r="3.1"/><circle class="a16 c47" cx="630.3" cy="311.4" r="3.1"/><circle class="a16 c46" cx="673" cy="310.9" r="3.1"/><circle class="a16 c47" cx="677.5" cy="311.7" r="3.1"/><circle class="a16 c47" cx="544.2" cy="311.6" r="3.1"/><circle class="a16 c46" cx="659.6" cy="310.8" r="3.1"/><circle class="a16 c47" cx="638.7" cy="311.8" r="3.1"/><circle class="a16 c46" cx="667.6" cy="311.3" r="3.1"/><circle class="a16 c46" cx="623.5" cy="311.6" r="3.1"/><circle class="a16 c46" cx="503.5" cy="311.2" r="3.1"/><circle class="a16 c52" cx="597.2" cy="320.3" r="3.1"/><circle class="a16 c46" cx="662.1" cy="311.7" r="3.1"/><circle class="a16 c49" cx="530.7" cy="314.5" r="3.1"/><circle class="a16 c46" cx="658.2" cy="311.3" r="3.1"/><circle class="a16 c47" cx="620.2" cy="312.6" r="3.1"/><circle class="a16 c46" cx="628.4" cy="311.9" r="3.1"/><circle class="a16 c50" cx="607.8" cy="316.7" r="3.1"/><circle class="a16 c46" cx="685.4" cy="310.8" r="3.1"/><circle class="a16 c46" cx="553.5" cy="311" r="3.1"/><circle class="a16 c46" cx="647.8" cy="311.1" r="3.1"/><circle class="a16 c48" cx="698.3" cy="313.7" r="3.1"/><circle class="a16 c47" cx="514.5" cy="312.6" r="3.1"/><circle class="a16 c53" cx="719.3" cy="321" r="3.1"/><circle class="a16 c52" cx="722.2" cy="320.3" r="3.1"/><circle class="a16 c46" cx="653.7" cy="311.8" r="3.1"/><circle class="a16 c43" cx="763" cy="307.2" r="3.1"/><circle class="a16 c46" cx="545.3" cy="311.7" r="3.1"/><circle class="a16 c51" cx="708.4" cy="318.3" r="3.1"/><circle class="a16 c46" cx="690.6" cy="311.4" r="3.1"/><circle class="a16 c48" cx="557.3" cy="313.8" r="3.1"/><circle class="a16 c46" cx="657.6" cy="312" r="3.1"/><circle class="a16 c46" cx="684" cy="311.3" r="3.1"/><circle class="a16 c46" cx="537.1" cy="312" r="3.1"/><circle class="a16 c46" cx="634.2" cy="312.4" r="3.1"/><circle class="a16 c48" cx="511" cy="314.4" r="3.1"/><circle class="a16 c48" cx="760" cy="313.7" r="3.1"/><circle class="a16 c46" cx="669" cy="312.1" r="3.1"/><circle class="a16 c46" cx="664.2" cy="312.6" r="3.1"/><circle class="a16 c46" cx="688.8" cy="311.8" r="3.1"/><circle class="a16 c46" cx="681.7" cy="311.8" r="3.1"/><circle class="a16 c46" cx="674.5" cy="311.9" r="3.1"/><circle class="a16 c49" cx="757" cy="315.8" r="3.1"/><circle class="a16 c46" cx="639.3" cy="312.8" r="3.1"/><circle class="a16 c46" cx="533.7" cy="312" r="3.1"/><circle class="a16 c48" cx="521.6" cy="314.5" r="3.1"/><circle class="a16 c46" cx="629.5" cy="312.5" r="3.1"/><circle class="a16 c45" cx="764.3" cy="310.2" r="3.1"/><circle class="a16 c46" cx="673.3" cy="312.5" r="3.1"/><circle class="a16 c52" cx="716.3" cy="320.5" r="3.1"/><circle class="a16 c46" cx="667.8" cy="312.6" r="3.1"/><circle class="a16 c50" cx="749.7" cy="318.2" r="3.1"/><circle class="a16 c46" cx="680.5" cy="312.4" r="3.1"/><circle class="a16 c46" cx="686.9" cy="312.5" r="3.1"/><circle class="a16 c46" cx="655.8" cy="312.2" r="3.1"/><circle class="a16 c46" cx="635.4" cy="312.9" r="3.1"/><circle class="a16 c50" cx="745.2" cy="318.3" r="3.1"/><circle class="a16 c46" cx="694.1" cy="312.7" r="3.1"/><circle class="a16 c47" cx="520.3" cy="313.9" r="3.1"/><circle class="a16 c46" cx="651.8" cy="312.9" r="3.1"/><circle class="a16 c52" cx="599.4" cy="320.9" r="3.1"/><circle class="a16 c46" cx="643.6" cy="312" r="3.1"/><circle class="a16 c46" cx="548.7" cy="312.4" r="3.1"/><circle class="a16 c52" cx="597.2" cy="321.7" r="3.1"/><circle class="a16 c46" cx="626.5" cy="312.9" r="3.1"/><circle class="a16 c46" cx="629.4" cy="313.2" r="3.1"/><circle class="a16 c46" cx="655" cy="313.1" r="3.1"/><circle class="a16 c46" cx="641" cy="313.2" r="3.1"/><circle class="a16 c46" cx="658" cy="313.3" r="3.1"/><circle class="a16 c48" cx="508.2" cy="314.8" r="3.1"/><circle class="a16 c44" cx="507.6" cy="309.6" r="3.1"/><circle class="a16 c48" cx="512.3" cy="314.6" r="3.1"/><circle class="a16 c46" cx="692.3" cy="312.9" r="3.1"/><circle class="a16 c47" cx="670.7" cy="313.8" r="3.1"/><circle class="a16 c50" cx="741.8" cy="319.1" r="3.1"/><circle class="a16 c49" cx="516.9" cy="316.4" r="3.1"/><circle class="a16 c52" cx="732.8" cy="321.3" r="3.1"/><circle class="a16 c46" cx="506" cy="313.3" r="3.1"/><circle class="a16 c46" cx="647.8" cy="312.9" r="3.1"/><circle class="a16 c46" cx="665" cy="313.2" r="3.1"/><circle class="a16 c50" cx="605.8" cy="318.9" r="3.1"/><circle class="a16 c48" cx="613.7" cy="315.7" r="3.1"/><circle class="a16 c46" cx="660.7" cy="313.8" r="3.1"/><circle class="a16 c46" cx="551.9" cy="312.7" r="3.1"/><circle class="a16 c46" cx="623.2" cy="313.8" r="3.1"/><circle class="a16 c46" cx="677.9" cy="312.7" r="3.1"/><circle class="a16 c46" cx="630.5" cy="314" r="3.1"/><circle class="a16 c34" cx="620.8" cy="295.8" r="3.1"/><circle class="a16 c40" cx="618.9" cy="304.1" r="3.1"/><circle class="a16 c45" cx="554.3" cy="312.3" r="3.1"/><circle class="a16 c46" cx="647.3" cy="313.4" r="3.1"/><circle class="a16 c50" cx="515.9" cy="318.2" r="3.1"/><circle class="a16 c32" cx="618.5" cy="293" r="3.1"/><circle class="a17 c46" cx="682.7" cy="313" r="3.1"/><circle class="a17 c46" cx="627.4" cy="314.1" r="3.1"/><circle class="a17 c46" cx="690.7" cy="313.1" r="3.1"/><circle class="a17 c46" cx="543.1" cy="313.4" r="3.1"/><circle class="a17 c46" cx="634.1" cy="314" r="3.1"/><circle class="a17 c46" cx="649.3" cy="314.3" r="3.1"/><circle class="a17 c47" cx="663.4" cy="314.5" r="3.1"/><circle class="a17 c46" cx="659.5" cy="314.3" r="3.1"/><circle class="a17 c52" cx="729.7" cy="322.7" r="3.1"/><circle class="a17 c52" cx="726.2" cy="322.7" r="3.1"/><circle class="a17 c46" cx="674.4" cy="313.8" r="3.1"/><circle class="a17 c46" cx="762.9" cy="314.6" r="3.1"/><circle class="a17 c45" cx="762.9" cy="311.4" r="3.1"/><circle class="a17 c47" cx="648.6" cy="314.8" r="3.1"/><circle class="a17 c46" cx="643.3" cy="314.2" r="3.1"/><circle class="a17 c46" cx="688" cy="313.2" r="3.1"/><circle class="a17 c50" cx="708.6" cy="319" r="3.1"/><circle class="a17 c46" cx="641.2" cy="313.9" r="3.1"/><circle class="a17 c47" cx="639.2" cy="314.9" r="3.1"/><circle class="a17 c46" cx="654.7" cy="314.3" r="3.1"/><circle class="a17 c46" cx="488.9" cy="314.9" r="3.1"/><circle class="a17 c46" cx="524.6" cy="314.4" r="3.1"/><circle class="a17 c52" cx="723.4" cy="323" r="3.1"/><circle class="a17 c46" cx="667" cy="314.3" r="3.1"/><circle class="a17 c46" cx="673.6" cy="314.4" r="3.1"/><circle class="a17 c46" cx="621.6" cy="314.7" r="3.1"/><circle class="a17 c46" cx="549.3" cy="314.4" r="3.1"/><circle class="a17 c48" cx="547.8" cy="316.1" r="3.1"/><circle class="a17 c47" cx="560.6" cy="315.6" r="3.1"/><circle class="a17 c46" cx="686.6" cy="313.8" r="3.1"/><circle class="a17 c52" cx="720.3" cy="324" r="3.1"/><circle class="a17 c48" cx="550.7" cy="316.2" r="3.1"/><circle class="a17 c48" cx="539.9" cy="317.2" r="3.1"/><circle class="a17 c46" cx="684.9" cy="314.6" r="3.1"/><circle class="a17 c46" cx="628.3" cy="315.3" r="3.1"/><circle class="a17 c46" cx="677.9" cy="313.9" r="3.1"/><circle class="a17 c46" cx="640.1" cy="315.5" r="3.1"/><circle class="a17 c50" cx="602.5" cy="320.6" r="3.1"/><circle class="a17 c46" cx="624.4" cy="314.7" r="3.1"/><circle class="a17 c46" cx="636.3" cy="315.5" r="3.1"/><circle class="a17 c33" cx="616.5" cy="295.3" r="3.1"/><circle class="a17 c46" cx="623" cy="315.6" r="3.1"/><circle class="a17 c52" cx="718.1" cy="323.6" r="3.1"/><circle class="a17 c47" cx="533.5" cy="316.5" r="3.1"/><circle class="a17 c51" cx="599.3" cy="322.8" r="3.1"/><circle class="a17 c49" cx="757" cy="318.5" r="3.1"/><circle class="a17 c48" cx="762.4" cy="316.8" r="3.1"/><circle class="a17 c46" cx="633.1" cy="315" r="3.1"/><circle class="a17 c46" cx="682.2" cy="315.4" r="3.1"/><circle class="a17 c46" cx="649.7" cy="315.5" r="3.1"/><circle class="a17 c47" cx="488.3" cy="316.6" r="3.1"/><circle class="a17 c46" cx="652.1" cy="315.5" r="3.1"/><circle class="a17 c46" cx="670" cy="314.7" r="3.1"/><circle class="a17 c46" cx="536" cy="314.9" r="3.1"/><circle class="a17 c48" cx="520.4" cy="318.2" r="3.1"/><circle class="a17 c46" cx="643.7" cy="315.6" r="3.1"/><circle class="a17 c46" cx="674.7" cy="315.4" r="3.1"/><circle class="a17 c46" cx="662.8" cy="315.5" r="3.1"/><circle class="a17 c50" cx="745.7" cy="320.8" r="3.1"/><circle class="a17 c48" cx="611.2" cy="317.5" r="3.1"/><circle class="a17 c46" cx="654.7" cy="316.1" r="3.1"/><circle class="a17 c47" cx="704.4" cy="316.8" r="3.1"/><circle class="a17 c46" cx="658.5" cy="315.8" r="3.1"/><circle class="a17 c48" cx="560.6" cy="318.3" r="3.1"/><circle class="a17 c48" cx="502" cy="318" r="3.1"/><circle class="a17 c46" cx="681.1" cy="314.8" r="3.1"/><circle class="a17 c46" cx="525.3" cy="315.2" r="3.1"/><circle class="a17 c45" cx="696.6" cy="314" r="3.1"/><circle class="a17 c50" cx="743.5" cy="321.6" r="3.1"/><circle class="a17 c40" cx="607.9" cy="307.3" r="3.1"/><circle class="a17 c46" cx="694.1" cy="314.9" r="3.1"/><circle class="a17 c46" cx="662.1" cy="316.2" r="3.1"/><circle class="a17 c50" cx="500.5" cy="320.6" r="3.1"/><circle class="a17 c51" cx="740" cy="322.8" r="3.1"/><circle class="a17 c47" cx="502.5" cy="316.8" r="3.1"/><circle class="a17 c40" cx="621.3" cy="307.3" r="3.1"/><circle class="a17 c46" cx="616.2" cy="315.9" r="3.1"/><circle class="a17 c48" cx="558" cy="318.8" r="3.1"/><circle class="a17 c46" cx="638.7" cy="316.4" r="3.1"/><circle class="a17 c46" cx="656.8" cy="316.4" r="3.1"/><circle class="a17 c51" cx="733.9" cy="323.7" r="3.1"/><circle class="a17 c47" cx="554.6" cy="317" r="3.1"/><circle class="a17 c45" cx="550.2" cy="314.4" r="3.1"/><circle class="a17 c46" cx="631" cy="315.9" r="3.1"/><circle class="a17 c46" cx="677.9" cy="315.9" r="3.1"/><circle class="a17 c46" cx="629" cy="316.4" r="3.1"/><circle class="a17 c48" cx="548.5" cy="318.3" r="3.1"/><circle class="a17 c48" cx="541.4" cy="318.5" r="3.1"/><circle class="a17 c46" cx="620.6" cy="316.1" r="3.1"/><circle class="a17 c51" cx="731.5" cy="323.8" r="3.1"/><circle class="a17 c46" cx="677.7" cy="316.5" r="3.1"/><circle class="a17 c49" cx="537.6" cy="320.2" r="3.1"/><circle class="a17 c46" cx="490.4" cy="315.3" r="3.1"/><circle class="a17 c45" cx="692.5" cy="315" r="3.1"/><circle class="a17 c49" cx="605.7" cy="319.6" r="3.1"/><circle class="a17 c49" cx="540.8" cy="319.7" r="3.1"/><circle class="a17 c46" cx="670.2" cy="316.1" r="3.1"/><circle class="a17 c50" cx="712.4" cy="321.4" r="3.1"/><circle class="a17 c50" cx="537.3" cy="321.4" r="3.1"/><circle class="a17 c46" cx="624" cy="316.4" r="3.1"/><circle class="a17 c52" cx="727.9" cy="325.1" r="3.1"/><circle class="a17 c48" cx="533.2" cy="319.2" r="3.1"/><circle class="a17 c46" cx="644.2" cy="316.3" r="3.1"/><circle class="a17 c46" cx="701.4" cy="316.4" r="3.1"/><circle class="a17 c43" cx="764.4" cy="311.2" r="3.1"/><circle class="a17 c46" cx="649" cy="316.8" r="3.1"/><circle class="a17 c46" cx="676" cy="316.6" r="3.1"/><circle class="a17 c48" cx="546.4" cy="319.6" r="3.1"/><circle class="a17 c46" cx="699.2" cy="316.2" r="3.1"/><circle class="a17 c46" cx="658.9" cy="316.8" r="3.1"/><circle class="a17 c46" cx="620.8" cy="316.6" r="3.1"/><circle class="a17 c46" cx="668.5" cy="316.5" r="3.1"/><circle class="a17 c46" cx="654.3" cy="317.2" r="3.1"/><circle class="a17 c46" cx="663.6" cy="317.2" r="3.1"/><circle class="a17 c48" cx="556.1" cy="319.8" r="3.1"/><circle class="a17 c52" cx="721.1" cy="325.2" r="3.1"/><circle class="a17 c48" cx="519.5" cy="319.8" r="3.1"/><circle class="a17 c46" cx="631.2" cy="317" r="3.1"/><circle class="a17 c50" cx="601.9" cy="321.9" r="3.1"/><circle class="a17 c46" cx="667.7" cy="317" r="3.1"/><circle class="a17 c46" cx="628.5" cy="317.5" r="3.1"/><circle class="a17 c46" cx="637.2" cy="316.8" r="3.1"/><circle class="a17 c46" cx="697.5" cy="316.2" r="3.1"/><circle class="a17 c46" cx="645.5" cy="317.1" r="3.1"/><circle class="a17 c49" cx="544.7" cy="321.1" r="3.1"/><circle class="a17 c39" cx="597.9" cy="307.2" r="3.1"/><circle class="a17 c48" cx="531.1" cy="319.1" r="3.1"/><circle class="a17 c47" cx="508.8" cy="318.4" r="3.1"/><circle class="a17 c46" cx="672.2" cy="317.4" r="3.1"/><circle class="a17 c46" cx="642.6" cy="317.2" r="3.1"/><circle class="a17 c47" cx="608.3" cy="318.7" r="3.1"/><circle class="a17 c45" cx="695.6" cy="316.2" r="3.1"/><circle class="a17 c50" cx="560.2" cy="322.2" r="3.1"/><circle class="a17 c46" cx="656.1" cy="317.3" r="3.1"/><circle class="a17 c51" cx="718.9" cy="324.9" r="3.1"/><circle class="a17 c37" cx="613.5" cy="303.9" r="3.1"/><circle class="a17 c46" cx="694.1" cy="316.9" r="3.1"/><circle class="a17 c49" cx="544.6" cy="321.9" r="3.1"/><circle class="a17 c46" cx="637.9" cy="317.5" r="3.1"/><circle class="a17 c46" cx="613.9" cy="317.5" r="3.1"/><circle class="a17 c46" cx="629.5" cy="318.1" r="3.1"/><circle class="a17 c46" cx="669.1" cy="317.9" r="3.1"/><circle class="a17 c49" cx="529" cy="321.2" r="3.1"/><circle class="a17 c46" cx="660.1" cy="317.6" r="3.1"/><circle class="a17 c46" cx="691.4" cy="317.2" r="3.1"/><circle class="a17 c46" cx="680.4" cy="317.9" r="3.1"/><circle class="a17 c46" cx="648.5" cy="317.9" r="3.1"/><circle class="a17 c48" cx="707.7" cy="319.7" r="3.1"/><circle class="a17 c46" cx="645.4" cy="318.2" r="3.1"/><circle class="a17 c45" cx="494.2" cy="316.4" r="3.1"/><circle class="a17 c47" cx="513.3" cy="319.1" r="3.1"/><circle class="a17 c46" cx="641" cy="318.2" r="3.1"/><circle class="a17 c50" cx="715.7" cy="323.6" r="3.1"/><circle class="a17 c46" cx="520.9" cy="318.7" r="3.1"/><circle class="a17 c46" cx="625" cy="317.8" r="3.1"/><circle class="a17 c47" cx="705.7" cy="318.9" r="3.1"/><circle class="a17 c47" cx="610.5" cy="319" r="3.1"/><circle class="a17 c49" cx="530.8" cy="321.6" r="3.1"/><circle class="a17 c46" cx="661.7" cy="318.4" r="3.1"/><circle class="a17 c50" cx="538.3" cy="323.2" r="3.1"/><circle class="a17 c46" cx="649.7" cy="318.5" r="3.1"/><circle class="a17 c46" cx="619.7" cy="318.2" r="3.1"/><circle class="a17 c45" cx="688.5" cy="316.9" r="3.1"/><circle class="a17 c46" cx="622.9" cy="318.9" r="3.1"/><circle class="a17 c46" cx="634.1" cy="318" r="3.1"/><circle class="a17 c46" cx="615.3" cy="317.8" r="3.1"/><circle class="a17 c37" cx="600.6" cy="304" r="3.1"/><circle class="a17 c46" cx="687" cy="317.9" r="3.1"/><circle class="a17 c46" cx="666.2" cy="317.9" r="3.1"/><circle class="a17 c48" cx="554.9" cy="320.6" r="3.1"/><circle class="a17 c46" cx="651.9" cy="318.9" r="3.1"/><circle class="a17 c49" cx="562.1" cy="322.3" r="3.1"/><circle class="a17 c52" cx="731.8" cy="328.1" r="3.1"/><circle class="a17 c46" cx="634.8" cy="318.5" r="3.1"/><circle class="a17 c46" cx="675.5" cy="318.2" r="3.1"/><circle class="a17 c48" cx="758.5" cy="321.9" r="3.1"/><circle class="a17 c50" cx="743.3" cy="325.1" r="3.1"/><circle class="a17 c33" cx="621.2" cy="299.5" r="3.1"/><circle class="a17 c46" cx="655.7" cy="318.9" r="3.1"/><circle class="a17 c48" cx="555.5" cy="320.8" r="3.1"/><circle class="a17 c49" cx="526.8" cy="323.5" r="3.1"/><circle class="a17 c46" cx="612.8" cy="318.9" r="3.1"/><circle class="a17 c47" cx="762.4" cy="320.4" r="3.1"/><circle class="a17 c47" cx="551" cy="320" r="3.1"/><circle class="a17 c45" cx="764.7" cy="317.1" r="3.1"/><circle class="a17 c45" cx="685.1" cy="317.7" r="3.1"/><circle class="a17 c47" cx="765.1" cy="320" r="3.1"/><circle class="a18 c46" cx="641.1" cy="319" r="3.1"/><circle class="a18 c51" cx="738.9" cy="325.5" r="3.1"/><circle class="a18 c34" cx="616.5" cy="301.3" r="3.1"/><circle class="a18 c46" cx="617.8" cy="319.3" r="3.1"/><circle class="a18 c46" cx="642.9" cy="319.4" r="3.1"/><circle class="a18 c48" cx="711.7" cy="321.4" r="3.1"/><circle class="a18 c46" cx="664.6" cy="318.5" r="3.1"/><circle class="a18 c48" cx="513.4" cy="321.2" r="3.1"/><circle class="a18 c46" cx="681.8" cy="318.6" r="3.1"/><circle class="a18 c44" cx="476.3" cy="315.2" r="3.1"/><circle class="a18 c46" cx="614.1" cy="319.2" r="3.1"/><circle class="a18 c49" cx="600.5" cy="323.4" r="3.1"/><circle class="a18 c46" cx="702.8" cy="318.3" r="3.1"/><circle class="a18 c48" cx="605.1" cy="320.8" r="3.1"/><circle class="a18 c46" cx="629.5" cy="319" r="3.1"/><circle class="a18 c52" cx="728.3" cy="327.3" r="3.1"/><circle class="a18 c46" cx="679.9" cy="319.2" r="3.1"/><circle class="a18 c48" cx="604" cy="321.7" r="3.1"/><circle class="a18 c46" cx="636.8" cy="319.2" r="3.1"/><circle class="a18 c45" cx="700.8" cy="318.1" r="3.1"/><circle class="a18 c45" cx="673.7" cy="318.3" r="3.1"/><circle class="a18 c50" cx="543.3" cy="324.3" r="3.1"/><circle class="a18 c49" cx="531.1" cy="322.6" r="3.1"/><circle class="a18 c45" cx="698" cy="318.3" r="3.1"/><circle class="a18 c51" cx="735.2" cy="326.4" r="3.1"/><circle class="a18 c46" cx="615.6" cy="320" r="3.1"/><circle class="a18 c46" cx="653.8" cy="319.2" r="3.1"/><circle class="a18 c49" cx="548.9" cy="323.6" r="3.1"/><circle class="a18 c51" cx="725.9" cy="327.3" r="3.1"/><circle class="a18 c46" cx="626.1" cy="319.4" r="3.1"/><circle class="a18 c43" cx="765.8" cy="314.2" r="3.1"/><circle class="a18 c50" cx="546.3" cy="324.9" r="3.1"/><circle class="a18 c46" cx="659.6" cy="319.8" r="3.1"/><circle class="a18 c48" cx="519" cy="322.2" r="3.1"/><circle class="a18 c46" cx="677.3" cy="319.4" r="3.1"/><circle class="a18 c51" cx="723.1" cy="327.5" r="3.1"/><circle class="a18 c46" cx="694.1" cy="318.9" r="3.1"/><circle class="a18 c46" cx="668.9" cy="319.6" r="3.1"/><circle class="a18 c46" cx="631" cy="319.7" r="3.1"/><circle class="a18 c49" cx="524.3" cy="323.7" r="3.1"/><circle class="a18 c46" cx="648.5" cy="319.5" r="3.1"/><circle class="a18 c48" cx="510.5" cy="321.7" r="3.1"/><circle class="a18 c51" cx="719.7" cy="326.4" r="3.1"/><circle class="a18 c46" cx="645" cy="320" r="3.1"/><circle class="a18 c46" cx="675.8" cy="320.1" r="3.1"/><circle class="a18 c48" cx="602.8" cy="323.2" r="3.1"/><circle class="a18 c49" cx="524" cy="323.7" r="3.1"/><circle class="a18 c46" cx="637.1" cy="319.6" r="3.1"/><circle class="a18 c46" cx="612" cy="320.2" r="3.1"/><circle class="a18 c48" cx="557.1" cy="322.9" r="3.1"/><circle class="a18 c46" cx="705.6" cy="320.1" r="3.1"/><circle class="a18 c46" cx="653.2" cy="320.4" r="3.1"/><circle class="a18 c46" cx="630.2" cy="320.4" r="3.1"/><circle class="a18 c46" cx="666" cy="319.9" r="3.1"/><circle class="a18 c45" cx="621.2" cy="319.3" r="3.1"/><circle class="a18 c50" cx="717.7" cy="326.3" r="3.1"/><circle class="a18 c46" cx="671.6" cy="320.3" r="3.1"/><circle class="a18 c49" cx="541.7" cy="325.3" r="3.1"/><circle class="a18 c48" cx="531.7" cy="322.3" r="3.1"/><circle class="a18 c48" cx="556.8" cy="322.9" r="3.1"/><circle class="a18 c46" cx="643" cy="320.3" r="3.1"/><circle class="a18 c46" cx="670.2" cy="320.8" r="3.1"/><circle class="a18 c46" cx="623.4" cy="320.4" r="3.1"/><circle class="a18 c46" cx="608.9" cy="320.8" r="3.1"/><circle class="a18 c50" cx="557.3" cy="326.1" r="3.1"/><circle class="a18 c45" cx="687" cy="319.1" r="3.1"/><circle class="a18 c46" cx="640.7" cy="320.5" r="3.1"/><circle class="a18 c46" cx="618.8" cy="321.2" r="3.1"/><circle class="a18 c50" cx="540.6" cy="325.8" r="3.1"/><circle class="a18 c45" cx="703.6" cy="319.6" r="3.1"/><circle class="a18 c46" cx="654.4" cy="320.9" r="3.1"/><circle class="a18 c46" cx="614.9" cy="320.9" r="3.1"/><circle class="a18 c46" cx="623.3" cy="320.8" r="3.1"/><circle class="a18 c46" cx="627.9" cy="320.9" r="3.1"/><circle class="a18 c35" cx="615.4" cy="304.4" r="3.1"/><circle class="a18 c46" cx="647.5" cy="320.3" r="3.1"/><circle class="a18 c50" cx="543.4" cy="326.8" r="3.1"/><circle class="a18 c46" cx="667.2" cy="321.1" r="3.1"/><circle class="a18 c46" cx="680.9" cy="321.2" r="3.1"/><circle class="a18 c48" cx="715.1" cy="324.3" r="3.1"/><circle class="a18 c49" cx="550.7" cy="324.7" r="3.1"/><circle class="a18 c50" cx="552.4" cy="326.8" r="3.1"/><circle class="a18 c51" cx="554.5" cy="327.9" r="3.1"/><circle class="a18 c46" cx="610" cy="321.3" r="3.1"/><circle class="a18 c48" cx="712.5" cy="323.8" r="3.1"/><circle class="a18 c51" cx="560" cy="328" r="3.1"/><circle class="a18 c46" cx="652.1" cy="321.2" r="3.1"/><circle class="a18 c46" cx="658.4" cy="321.4" r="3.1"/><circle class="a18 c46" cx="677.1" cy="321.3" r="3.1"/><circle class="a18 c45" cx="696.4" cy="319.8" r="3.1"/><circle class="a18 c45" cx="693.2" cy="320.4" r="3.1"/><circle class="a18 c51" cx="733.9" cy="329.6" r="3.1"/><circle class="a18 c45" cx="698.6" cy="319.4" r="3.1"/><circle class="a18 c52" cx="729.9" cy="330.4" r="3.1"/><circle class="a18 c46" cx="632.7" cy="321.1" r="3.1"/><circle class="a18 c50" cx="564.4" cy="328.1" r="3.1"/><circle class="a18 c46" cx="623.2" cy="321.7" r="3.1"/><circle class="a18 c52" cx="725" cy="330.6" r="3.1"/><circle class="a18 c46" cx="636.7" cy="321.1" r="3.1"/><circle class="a18 c46" cx="605.8" cy="322.2" r="3.1"/><circle class="a18 c48" cx="484.2" cy="323.6" r="3.1"/><circle class="a18 c45" cx="664.1" cy="320.8" r="3.1"/><circle class="a18 c51" cx="736.1" cy="329.6" r="3.1"/><circle class="a18 c46" cx="613" cy="321.2" r="3.1"/><circle class="a18 c51" cx="738.3" cy="329.2" r="3.1"/><circle class="a18 c45" cx="690.1" cy="320.7" r="3.1"/><circle class="a18 c48" cx="535.9" cy="324.2" r="3.1"/><circle class="a18 c46" cx="649" cy="321.6" r="3.1"/><circle class="a18 c50" cx="750" cy="327.1" r="3.1"/><circle class="a18 c31" cx="608.6" cy="299.6" r="3.1"/><circle class="a18 c46" cx="641.2" cy="321.5" r="3.1"/><circle class="a18 c45" cx="688.6" cy="320.8" r="3.1"/><circle class="a18 c46" cx="633" cy="321.8" r="3.1"/><circle class="a18 c46" cx="643.4" cy="321.8" r="3.1"/><circle class="a18 c48" cx="765.2" cy="324.4" r="3.1"/><circle class="a18 c45" cx="662.4" cy="321" r="3.1"/><circle class="a18 c49" cx="757" cy="325.7" r="3.1"/><circle class="a18 c46" cx="660.8" cy="321.7" r="3.1"/><circle class="a18 c46" cx="654" cy="322.4" r="3.1"/><circle class="a18 c46" cx="611.6" cy="322" r="3.1"/><circle class="a18 c45" cx="687.1" cy="320.9" r="3.1"/><circle class="a18 c46" cx="683.8" cy="322" r="3.1"/><circle class="a18 c46" cx="673.3" cy="321.5" r="3.1"/><circle class="a18 c46" cx="618.2" cy="322.2" r="3.1"/><circle class="a18 c46" cx="637.9" cy="322.3" r="3.1"/><circle class="a18 c51" cx="723.9" cy="330.2" r="3.1"/><circle class="a18 c48" cx="599.8" cy="325.3" r="3.1"/><circle class="a18 c46" cx="670.5" cy="322.1" r="3.1"/><circle class="a18 c46" cx="708.7" cy="322.1" r="3.1"/><circle class="a18 c47" cx="513.8" cy="323.6" r="3.1"/><circle class="a18 c45" cx="628.2" cy="321.5" r="3.1"/><circle class="a18 c47" cx="490.8" cy="323.4" r="3.1"/><circle class="a18 c46" cx="659.9" cy="321.9" r="3.1"/><circle class="a18 c48" cx="515.4" cy="324.6" r="3.1"/><circle class="a18 c46" cx="681.3" cy="322.1" r="3.1"/><circle class="a18 c46" cx="606.7" cy="322.9" r="3.1"/><circle class="a18 c46" cx="645.5" cy="322.8" r="3.1"/><circle class="a18 c47" cx="603.3" cy="324" r="3.1"/><circle class="a18 c33" cx="615.1" cy="303.4" r="3.1"/><circle class="a18 c50" cx="720.1" cy="328.8" r="3.1"/><circle class="a18 c46" cx="666.6" cy="322.7" r="3.1"/><circle class="a18 c46" cx="477.9" cy="323.1" r="3.1"/><circle class="a18 c46" cx="664.7" cy="323.2" r="3.1"/><circle class="a18 c46" cx="656.5" cy="322.6" r="3.1"/><circle class="a18 c45" cx="701.8" cy="321.6" r="3.1"/><circle class="a18 c45" cx="707.4" cy="321.6" r="3.1"/><circle class="a18 c46" cx="635.2" cy="322.7" r="3.1"/><circle class="a18 c46" cx="678" cy="322.3" r="3.1"/><circle class="a18 c46" cx="640.2" cy="322.7" r="3.1"/><circle class="a18 c46" cx="609.8" cy="322.5" r="3.1"/><circle class="a18 c46" cx="623.5" cy="322.3" r="3.1"/><circle class="a18 c45" cx="675.5" cy="322.1" r="3.1"/><circle class="a18 c46" cx="673.4" cy="322.7" r="3.1"/><circle class="a18 c46" cx="615.9" cy="322.7" r="3.1"/><circle class="a18 c46" cx="618" cy="323" r="3.1"/><circle class="a18 c45" cx="700" cy="321.2" r="3.1"/><circle class="a18 c46" cx="608.8" cy="323.4" r="3.1"/><circle class="a18 c36" cx="607" cy="308.5" r="3.1"/><circle class="a18 c48" cx="520.1" cy="325.6" r="3.1"/><circle class="a18 c46" cx="669.8" cy="323.7" r="3.1"/><circle class="a18 c45" cx="696.3" cy="322.2" r="3.1"/><circle class="a18 c43" cx="767" cy="318.6" r="3.1"/><circle class="a18 c20" cx="594" cy="284.5" r="3.1"/><circle class="a18 c49" cx="717.8" cy="327.8" r="3.1"/><circle class="a18 c46" cx="631.6" cy="322.8" r="3.1"/><circle class="a18 c50" cx="558.7" cy="329.4" r="3.1"/><circle class="a18 c49" cx="547.9" cy="326.9" r="3.1"/><circle class="a18 c47" cx="603.1" cy="324.8" r="3.1"/><circle class="a18 c49" cx="531.1" cy="327.9" r="3.1"/><circle class="a18 c46" cx="650.8" cy="323.1" r="3.1"/><circle class="a18 c48" cx="542" cy="326" r="3.1"/><circle class="a18 c46" cx="641.3" cy="323.5" r="3.1"/><circle class="a18 c46" cx="638.6" cy="323.9" r="3.1"/><circle class="a18 c46" cx="478.4" cy="323" r="3.1"/><circle class="a18 c48" cx="525.9" cy="326" r="3.1"/><circle class="a18 c50" cx="525.3" cy="329" r="3.1"/><circle class="a18 c46" cx="624.1" cy="323.2" r="3.1"/><circle class="a18 c46" cx="658.4" cy="323.4" r="3.1"/><circle class="a18 c50" cx="554.7" cy="328.6" r="3.1"/><circle class="a18 c48" cx="523.2" cy="326.1" r="3.1"/><circle class="a18 c45" cx="693.7" cy="322" r="3.1"/><circle class="a18 c48" cx="499.7" cy="325.9" r="3.1"/><circle class="a18 c46" cx="632.5" cy="323.4" r="3.1"/><circle class="a18 c46" cx="628" cy="323.6" r="3.1"/><circle class="a18 c45" cx="690.5" cy="322.2" r="3.1"/><circle class="a18 c46" cx="612.5" cy="323.7" r="3.1"/><circle class="a18 c46" cx="663.8" cy="323.6" r="3.1"/><circle class="a18 c48" cx="506.6" cy="325.9" r="3.1"/><circle class="a18 c48" cx="599.9" cy="326.8" r="3.1"/><circle class="a18 c46" cx="647.1" cy="323.6" r="3.1"/><circle class="a18 c46" cx="617.2" cy="323.9" r="3.1"/><circle class="a18 c45" cx="682.2" cy="323.1" r="3.1"/><circle class="a18 c47" cx="512.7" cy="325.7" r="3.1"/><circle class="a18 c45" cx="688.1" cy="322.4" r="3.1"/><circle class="a18 c49" cx="549.9" cy="328.7" r="3.1"/><circle class="a18 c44" cx="475.6" cy="320.7" r="3.1"/><circle class="a18 c50" cx="547.5" cy="330.2" r="3.1"/><circle class="a18 c46" cx="660.6" cy="324.2" r="3.1"/><circle class="a18 c31" cx="625.8" cy="302" r="3.1"/><circle class="a18 c46" cx="677.2" cy="323.7" r="3.1"/><circle class="a19 c49" cx="520.4" cy="328.9" r="3.1"/><circle class="a19 c46" cx="635.4" cy="324.4" r="3.1"/><circle class="a19 c46" cx="628.3" cy="324.4" r="3.1"/><circle class="a19 c46" cx="674.5" cy="323.9" r="3.1"/><circle class="a19 c46" cx="712.7" cy="325" r="3.1"/><circle class="a19 c46" cx="607.6" cy="324.2" r="3.1"/><circle class="a19 c46" cx="623.4" cy="323.9" r="3.1"/><circle class="a19 c46" cx="605.4" cy="324.9" r="3.1"/><circle class="a19 c45" cx="650.4" cy="323.7" r="3.1"/><circle class="a19 c32" cx="524" cy="303" r="3.1"/><circle class="a19 c46" cx="641.9" cy="324.7" r="3.1"/><circle class="a19 c50" cx="549.3" cy="330.3" r="3.1"/><circle class="a19 c45" cx="655.7" cy="323.8" r="3.1"/><circle class="a19 c49" cx="534.6" cy="329.5" r="3.1"/><circle class="a19 c51" cx="559.9" cy="331.2" r="3.1"/><circle class="a19 c52" cx="729.2" cy="332.9" r="3.1"/><circle class="a19 c51" cx="564.9" cy="331.3" r="3.1"/><circle class="a19 c51" cx="550.6" cy="331.8" r="3.1"/><circle class="a19 c46" cx="652.7" cy="325" r="3.1"/><circle class="a19 c46" cx="633.7" cy="324.7" r="3.1"/><circle class="a19 c46" cx="710.5" cy="324.4" r="3.1"/><circle class="a19 c46" cx="470.8" cy="324.8" r="3.1"/><circle class="a19 c51" cx="735.4" cy="332" r="3.1"/><circle class="a19 c45" cx="707.8" cy="323.5" r="3.1"/><circle class="a19 c51" cx="568.9" cy="332.5" r="3.1"/><circle class="a19 c46" cx="670.2" cy="324.5" r="3.1"/><circle class="a19 c52" cx="576.8" cy="333.4" r="3.1"/><circle class="a19 c51" cx="724.5" cy="331.7" r="3.1"/><circle class="a19 c46" cx="666.8" cy="324.6" r="3.1"/><circle class="a19 c46" cx="609.9" cy="324.9" r="3.1"/><circle class="a19 c45" cx="468.7" cy="323.5" r="3.1"/><circle class="a19 c46" cx="645.6" cy="324.5" r="3.1"/><circle class="a19 c45" cx="705" cy="323.3" r="3.1"/><circle class="a19 c50" cx="542.7" cy="330.4" r="3.1"/><circle class="a19 c47" cx="480" cy="326.1" r="3.1"/><circle class="a19 c50" cx="534" cy="330.4" r="3.1"/><circle class="a19 c34" cx="607.6" cy="306.6" r="3.1"/><circle class="a19 c48" cx="515.8" cy="328.4" r="3.1"/><circle class="a19 c46" cx="620.6" cy="324.4" r="3.1"/><circle class="a19 c46" cx="618" cy="324.8" r="3.1"/><circle class="a19 c46" cx="649.3" cy="324.8" r="3.1"/><circle class="a19 c51" cx="589.1" cy="332.9" r="3.1"/><circle class="a19 c51" cx="554.9" cy="331.8" r="3.1"/><circle class="a19 c50" cx="743.3" cy="330.8" r="3.1"/><circle class="a19 c45" cx="702.7" cy="322.9" r="3.1"/><circle class="a19 c41" cx="768.2" cy="317.4" r="3.1"/><circle class="a19 c45" cx="698" cy="323.9" r="3.1"/><circle class="a19 c51" cx="559.1" cy="332.2" r="3.1"/><circle class="a19 c46" cx="646.7" cy="325.2" r="3.1"/><circle class="a19 c46" cx="626.1" cy="324.8" r="3.1"/><circle class="a19 c46" cx="501.5" cy="324.9" r="3.1"/><circle class="a19 c46" cx="637.2" cy="325.1" r="3.1"/><circle class="a19 c46" cx="658.8" cy="324.9" r="3.1"/><circle class="a19 c51" cx="571.9" cy="333.4" r="3.1"/><circle class="a19 c46" cx="606.6" cy="325.4" r="3.1"/><circle class="a19 c45" cx="692.2" cy="324.2" r="3.1"/><circle class="a19 c50" cx="721.1" cy="331" r="3.1"/><circle class="a19 c46" cx="654" cy="325.9" r="3.1"/><circle class="a19 c45" cx="695.7" cy="323.9" r="3.1"/><circle class="a19 c45" cx="683.6" cy="324.3" r="3.1"/><circle class="a19 c49" cx="746.2" cy="330.1" r="3.1"/><circle class="a19 c48" cx="756.8" cy="329" r="3.1"/><circle class="a19 c35" cx="615.9" cy="310.1" r="3.1"/><circle class="a19 c47" cx="760.9" cy="327.2" r="3.1"/><circle class="a19 c45" cx="688.1" cy="323.9" r="3.1"/><circle class="a19 c46" cx="642.8" cy="325.4" r="3.1"/><circle class="a19 c46" cx="675.7" cy="325.4" r="3.1"/><circle class="a19 c45" cx="614.3" cy="324.9" r="3.1"/><circle class="a19 c45" cx="680.6" cy="324.8" r="3.1"/><circle class="a19 c45" cx="622.1" cy="325.1" r="3.1"/><circle class="a19 c46" cx="648.3" cy="326.1" r="3.1"/><circle class="a19 c46" cx="671.4" cy="325.6" r="3.1"/><circle class="a19 c51" cx="562.7" cy="333.1" r="3.1"/><circle class="a19 c45" cx="667.9" cy="325.4" r="3.1"/><circle class="a19 c51" cx="573.2" cy="334.2" r="3.1"/><circle class="a19 c46" cx="626.6" cy="325.5" r="3.1"/><circle class="a19 c46" cx="643.3" cy="326.3" r="3.1"/><circle class="a19 c36" cx="607.7" cy="311.1" r="3.1"/><circle class="a19 c52" cx="575.6" cy="334.7" r="3.1"/><circle class="a19 c46" cx="660.6" cy="325.6" r="3.1"/><circle class="a19 c51" cx="569.1" cy="333.9" r="3.1"/><circle class="a19 c48" cx="763.9" cy="328.2" r="3.1"/><circle class="a19 c50" cx="550.2" cy="332.5" r="3.1"/><circle class="a19 c47" cx="715.9" cy="328" r="3.1"/><circle class="a19 c46" cx="614.9" cy="325.7" r="3.1"/><circle class="a19 c51" cx="566.6" cy="333.9" r="3.1"/><circle class="a19 c46" cx="658.5" cy="326.1" r="3.1"/><circle class="a19 c46" cx="621.2" cy="325.8" r="3.1"/><circle class="a19 c46" cx="650.6" cy="326.6" r="3.1"/><circle class="a19 c46" cx="605.1" cy="326.1" r="3.1"/><circle class="a19 c51" cx="561.9" cy="333.7" r="3.1"/><circle class="a19 c45" cx="632.9" cy="325.5" r="3.1"/><circle class="a19 c48" cx="511.8" cy="328.6" r="3.1"/><circle class="a19 c45" cx="629.2" cy="325.7" r="3.1"/><circle class="a19 c51" cx="565" cy="334.8" r="3.1"/><circle class="a19 c50" cx="555.1" cy="333" r="3.1"/><circle class="a19 c51" cx="730.6" cy="334.3" r="3.1"/><circle class="a19 c45" cx="608.7" cy="326" r="3.1"/><circle class="a19 c46" cx="633.7" cy="326.3" r="3.1"/><circle class="a19 c45" cx="613.4" cy="325.9" r="3.1"/><circle class="a19 c46" cx="712.1" cy="326.9" r="3.1"/><circle class="a19 c49" cx="545.2" cy="331.8" r="3.1"/><circle class="a19 c50" cx="736.5" cy="333.4" r="3.1"/><circle class="a19 c33" cx="519" cy="307" r="3.1"/><circle class="a19 c51" cx="733.2" cy="334.2" r="3.1"/><circle class="a19 c51" cx="563.1" cy="335" r="3.1"/><circle class="a19 c51" cx="575.4" cy="335.3" r="3.1"/><circle class="a19 c45" cx="624.3" cy="326.3" r="3.1"/><circle class="a19 c45" cx="637.2" cy="326.5" r="3.1"/><circle class="a19 c46" cx="603.3" cy="327.2" r="3.1"/><circle class="a19 c50" cx="742.8" cy="333.3" r="3.1"/><circle class="a19 c45" cx="675.4" cy="326.5" r="3.1"/><circle class="a19 c46" cx="608.5" cy="327.1" r="3.1"/><circle class="a19 c44" cx="705.8" cy="324.5" r="3.1"/><circle class="a19 c45" cx="667.4" cy="326.4" r="3.1"/><circle class="a19 c46" cx="654.5" cy="326.7" r="3.1"/><circle class="a19 c45" cx="696.3" cy="325.7" r="3.1"/><circle class="a19 c50" cx="551.1" cy="333.8" r="3.1"/><circle class="a19 c52" cx="561.4" cy="335.9" r="3.1"/><circle class="a19 c45" cx="665.8" cy="326.6" r="3.1"/><circle class="a19 c45" cx="639" cy="326.8" r="3.1"/><circle class="a19 c50" cx="724.8" cy="333.2" r="3.1"/><circle class="a19 c45" cx="689.6" cy="326.1" r="3.1"/><circle class="a19 c44" cx="708.9" cy="324.9" r="3.1"/><circle class="a19 c44" cx="703.1" cy="325" r="3.1"/><circle class="a19 c45" cx="699.7" cy="325.6" r="3.1"/><circle class="a19 c49" cx="512.6" cy="331.9" r="3.1"/><circle class="a19 c52" cx="569.7" cy="336" r="3.1"/><circle class="a19 c50" cx="748.7" cy="332.8" r="3.1"/><circle class="a19 c46" cx="493.6" cy="328.2" r="3.1"/><circle class="a19 c45" cx="619" cy="326.4" r="3.1"/><circle class="a19 c50" cx="545.3" cy="333.5" r="3.1"/><circle class="a19 c48" cx="523.8" cy="330" r="3.1"/><circle class="a19 c50" cx="740.1" cy="333.9" r="3.1"/><circle class="a19 c49" cx="721.2" cy="332" r="3.1"/><circle class="a19 c45" cx="611.2" cy="326.7" r="3.1"/><circle class="a19 c49" cx="746.2" cy="332.5" r="3.1"/><circle class="a19 c45" cx="629.3" cy="326.9" r="3.1"/><circle class="a19 c45" cx="643.7" cy="327" r="3.1"/><circle class="a19 c48" cx="718.7" cy="330.9" r="3.1"/><circle class="a19 c50" cx="525.3" cy="333.5" r="3.1"/><circle class="a19 c47" cx="715.9" cy="329.3" r="3.1"/><circle class="a19 c46" cx="633.9" cy="327.5" r="3.1"/><circle class="a19 c45" cx="648.3" cy="327.1" r="3.1"/><circle class="a19 c46" cx="641.4" cy="327.7" r="3.1"/><circle class="a19 c46" cx="631.7" cy="327.7" r="3.1"/><circle class="a19 c45" cx="667.6" cy="327.4" r="3.1"/><circle class="a19 c48" cx="465.6" cy="331.2" r="3.1"/><circle class="a19 c21" cx="608.2" cy="291.7" r="3.1"/><circle class="a19 c46" cx="538.5" cy="329.1" r="3.1"/><circle class="a19 c45" cx="621.8" cy="327.7" r="3.1"/><circle class="a19 c51" cx="578.1" cy="336.3" r="3.1"/><circle class="a19 c50" cx="553.3" cy="334.6" r="3.1"/><circle class="a19 c45" cx="625.8" cy="327.1" r="3.1"/><circle class="a19 c45" cx="661.4" cy="326.9" r="3.1"/><circle class="a19 c45" cx="673.4" cy="326.8" r="3.1"/><circle class="a19 c45" cx="613.4" cy="327.4" r="3.1"/><circle class="a19 c47" cx="530.4" cy="329.6" r="3.1"/><circle class="a19 c45" cx="681" cy="327.2" r="3.1"/><circle class="a19 c46" cx="647.4" cy="328.1" r="3.1"/><circle class="a19 c48" cx="500.9" cy="330.4" r="3.1"/><circle class="a19 c42" cx="767.1" cy="322.3" r="3.1"/><circle class="a19 c45" cx="678.4" cy="327.4" r="3.1"/><circle class="a19 c51" cx="571.5" cy="336" r="3.1"/><circle class="a19 c45" cx="651.1" cy="327.8" r="3.1"/><circle class="a19 c48" cx="519.1" cy="331.2" r="3.1"/><circle class="a19 c48" cx="757.4" cy="331.8" r="3.1"/><circle class="a19 c46" cx="713.1" cy="328.6" r="3.1"/><circle class="a19 c32" cx="615.2" cy="308" r="3.1"/><circle class="a19 c45" cx="710.1" cy="327.8" r="3.1"/><circle class="a19 c46" cx="604.9" cy="328.3" r="3.1"/><circle class="a19 c48" cx="596.7" cy="332.2" r="3.1"/><circle class="a19 c45" cx="637.8" cy="327.7" r="3.1"/><circle class="a19 c44" cx="685.9" cy="326.2" r="3.1"/><circle class="a19 c48" cx="503.1" cy="331" r="3.1"/><circle class="a19 c45" cx="694.9" cy="326.7" r="3.1"/><circle class="a19 c19" cx="574" cy="288" r="3.1"/><circle class="a19 c45" cx="690.1" cy="326.7" r="3.1"/><circle class="a19 c45" cx="656.2" cy="327.9" r="3.1"/><circle class="a19 c45" cx="696.8" cy="326.8" r="3.1"/><circle class="a19 c46" cx="510.9" cy="329.4" r="3.1"/><circle class="a19 c45" cx="617" cy="327.8" r="3.1"/><circle class="a19 c48" cx="538" cy="332" r="3.1"/><circle class="a19 c44" cx="700.7" cy="326.6" r="3.1"/><circle class="a19 c45" cx="625.6" cy="328.2" r="3.1"/><circle class="a19 c45" cx="659" cy="327.9" r="3.1"/><circle class="a19 c50" cx="549" cy="335.4" r="3.1"/><circle class="a19 c46" cx="602.4" cy="328.9" r="3.1"/><circle class="a19 c46" cx="631.4" cy="328.7" r="3.1"/><circle class="a19 c45" cx="707.5" cy="327.2" r="3.1"/><circle class="a19 c45" cx="613.3" cy="328.5" r="3.1"/><circle class="a19 c45" cx="619.4" cy="328.3" r="3.1"/><circle class="a19 c44" cx="705.1" cy="326.9" r="3.1"/><circle class="a19 c45" cx="663.9" cy="327.6" r="3.1"/><circle class="a19 c44" cx="767.6" cy="326.2" r="3.1"/><circle class="a19 c46" cx="463.4" cy="329.3" r="3.1"/><circle class="a19 c46" cx="518.4" cy="330.5" r="3.1"/><circle class="a19 c45" cx="670.6" cy="328.5" r="3.1"/><circle class="a19 c45" cx="626" cy="328.9" r="3.1"/><circle class="a19 c49" cx="531.5" cy="333.3" r="3.1"/><circle class="a20 c45" cx="617.1" cy="329.1" r="3.1"/><circle class="a20 c45" cx="676.7" cy="328.4" r="3.1"/><circle class="a20 c49" cx="463.2" cy="334.6" r="3.1"/><circle class="a20 c46" cx="599.7" cy="330.5" r="3.1"/><circle class="a20 c48" cx="519.1" cy="332.7" r="3.1"/><circle class="a20 c50" cx="727.5" cy="335.5" r="3.1"/><circle class="a20 c51" cx="563.2" cy="336.9" r="3.1"/><circle class="a20 c47" cx="524.7" cy="331.2" r="3.1"/><circle class="a20 c45" cx="680.7" cy="328.4" r="3.1"/><circle class="a20 c50" cx="736" cy="336.3" r="3.1"/><circle class="a20 c51" cx="565.6" cy="337" r="3.1"/><circle class="a20 c50" cx="733.7" cy="336.7" r="3.1"/><circle class="a20 c47" cx="499.3" cy="331.1" r="3.1"/><circle class="a20 c51" cx="730.1" cy="336.9" r="3.1"/><circle class="a20 c45" cx="639.1" cy="328.5" r="3.1"/><circle class="a20 c51" cx="571.8" cy="337.3" r="3.1"/><circle class="a20 c50" cx="558.4" cy="336.7" r="3.1"/><circle class="a20 c44" cx="514.3" cy="327.4" r="3.1"/><circle class="a20 c45" cx="635.5" cy="328.8" r="3.1"/><circle class="a20 c48" cx="503.7" cy="332.1" r="3.1"/><circle class="a20 c42" cx="768.1" cy="323.6" r="3.1"/><circle class="a20 c45" cx="609.1" cy="328.5" r="3.1"/><circle class="a20 c46" cx="495.4" cy="330.8" r="3.1"/><circle class="a20 c45" cx="628.8" cy="329.4" r="3.1"/><circle class="a20 c49" cx="724.3" cy="334.5" r="3.1"/><circle class="a20 c45" cx="656" cy="328.6" r="3.1"/><circle class="a20 c48" cx="502" cy="332.4" r="3.1"/><circle class="a20 c49" cx="721.8" cy="334.4" r="3.1"/><circle class="a20 c49" cx="593.5" cy="335" r="3.1"/><circle class="a20 c45" cx="657.8" cy="328.6" r="3.1"/><circle class="a20 c47" cx="508.3" cy="331.9" r="3.1"/><circle class="a20 c50" cx="743.4" cy="336.7" r="3.1"/><circle class="a20 c44" cx="685.2" cy="328.1" r="3.1"/><circle class="a20 c51" cx="569.2" cy="337.4" r="3.1"/><circle class="a20 c45" cx="686.7" cy="328.5" r="3.1"/><circle class="a20 c43" cx="465.6" cy="325.8" r="3.1"/><circle class="a20 c48" cx="717.4" cy="332.9" r="3.1"/><circle class="a20 c45" cx="688.9" cy="328.4" r="3.1"/><circle class="a20 c45" cx="621.9" cy="329.2" r="3.1"/><circle class="a20 c50" cx="740.5" cy="335.7" r="3.1"/><circle class="a20 c45" cx="605.1" cy="329.4" r="3.1"/><circle class="a20 c45" cx="642.6" cy="328.7" r="3.1"/><circle class="a20 c44" cx="691.4" cy="327.9" r="3.1"/><circle class="a20 c44" cx="694.1" cy="328.2" r="3.1"/><circle class="a20 c50" cx="551.2" cy="336.1" r="3.1"/><circle class="a20 c46" cx="715.3" cy="330.8" r="3.1"/><circle class="a20 c45" cx="610.7" cy="329" r="3.1"/><circle class="a20 c45" cx="623.7" cy="329.5" r="3.1"/><circle class="a20 c51" cx="563" cy="337.8" r="3.1"/><circle class="a20 c45" cx="768.1" cy="330.2" r="3.1"/><circle class="a20 c45" cx="645.2" cy="329.5" r="3.1"/><circle class="a20 c45" cx="634.8" cy="329.7" r="3.1"/><circle class="a20 c44" cx="698.7" cy="327.9" r="3.1"/><circle class="a20 c45" cx="711.3" cy="329.4" r="3.1"/><circle class="a20 c45" cx="630.9" cy="329.8" r="3.1"/><circle class="a20 c49" cx="749.9" cy="335" r="3.1"/><circle class="a20 c45" cx="713.9" cy="330.3" r="3.1"/><circle class="a20 c45" cx="638.7" cy="329.8" r="3.1"/><circle class="a20 c44" cx="708.6" cy="328.3" r="3.1"/><circle class="a20 c45" cx="606.5" cy="330.1" r="3.1"/><circle class="a20 c46" cx="489.7" cy="331" r="3.1"/><circle class="a20 c45" cx="616.4" cy="329.8" r="3.1"/><circle class="a20 c45" cx="660.3" cy="330" r="3.1"/><circle class="a20 c45" cx="642.2" cy="329.8" r="3.1"/><circle class="a20 c49" cx="548.5" cy="336.3" r="3.1"/><circle class="a20 c45" cx="650.5" cy="329.3" r="3.1"/><circle class="a20 c45" cx="621.9" cy="330.4" r="3.1"/><circle class="a20 c44" cx="669.5" cy="329.1" r="3.1"/><circle class="a20 c45" cx="648.4" cy="329.7" r="3.1"/><circle class="a20 c44" cx="704.9" cy="328" r="3.1"/><circle class="a20 c43" cx="702.2" cy="327.2" r="3.1"/><circle class="a20 c45" cx="628.7" cy="330.2" r="3.1"/><circle class="a20 c44" cx="674" cy="329.1" r="3.1"/><circle class="a20 c48" cx="754.1" cy="334.2" r="3.1"/><circle class="a20 c46" cx="495.3" cy="332.2" r="3.1"/><circle class="a20 c44" cx="664.2" cy="329.4" r="3.1"/><circle class="a20 c31" cx="610.5" cy="309.7" r="3.1"/><circle class="a20 c45" cx="602.7" cy="331.1" r="3.1"/><circle class="a20 c45" cx="654.9" cy="330" r="3.1"/><circle class="a20 c45" cx="619.1" cy="330.3" r="3.1"/><circle class="a20 c45" cx="652.4" cy="330.5" r="3.1"/><circle class="a20 c45" cx="607.3" cy="330.8" r="3.1"/><circle class="a20 c44" cx="677.7" cy="329.4" r="3.1"/><circle class="a20 c45" cx="638.8" cy="330.6" r="3.1"/><circle class="a20 c45" cx="605" cy="331.1" r="3.1"/><circle class="a20 c45" cx="625.4" cy="330.7" r="3.1"/><circle class="a20 c45" cx="635.4" cy="330.9" r="3.1"/><circle class="a20 c44" cx="667.3" cy="329.8" r="3.1"/><circle class="a20 c48" cx="543.2" cy="334.7" r="3.1"/><circle class="a20 c45" cx="632.9" cy="330.8" r="3.1"/><circle class="a20 c46" cx="483.8" cy="332.5" r="3.1"/><circle class="a20 c45" cx="611" cy="330.9" r="3.1"/><circle class="a20 c50" cx="568.8" cy="338.9" r="3.1"/><circle class="a20 c44" cx="682.2" cy="329.3" r="3.1"/><circle class="a20 c45" cx="686.4" cy="330.3" r="3.1"/><circle class="a20 c45" cx="673.7" cy="330.6" r="3.1"/><circle class="a20 c48" cx="533.7" cy="335.1" r="3.1"/><circle class="a20 c45" cx="657.6" cy="331.2" r="3.1"/><circle class="a20 c22" cx="608.3" cy="297.4" r="3.1"/><circle class="a20 c48" cx="454.5" cy="335.7" r="3.1"/><circle class="a20 c48" cx="544" cy="335.2" r="3.1"/><circle class="a20 c49" cx="550.4" cy="337.6" r="3.1"/><circle class="a20 c44" cx="614.5" cy="330.5" r="3.1"/><circle class="a20 c45" cx="626.6" cy="331.5" r="3.1"/><circle class="a20 c13" cx="585" cy="283" r="3.1"/><circle class="a20 c44" cx="676.8" cy="330.5" r="3.1"/><circle class="a20 c50" cx="579.2" cy="339.4" r="3.1"/><circle class="a20 c50" cx="588.7" cy="339.1" r="3.1"/><circle class="a20 c45" cx="647.4" cy="330.9" r="3.1"/><circle class="a20 c19" cx="605.1" cy="293.2" r="3.1"/><circle class="a20 c50" cx="570.7" cy="339.5" r="3.1"/><circle class="a20 c48" cx="503.6" cy="335.5" r="3.1"/><circle class="a20 c45" cx="614.7" cy="331.2" r="3.1"/><circle class="a20 c45" cx="447.9" cy="331.9" r="3.1"/><circle class="a20 c50" cx="561.1" cy="338.9" r="3.1"/><circle class="a20 c44" cx="766.1" cy="330.7" r="3.1"/><circle class="a20 c45" cx="651.7" cy="331.1" r="3.1"/><circle class="a20 c44" cx="679.1" cy="330.9" r="3.1"/><circle class="a20 c44" cx="642.3" cy="330.9" r="3.1"/><circle class="a20 c49" cx="541.1" cy="336.8" r="3.1"/><circle class="a20 c45" cx="631.5" cy="331.4" r="3.1"/><circle class="a20 c43" cx="447.8" cy="328.2" r="3.1"/><circle class="a20 c44" cx="696.2" cy="330.2" r="3.1"/><circle class="a20 c44" cx="660.3" cy="331" r="3.1"/><circle class="a20 c44" cx="664.9" cy="330.7" r="3.1"/><circle class="a20 c46" cx="601.5" cy="332.9" r="3.1"/><circle class="a20 c50" cx="724.9" cy="338.6" r="3.1"/><circle class="a20 c46" cx="453" cy="333.7" r="3.1"/><circle class="a20 c50" cx="732.9" cy="339.5" r="3.1"/><circle class="a20 c45" cx="627" cy="332.1" r="3.1"/><circle class="a20 c49" cx="721.5" cy="337.5" r="3.1"/><circle class="a20 c50" cx="729.8" cy="339.8" r="3.1"/><circle class="a20 c45" cx="621.7" cy="331.9" r="3.1"/><circle class="a20 c43" cx="765.5" cy="329.2" r="3.1"/><circle class="a20 c45" cx="612" cy="331.8" r="3.1"/><circle class="a20 c50" cx="560.2" cy="339.7" r="3.1"/><circle class="a20 c50" cx="554" cy="338.9" r="3.1"/><circle class="a20 c44" cx="700.2" cy="330.3" r="3.1"/><circle class="a20 c50" cx="568.9" cy="339.9" r="3.1"/><circle class="a20 c44" cx="663.6" cy="331.4" r="3.1"/><circle class="a20 c45" cx="607.2" cy="332.1" r="3.1"/><circle class="a20 c45" cx="633.8" cy="331.9" r="3.1"/><circle class="a20 c45" cx="666.6" cy="331.9" r="3.1"/><circle class="a20 c45" cx="629" cy="332.8" r="3.1"/><circle class="a20 c44" cx="684.2" cy="330.7" r="3.1"/><circle class="a20 c44" cx="640.6" cy="331.8" r="3.1"/><circle class="a20 c44" cx="617.6" cy="331.8" r="3.1"/><circle class="a20 c49" cx="739.7" cy="338.9" r="3.1"/><circle class="a20 c44" cx="643.8" cy="331.8" r="3.1"/><circle class="a20 c45" cx="604.4" cy="332.6" r="3.1"/><circle class="a20 c46" cx="509" cy="334.7" r="3.1"/><circle class="a20 c45" cx="714.3" cy="332.4" r="3.1"/><circle class="a20 c48" cx="496.1" cy="336.4" r="3.1"/><circle class="a20 c44" cx="647.2" cy="331.8" r="3.1"/><circle class="a20 c47" cx="526.6" cy="335.7" r="3.1"/><circle class="a20 c44" cx="675.9" cy="331.7" r="3.1"/><circle class="a20 c46" cx="533.5" cy="334.7" r="3.1"/><circle class="a20 c4" cx="605.2" cy="272.7" r="3.1"/><circle class="a20 c48" cx="525.2" cy="338.1" r="3.1"/><circle class="a20 c50" cx="587" cy="341.2" r="3.1"/><circle class="a20 c43" cx="690.2" cy="330.9" r="3.1"/><circle class="a20 c44" cx="692.4" cy="331.2" r="3.1"/><circle class="a20 c45" cx="615.3" cy="332.9" r="3.1"/><circle class="a20 c45" cx="612.2" cy="333" r="3.1"/><circle class="a20 c44" cx="654.3" cy="331.3" r="3.1"/><circle class="a20 c50" cx="572.8" cy="340.4" r="3.1"/><circle class="a20 c50" cx="582.2" cy="341.4" r="3.1"/><circle class="a20 c45" cx="643.1" cy="332.8" r="3.1"/><circle class="a20 c45" cx="603" cy="333.5" r="3.1"/><circle class="a20 c44" cx="670.9" cy="332" r="3.1"/><circle class="a20 c44" cx="621.7" cy="332.8" r="3.1"/><circle class="a20 c44" cx="632.9" cy="332.7" r="3.1"/><circle class="a20 c49" cx="552.2" cy="339.8" r="3.1"/><circle class="a21 c50" cx="557.6" cy="340.5" r="3.1"/><circle class="a21 c44" cx="662.7" cy="332.3" r="3.1"/><circle class="a21 c43" cx="694.3" cy="330.9" r="3.1"/><circle class="a21 c46" cx="510.6" cy="336.1" r="3.1"/><circle class="a21 c44" cx="680.2" cy="331.9" r="3.1"/><circle class="a21 c50" cx="560.5" cy="340.7" r="3.1"/><circle class="a21 c44" cx="647" cy="332.6" r="3.1"/><circle class="a21 c50" cx="750.7" cy="340.5" r="3.1"/><circle class="a21 c50" cx="553.8" cy="340.9" r="3.1"/><circle class="a21 c45" cx="624.9" cy="333.2" r="3.1"/><circle class="a21 c46" cx="516.6" cy="335.1" r="3.1"/><circle class="a21 c44" cx="652.1" cy="332.7" r="3.1"/><circle class="a21 c44" cx="665" cy="333.1" r="3.1"/><circle class="a21 c43" cx="696.3" cy="331.5" r="3.1"/><circle class="a21 c50" cx="572.2" cy="341.4" r="3.1"/><circle class="a21 c49" cx="746.2" cy="339" r="3.1"/><circle class="a21 c48" cx="545.2" cy="338.2" r="3.1"/><circle class="a21 c46" cx="499.6" cy="335.1" r="3.1"/><circle class="a21 c44" cx="606.9" cy="333.3" r="3.1"/><circle class="a21 c44" cx="675" cy="332.8" r="3.1"/><circle class="a21 c44" cx="636.5" cy="332.4" r="3.1"/><circle class="a21 c45" cx="618.5" cy="333.5" r="3.1"/><circle class="a21 c45" cx="640.4" cy="333.5" r="3.1"/><circle class="a21 c45" cx="615.4" cy="333.9" r="3.1"/><circle class="a21 c49" cx="725.6" cy="340.3" r="3.1"/><circle class="a21 c49" cx="727.3" cy="340.8" r="3.1"/><circle class="a21 c50" cx="578.3" cy="341.7" r="3.1"/><circle class="a21 c48" cx="721.1" cy="338.8" r="3.1"/><circle class="a21 c49" cx="547.5" cy="339.9" r="3.1"/><circle class="a21 c44" cx="682.4" cy="332.1" r="3.1"/><circle class="a21 c44" cx="678.8" cy="333.5" r="3.1"/><circle class="a21 c50" cx="584.9" cy="342.4" r="3.1"/><circle class="a21 c47" cx="495.9" cy="337.4" r="3.1"/><circle class="a21 c45" cx="623.4" cy="333.8" r="3.1"/><circle class="a21 c43" cx="702.6" cy="331.1" r="3.1"/><circle class="a21 c43" cx="701.6" cy="331.5" r="3.1"/><circle class="a21 c50" cx="730.7" cy="341.7" r="3.1"/><circle class="a21 c47" cx="719.1" cy="337.2" r="3.1"/><circle class="a21 c45" cx="630.2" cy="333.9" r="3.1"/><circle class="a21 c44" cx="681.1" cy="333.6" r="3.1"/><circle class="a21 c50" cx="590.7" cy="341.9" r="3.1"/><circle class="a21 c44" cx="686.6" cy="332.5" r="3.1"/><circle class="a21 c44" cx="646.5" cy="333.7" r="3.1"/><circle class="a21 c45" cx="614.9" cy="334.7" r="3.1"/><circle class="a21 c48" cx="541.5" cy="338.8" r="3.1"/><circle class="a21 c46" cx="512.3" cy="336.9" r="3.1"/><circle class="a21 c44" cx="653.4" cy="333.4" r="3.1"/><circle class="a21 c45" cx="602.8" cy="335.1" r="3.1"/><circle class="a21 c44" cx="605.9" cy="333.9" r="3.1"/><circle class="a21 c44" cx="668" cy="333.3" r="3.1"/><circle class="a21 c44" cx="662.6" cy="333.5" r="3.1"/><circle class="a21 c44" cx="610.2" cy="334" r="3.1"/><circle class="a21 c47" cx="521.9" cy="338" r="3.1"/><circle class="a21 c50" cx="570.3" cy="342.2" r="3.1"/><circle class="a21 c44" cx="670.1" cy="333.2" r="3.1"/><circle class="a21 c45" cx="716.4" cy="335.1" r="3.1"/><circle class="a21 c43" cx="710.8" cy="332.8" r="3.1"/><circle class="a21 c44" cx="712.4" cy="333.9" r="3.1"/><circle class="a21 c44" cx="651.5" cy="333.8" r="3.1"/><circle class="a21 c43" cx="708.1" cy="331.6" r="3.1"/><circle class="a21 c48" cx="531.6" cy="338.7" r="3.1"/><circle class="a21 c50" cx="568.5" cy="342.7" r="3.1"/><circle class="a21 c44" cx="637" cy="333.9" r="3.1"/><circle class="a21 c48" cx="541.1" cy="338.8" r="3.1"/><circle class="a21 c49" cx="736.3" cy="341.8" r="3.1"/><circle class="a21 c44" cx="683.9" cy="333.2" r="3.1"/><circle class="a21 c44" cx="643" cy="334.2" r="3.1"/><circle class="a21 c50" cx="588.1" cy="342.8" r="3.1"/><circle class="a21 c44" cx="620.7" cy="334.4" r="3.1"/><circle class="a21 c44" cx="685.7" cy="333.7" r="3.1"/><circle class="a21 c42" cx="706.7" cy="330.7" r="3.1"/><circle class="a21 c48" cx="462.2" cy="339.7" r="3.1"/><circle class="a21 c49" cx="561.1" cy="341.9" r="3.1"/><circle class="a21 c44" cx="627.5" cy="334.3" r="3.1"/><circle class="a21 c44" cx="648.9" cy="334.5" r="3.1"/><circle class="a21 c31" cx="529" cy="314" r="3.1"/><circle class="a21 c45" cx="763.7" cy="335.3" r="3.1"/><circle class="a21 c43" cx="658.4" cy="333" r="3.1"/><circle class="a21 c50" cx="564.1" cy="343.1" r="3.1"/><circle class="a21 c44" cx="631.1" cy="334.7" r="3.1"/><circle class="a21 c44" cx="639.7" cy="334.2" r="3.1"/><circle class="a21 c48" cx="495.1" cy="339.4" r="3.1"/><circle class="a21 c46" cx="500.3" cy="337.2" r="3.1"/><circle class="a21 c44" cx="688" cy="333.8" r="3.1"/><circle class="a21 c44" cx="623.6" cy="334.8" r="3.1"/><circle class="a21 c40" cx="764.8" cy="328.7" r="3.1"/><circle class="a21 c44" cx="605.4" cy="335" r="3.1"/><circle class="a21 c43" cx="672.9" cy="333.3" r="3.1"/><circle class="a21 c50" cx="580" cy="343" r="3.1"/><circle class="a21 c48" cx="501.9" cy="339.6" r="3.1"/><circle class="a21 c48" cx="546.5" cy="340.7" r="3.1"/><circle class="a21 c43" cx="696" cy="333.1" r="3.1"/><circle class="a21 c49" cx="553.6" cy="341.6" r="3.1"/><circle class="a21 c46" cx="535.7" cy="338.7" r="3.1"/><circle class="a21 c49" cx="556.5" cy="341.9" r="3.1"/><circle class="a21 c44" cx="674.8" cy="334" r="3.1"/><circle class="a21 c44" cx="611.2" cy="335.1" r="3.1"/><circle class="a21 c44" cx="668.7" cy="334.5" r="3.1"/><circle class="a21 c44" cx="645" cy="334.9" r="3.1"/><circle class="a21 c50" cx="572" cy="343.5" r="3.1"/><circle class="a21 c50" cx="589.4" cy="343.7" r="3.1"/><circle class="a21 c49" cx="538.4" cy="341.8" r="3.1"/><circle class="a21 c44" cx="655.5" cy="334.7" r="3.1"/><circle class="a21 c49" cx="557.5" cy="342.8" r="3.1"/><circle class="a21 c50" cx="584.9" cy="343.7" r="3.1"/><circle class="a21 c43" cx="690.3" cy="333.7" r="3.1"/><circle class="a21 c44" cx="648.4" cy="335.2" r="3.1"/><circle class="a21 c43" cx="698.7" cy="333" r="3.1"/><circle class="a21 c44" cx="619.4" cy="335.1" r="3.1"/><circle class="a21 c44" cx="614.7" cy="335.6" r="3.1"/><circle class="a21 c44" cx="633.2" cy="335.3" r="3.1"/><circle class="a21 c48" cx="747.5" cy="341.1" r="3.1"/><circle class="a21 c43" cx="693.3" cy="334.4" r="3.1"/><circle class="a21 c46" cx="535.1" cy="338.7" r="3.1"/><circle class="a21 c48" cx="744.1" cy="340.6" r="3.1"/><circle class="a21 c44" cx="625" cy="335.5" r="3.1"/><circle class="a21 c44" cx="604.7" cy="335.9" r="3.1"/><circle class="a21 c43" cx="762.9" cy="334.3" r="3.1"/><circle class="a21 c47" cx="531" cy="340.3" r="3.1"/><circle class="a21 c44" cx="609" cy="335.4" r="3.1"/><circle class="a21 c44" cx="489" cy="336.3" r="3.1"/><circle class="a21 c49" cx="579.3" cy="343.7" r="3.1"/><circle class="a21 c44" cx="629.8" cy="335.7" r="3.1"/><circle class="a21 c43" cx="696.4" cy="334.6" r="3.1"/><circle class="a21 c43" cx="697.9" cy="334.7" r="3.1"/><circle class="a21 c49" cx="556.8" cy="343.1" r="3.1"/><circle class="a21 c44" cx="619.2" cy="336" r="3.1"/><circle class="a21 c47" cx="527.5" cy="340.4" r="3.1"/><circle class="a21 c44" cx="638" cy="335.1" r="3.1"/><circle class="a21 c43" cx="661.7" cy="334.6" r="3.1"/><circle class="a21 c48" cx="718.5" cy="341.1" r="3.1"/><circle class="a21 c42" cx="703.2" cy="333.2" r="3.1"/><circle class="a21 c45" cx="490" cy="337.1" r="3.1"/><circle class="a21 c43" cx="652.8" cy="334.7" r="3.1"/><circle class="a21 c43" cx="681" cy="334.5" r="3.1"/><circle class="a21 c44" cx="640.6" cy="335.7" r="3.1"/><circle class="a21 c44" cx="449.6" cy="335.3" r="3.1"/><circle class="a21 c49" cx="724.4" cy="343" r="3.1"/><circle class="a21 c49" cx="533" cy="343" r="3.1"/><circle class="a21 c43" cx="705.6" cy="334.5" r="3.1"/><circle class="a21 c44" cx="606.4" cy="336.4" r="3.1"/><circle class="a21 c44" cx="700.3" cy="335.2" r="3.1"/><circle class="a21 c48" cx="721.8" cy="342.4" r="3.1"/><circle class="a21 c50" cx="587.5" cy="344.4" r="3.1"/><circle class="a21 c33" cx="522" cy="319" r="3.1"/><circle class="a21 c44" cx="615.6" cy="336.3" r="3.1"/><circle class="a21 c45" cx="715.4" cy="338.5" r="3.1"/><circle class="a21 c47" cx="549.3" cy="340.5" r="3.1"/><circle class="a21 c44" cx="710.6" cy="335.7" r="3.1"/><circle class="a21 c49" cx="727.6" cy="344.2" r="3.1"/><circle class="a21 c43" cx="708.3" cy="334.7" r="3.1"/><circle class="a21 c44" cx="626.3" cy="336.4" r="3.1"/><circle class="a21 c44" cx="631.6" cy="336.2" r="3.1"/><circle class="a21 c50" cx="572.2" cy="344.4" r="3.1"/><circle class="a21 c50" cx="589.9" cy="345.1" r="3.1"/><circle class="a21 c44" cx="676.3" cy="335.6" r="3.1"/><circle class="a21 c44" cx="634.4" cy="336.6" r="3.1"/><circle class="a21 c43" cx="664.9" cy="335.6" r="3.1"/><circle class="a21 c43" cx="683.7" cy="334.8" r="3.1"/><circle class="a21 c44" cx="610.9" cy="337" r="3.1"/><circle class="a21 c45" cx="603.9" cy="337.4" r="3.1"/><circle class="a21 c41" cx="764.2" cy="332.2" r="3.1"/><circle class="a21 c43" cx="660.1" cy="335.4" r="3.1"/><circle class="a21 c50" cx="580.2" cy="344.8" r="3.1"/><circle class="a21 c50" cx="722.6" cy="345.8" r="3.1"/><circle class="a21 c20" cx="549" cy="300" r="3.1"/><circle class="a21 c43" cx="685.3" cy="335.6" r="3.1"/><circle class="a21 c49" cx="731.6" cy="344.6" r="3.1"/><circle class="a21 c44" cx="669.1" cy="335.9" r="3.1"/><circle class="a21 c46" cx="517.9" cy="339.8" r="3.1"/><circle class="a21 c44" cx="649.5" cy="336.3" r="3.1"/><circle class="a21 c39" cx="583.7" cy="329.7" r="3.1"/><circle class="a21 c44" cx="677.6" cy="336.3" r="3.1"/><circle class="a21 c1" cx="604" cy="274" r="3.1"/><circle class="a21 c44" cx="646.7" cy="336.2" r="3.1"/><circle class="a21 c44" cx="662.2" cy="336.3" r="3.1"/><circle class="a21 c44" cx="644.6" cy="336.4" r="3.1"/><circle class="a21 c43" cx="687.4" cy="335.4" r="3.1"/><circle class="a21 c49" cx="555.4" cy="343.5" r="3.1"/><circle class="a21 c48" cx="717.6" cy="342.6" r="3.1"/><circle class="a21 c43" cx="703.2" cy="335.3" r="3.1"/><circle class="a21 c44" cx="627.9" cy="336.9" r="3.1"/><circle class="a21 c46" cx="757.6" cy="340.3" r="3.1"/><circle class="a21 c3" cx="602.5" cy="276.5" r="3.1"/><circle class="a21 c50" cx="720.9" cy="345.2" r="3.1"/><circle class="a21 c44" cx="708.4" cy="336.8" r="3.1"/><circle class="a21 c44" cx="605" cy="337.6" r="3.1"/><circle class="a21 c49" cx="595.5" cy="344.1" r="3.1"/><circle class="a21 c46" cx="601.1" cy="339.9" r="3.1"/><circle class="a21 c44" cx="679.2" cy="337" r="3.1"/><circle class="a21 c44" cx="653.3" cy="336.9" r="3.1"/><circle class="a21 c49" cx="567.7" cy="345" r="3.1"/><circle class="a21 c46" cx="521.2" cy="340.7" r="3.1"/><circle class="a21 c2" cx="600.2" cy="274.7" r="3.1"/><circle class="a21 c22" cx="540" cy="305" r="3.1"/><circle class="a21 c46" cx="458.2" cy="340.7" r="3.1"/><circle class="a21 c46" cx="715.1" cy="340.4" r="3.1"/><circle class="a21 c48" cx="452.6" cy="342.2" r="3.1"/><circle class="a21 c44" cx="657.6" cy="336.6" r="3.1"/><circle class="a21 c46" cx="526" cy="340.9" r="3.1"/><circle class="a21 c44" cx="710" cy="337.3" r="3.1"/><circle class="a21 c46" cx="601.2" cy="340.9" r="3.1"/><circle class="a21 c48" cx="550.9" cy="343.7" r="3.1"/><circle class="a21 c14" cx="595.1" cy="292" r="3.1"/><circle class="a21 c17" cx="603.2" cy="296.8" r="3.1"/><circle class="a21 c50" cx="562.2" cy="345.7" r="3.1"/><circle class="a21 c50" cx="572.1" cy="345.9" r="3.1"/><circle class="a21 c45" cx="713" cy="339.6" r="3.1"/><circle class="a21 c43" cx="639" cy="336.4" r="3.1"/><circle class="a21 c50" cx="727.8" cy="346.7" r="3.1"/><circle class="a21 c49" cx="549.9" cy="344.2" r="3.1"/><circle class="a21 c44" cx="614.9" cy="337.1" r="3.1"/><circle class="a22 c49" cx="589" cy="345.6" r="3.1"/><circle class="a22 c48" cx="540.6" cy="343" r="3.1"/><circle class="a22 c44" cx="634.1" cy="337.5" r="3.1"/><circle class="a22 c43" cx="671.6" cy="335.6" r="3.1"/><circle class="a22 c49" cx="583.5" cy="345.3" r="3.1"/><circle class="a22 c44" cx="646.2" cy="337.1" r="3.1"/><circle class="a22 c44" cx="614.6" cy="337.6" r="3.1"/><circle class="a22 c46" cx="761.7" cy="340.2" r="3.1"/><circle class="a22 c43" cx="689.3" cy="335.6" r="3.1"/><circle class="a22 c44" cx="649" cy="337.7" r="3.1"/><circle class="a22 c45" cx="452.3" cy="338.9" r="3.1"/><circle class="a22 c44" cx="611.1" cy="338.2" r="3.1"/><circle class="a22 c49" cx="576.5" cy="344.9" r="3.1"/><circle class="a22 c43" cx="665.1" cy="336.6" r="3.1"/><circle class="a22 c44" cx="607.7" cy="337.3" r="3.1"/><circle class="a22 c44" cx="510.7" cy="338.5" r="3.1"/><circle class="a22 c44" cx="620.1" cy="337.5" r="3.1"/><circle class="a22 c43" cx="671.2" cy="336.7" r="3.1"/><circle class="a22 c49" cx="559.7" cy="346.2" r="3.1"/><circle class="a22 c49" cx="553.4" cy="345.2" r="3.1"/><circle class="a22 c14" cx="557" cy="294" r="3.1"/><circle class="a22 c44" cx="625.7" cy="337.8" r="3.1"/><circle class="a22 c49" cx="730" cy="346.1" r="3.1"/><circle class="a22 c44" cx="631.7" cy="337.6" r="3.1"/><circle class="a22 c47" cx="740.3" cy="343.1" r="3.1"/><circle class="a22 c42" cx="761.6" cy="335.4" r="3.1"/><circle class="a22 c49" cx="567.1" cy="345.8" r="3.1"/><circle class="a22 c14" cx="593.8" cy="293.1" r="3.1"/><circle class="a22 c43" cx="655.9" cy="337.3" r="3.1"/><circle class="a22 c1" cx="600.1" cy="274.2" r="3.1"/><circle class="a22 c49" cx="579.5" cy="346.4" r="3.1"/><circle class="a22 c43" cx="693.6" cy="336.3" r="3.1"/><circle class="a22 c44" cx="640.5" cy="337.7" r="3.1"/><circle class="a22 c48" cx="742.7" cy="344.6" r="3.1"/><circle class="a22 c44" cx="638.4" cy="337.8" r="3.1"/><circle class="a22 c43" cx="629.8" cy="337.5" r="3.1"/><circle class="a22 c44" cx="628.6" cy="338.6" r="3.1"/><circle class="a22 c43" cx="695.8" cy="336.5" r="3.1"/><circle class="a22 c3" cx="600.1" cy="278" r="3.1"/><circle class="a22 c4" cx="602.8" cy="279.3" r="3.1"/><circle class="a22 c43" cx="686.5" cy="336.9" r="3.1"/><circle class="a22 c43" cx="673" cy="337.4" r="3.1"/><circle class="a22 c15" cx="586.3" cy="296.2" r="3.1"/><circle class="a22 c43" cx="621.1" cy="337.9" r="3.1"/><circle class="a22 c44" cx="645.6" cy="338.4" r="3.1"/><circle class="a22 c46" cx="601.9" cy="341.6" r="3.1"/><circle class="a22 c43" cx="657.3" cy="337.6" r="3.1"/><circle class="a22 c44" cx="688.1" cy="338.2" r="3.1"/><circle class="a22 c44" cx="606.2" cy="339.6" r="3.1"/><circle class="a22 c41" cx="761.7" cy="334.3" r="3.1"/><circle class="a22 c44" cx="622.9" cy="338.5" r="3.1"/><circle class="a22 c43" cx="696.8" cy="336.7" r="3.1"/><circle class="a22 c43" cx="662" cy="337.4" r="3.1"/><circle class="a22 c47" cx="597.5" cy="343.2" r="3.1"/><circle class="a22 c44" cx="610.2" cy="339.5" r="3.1"/><circle class="a22 c44" cx="619.9" cy="338.8" r="3.1"/><circle class="a22 c43" cx="651.5" cy="338.2" r="3.1"/><circle class="a22 c44" cx="649.1" cy="338.8" r="3.1"/><circle class="a22 c49" cx="584.3" cy="346.1" r="3.1"/><circle class="a22 c49" cx="583.6" cy="346.7" r="3.1"/><circle class="a22 c46" cx="513.1" cy="341.9" r="3.1"/><circle class="a22 c18" cx="580.3" cy="300.2" r="3.1"/><circle class="a22 c43" cx="663.2" cy="338.1" r="3.1"/><circle class="a22 c46" cx="543.8" cy="342.6" r="3.1"/><circle class="a22 c45" cx="605.6" cy="340.7" r="3.1"/><circle class="a22 c43" cx="674.4" cy="337.6" r="3.1"/><circle class="a22 c46" cx="544.5" cy="341.9" r="3.1"/><circle class="a22 c13" cx="603.4" cy="293.4" r="3.1"/><circle class="a22 c46" cx="605.1" cy="341.9" r="3.1"/><circle class="a22 c46" cx="600.4" cy="343.2" r="3.1"/><circle class="a22 c49" cx="737.7" cy="346.3" r="3.1"/><circle class="a22 c47" cx="747.2" cy="344" r="3.1"/><circle class="a22 c43" cx="680" cy="337.9" r="3.1"/><circle class="a22 c49" cx="574.1" cy="346.4" r="3.1"/><circle class="a22 c43" cx="636" cy="338.7" r="3.1"/><circle class="a22 c2" cx="595" cy="277" r="3.1"/><circle class="a22 c42" cx="700.1" cy="336.8" r="3.1"/><circle class="a22 c43" cx="701.7" cy="337.7" r="3.1"/><circle class="a22 c44" cx="644.1" cy="339.3" r="3.1"/><circle class="a22 c15" cx="559" cy="297" r="3.1"/><circle class="a22 c44" cx="640" cy="339.3" r="3.1"/><circle class="a22 c16" cx="606.3" cy="298.6" r="3.1"/><circle class="a22 c49" cx="565.6" cy="346.7" r="3.1"/><circle class="a22 c45" cx="518.9" cy="341.2" r="3.1"/><circle class="a22 c47" cx="544.1" cy="343.9" r="3.1"/><circle class="a22 c13" cx="594.8" cy="293.4" r="3.1"/><circle class="a22 c1" cx="621.5" cy="275.5" r="3.1"/><circle class="a22 c45" cx="450.8" cy="341.4" r="3.1"/><circle class="a22 c44" cx="615" cy="339.3" r="3.1"/><circle class="a22 c44" cx="626.1" cy="339.4" r="3.1"/><circle class="a22 c48" cx="739.4" cy="346.5" r="3.1"/><circle class="a22 c45" cx="493.9" cy="341.6" r="3.1"/><circle class="a22 c48" cx="595.2" cy="346.3" r="3.1"/><circle class="a22 c43" cx="677.2" cy="338" r="3.1"/><circle class="a22 c49" cx="588.5" cy="346.7" r="3.1"/><circle class="a22 c35" cx="592.3" cy="326.5" r="3.1"/><circle class="a22 c49" cx="580.2" cy="347.2" r="3.1"/><circle class="a22 c43" cx="657.3" cy="338.8" r="3.1"/><circle class="a22 c43" cx="654.2" cy="339.3" r="3.1"/><circle class="a22 c47" cx="714.5" cy="344.9" r="3.1"/><circle class="a22 c46" cx="601.8" cy="343.8" r="3.1"/><circle class="a22 c45" cx="712.3" cy="342.7" r="3.1"/><circle class="a22 c42" cx="703.9" cy="337.7" r="3.1"/><circle class="a22 c45" cx="709.6" cy="341.3" r="3.1"/><circle class="a22 c46" cx="754.2" cy="344.5" r="3.1"/><circle class="a22 c47" cx="490.8" cy="344.9" r="3.1"/><circle class="a22 c43" cx="661.6" cy="339.4" r="3.1"/><circle class="a22 c48" cx="556.8" cy="346.9" r="3.1"/><circle class="a22 c43" cx="648.4" cy="339.1" r="3.1"/><circle class="a22 c49" cx="569" cy="347.3" r="3.1"/><circle class="a22 c48" cx="551.8" cy="346" r="3.1"/><circle class="a22 c33" cx="587.7" cy="325" r="3.1"/><circle class="a22 c45" cx="532.2" cy="342.5" r="3.1"/><circle class="a22 c1" cx="618" cy="276.5" r="3.1"/><circle class="a22 c44" cx="608.8" cy="340.8" r="3.1"/><circle class="a22 c43" cx="674.7" cy="339.3" r="3.1"/><circle class="a22 c46" cx="603.6" cy="343.6" r="3.1"/><circle class="a22 c43" cx="629.6" cy="339.6" r="3.1"/><circle class="a22 c43" cx="638.7" cy="339.3" r="3.1"/><circle class="a22 c48" cx="719.2" cy="346.7" r="3.1"/><circle class="a22 c44" cx="619.8" cy="340" r="3.1"/><circle class="a22 c15" cx="590.6" cy="298" r="3.1"/><circle class="a22 c47" cx="718.1" cy="345.6" r="3.1"/><circle class="a22 c44" cx="611" cy="340.2" r="3.1"/><circle class="a22 c34" cx="593.3" cy="326.5" r="3.1"/><circle class="a22 c43" cx="667.1" cy="338.7" r="3.1"/><circle class="a22 c43" cx="707.5" cy="338.8" r="3.1"/><circle class="a22 c43" cx="697.6" cy="339.3" r="3.1"/><circle class="a22 c45" cx="606.2" cy="343.1" r="3.1"/><circle class="a22 c44" cx="487.3" cy="341.4" r="3.1"/><circle class="a22 c43" cx="631.3" cy="340.1" r="3.1"/><circle class="a22 c43" cx="622.8" cy="339.7" r="3.1"/><circle class="a22 c48" cx="554.7" cy="346.4" r="3.1"/><circle class="a22 c48" cx="594.8" cy="347" r="3.1"/><circle class="a22 c48" cx="747.5" cy="347.4" r="3.1"/><circle class="a22 c49" cx="722.2" cy="349" r="3.1"/><circle class="a22 c43" cx="659.6" cy="339.9" r="3.1"/><circle class="a22 c48" cx="599.8" cy="346.4" r="3.1"/><circle class="a22 c47" cx="518.3" cy="345.6" r="3.1"/><circle class="a22 c44" cx="630" cy="340.9" r="3.1"/><circle class="a22 c44" cx="506.9" cy="341.2" r="3.1"/><circle class="a22 c46" cx="524.7" cy="344.2" r="3.1"/><circle class="a22 c43" cx="698.6" cy="340.2" r="3.1"/><circle class="a22 c46" cx="526.7" cy="344.6" r="3.1"/><circle class="a22 c43" cx="682" cy="339" r="3.1"/><circle class="a22 c46" cx="531.7" cy="345" r="3.1"/><circle class="a22 c47" cx="537.4" cy="346" r="3.1"/><circle class="a22 c44" cx="700.8" cy="341" r="3.1"/><circle class="a22 c44" cx="610.2" cy="341.7" r="3.1"/><circle class="a22 c48" cx="601.9" cy="347.1" r="3.1"/><circle class="a22 c45" cx="607.9" cy="342.6" r="3.1"/><circle class="a22 c44" cx="614.2" cy="340.8" r="3.1"/><circle class="a22 c3" cx="595.3" cy="281.6" r="3.1"/><circle class="a22 c43" cx="626.3" cy="340.4" r="3.1"/><circle class="a22 c43" cx="646.9" cy="340.3" r="3.1"/><circle class="a22 c48" cx="578.1" cy="347.8" r="3.1"/><circle class="a22 c43" cx="615.9" cy="340.8" r="3.1"/><circle class="a22 c13" cx="556" cy="296" r="3.1"/><circle class="a22 c43" cx="634.2" cy="340.8" r="3.1"/><circle class="a22 c45" cx="502.8" cy="342.8" r="3.1"/><circle class="a22 c44" cx="620.7" cy="341.5" r="3.1"/><circle class="a22 c44" cx="703.6" cy="341.6" r="3.1"/><circle class="a22 c44" cx="650.8" cy="341" r="3.1"/><circle class="a22 c11" cx="610" cy="293.4" r="3.1"/><circle class="a22 c47" cx="751.1" cy="346.7" r="3.1"/><circle class="a22 c42" cx="684.1" cy="339.5" r="3.1"/><circle class="a22 c47" cx="711" cy="346.8" r="3.1"/><circle class="a22 c49" cx="726.8" cy="349.5" r="3.1"/><circle class="a22 c43" cx="678.8" cy="340.3" r="3.1"/><circle class="a22 c48" cx="552.2" cy="347.6" r="3.1"/><circle class="a22 c44" cx="705.2" cy="342.8" r="3.1"/><circle class="a22 c45" cx="607.4" cy="343.2" r="3.1"/><circle class="a22 c47" cx="531.1" cy="346.3" r="3.1"/><circle class="a22 c49" cx="595.8" cy="349.4" r="3.1"/><circle class="a22 c46" cx="545.1" cy="345.5" r="3.1"/><circle class="a22 c46" cx="707.9" cy="344.8" r="3.1"/><circle class="a22 c42" cx="689.3" cy="339.3" r="3.1"/><circle class="a22 c48" cx="755.2" cy="347.7" r="3.1"/><circle class="a22 c42" cx="670.9" cy="339.6" r="3.1"/><circle class="a22 c43" cx="662" cy="340.5" r="3.1"/><circle class="a22 c49" cx="729" cy="349.9" r="3.1"/><circle class="a22 c43" cx="643" cy="340.6" r="3.1"/><circle class="a22 c48" cx="591.6" cy="347.3" r="3.1"/><circle class="a22 c43" cx="686.2" cy="340.3" r="3.1"/><circle class="a22 c43" cx="654.7" cy="340.5" r="3.1"/><circle class="a22 c44" cx="495.8" cy="342.9" r="3.1"/><circle class="a22 c48" cx="572" cy="347.5" r="3.1"/><circle class="a22 c45" cx="516.7" cy="343.8" r="3.1"/><circle class="a22 c48" cx="566.3" cy="348.3" r="3.1"/><circle class="a22 c48" cx="559.2" cy="348.6" r="3.1"/><circle class="a22 c42" cx="666.5" cy="340" r="3.1"/><circle class="a22 c43" cx="500.8" cy="340.9" r="3.1"/><circle class="a22 c49" cx="600.3" cy="349.2" r="3.1"/><circle class="a22 c47" cx="542.8" cy="347.1" r="3.1"/><circle class="a22 c49" cx="715.9" cy="350.3" r="3.1"/><circle class="a22 c3" cx="607.9" cy="281.4" r="3.1"/><circle class="a22 c43" cx="624.8" cy="341.4" r="3.1"/><circle class="a22 c16" cx="587.4" cy="300.8" r="3.1"/><circle class="a22 c44" cx="611.5" cy="342.9" r="3.1"/><circle class="a22 c44" cx="615.1" cy="342.2" r="3.1"/><circle class="a22 c46" cx="524.6" cy="346.1" r="3.1"/><circle class="a22 c42" cx="672.9" cy="340.2" r="3.1"/><circle class="a22 c46" cx="525.1" cy="346.9" r="3.1"/><circle class="a22 c43" cx="655.8" cy="341.4" r="3.1"/><circle class="a22 c49" cx="596.9" cy="350.8" r="3.1"/><circle class="a23 c43" cx="641.5" cy="341.5" r="3.1"/><circle class="a23 c43" cx="637" cy="341.1" r="3.1"/><circle class="a23 c48" cx="759.4" cy="348.4" r="3.1"/><circle class="a23 c45" cx="608.8" cy="344.5" r="3.1"/><circle class="a23 c46" cx="606" cy="346.2" r="3.1"/><circle class="a23 c47" cx="459.4" cy="347.6" r="3.1"/><circle class="a23 c47" cx="603.7" cy="347.5" r="3.1"/><circle class="a23 c43" cx="646.5" cy="341.4" r="3.1"/><circle class="a23 c45" cx="759.1" cy="345.2" r="3.1"/><circle class="a23 c48" cx="591.4" cy="348.8" r="3.1"/><circle class="a23 c42" cx="692.9" cy="339.4" r="3.1"/><circle class="a23 c49" cx="594.2" cy="350.9" r="3.1"/><circle class="a23 c45" cx="611.2" cy="344.2" r="3.1"/><circle class="a23 c38" cx="581.1" cy="333.5" r="3.1"/><circle class="a23 c43" cx="626.8" cy="341.9" r="3.1"/><circle class="a23 c41" cx="759.8" cy="338.5" r="3.1"/><circle class="a23 c33" cx="597.8" cy="326.7" r="3.1"/><circle class="a23 c46" cx="548.8" cy="346.7" r="3.1"/><circle class="a23 c39" cx="595.7" cy="336.7" r="3.1"/><circle class="a23 c2" cx="606" cy="281.2" r="3.1"/><circle class="a23 c15" cx="587.9" cy="300" r="3.1"/><circle class="a23 c43" cx="619.3" cy="342.1" r="3.1"/><circle class="a23 c43" cx="635.3" cy="342" r="3.1"/><circle class="a23 c0" cx="596.5" cy="278.7" r="3.1"/><circle class="a23 c11" cx="597.1" cy="295" r="3.1"/><circle class="a23 c39" cx="576.4" cy="336.7" r="3.1"/><circle class="a23 c32" cx="580.7" cy="325.5" r="3.1"/><circle class="a23 c43" cx="617.2" cy="342.8" r="3.1"/><circle class="a23 c43" cx="637.7" cy="342.3" r="3.1"/><circle class="a23 c48" cx="605.1" cy="348.7" r="3.1"/><circle class="a23 c48" cx="555.8" cy="349.3" r="3.1"/><circle class="a23 c50" cx="725.4" cy="353.4" r="3.1"/><circle class="a23 c48" cx="573.7" cy="349.2" r="3.1"/><circle class="a23 c48" cx="736.1" cy="350" r="3.1"/><circle class="a23 c46" cx="535.1" cy="346.9" r="3.1"/><circle class="a23 c42" cx="691.2" cy="340.1" r="3.1"/><circle class="a23 c42" cx="664.8" cy="340.8" r="3.1"/><circle class="a23 c42" cx="692.2" cy="341" r="3.1"/><circle class="a23 c43" cx="654" cy="341.6" r="3.1"/><circle class="a23 c51" cx="728.3" cy="354.2" r="3.1"/><circle class="a23 c43" cx="670.4" cy="341.7" r="3.1"/><circle class="a23 c48" cx="590.9" cy="349.4" r="3.1"/><circle class="a23 c43" cx="661.1" cy="341.7" r="3.1"/><circle class="a23 c0" cx="599.8" cy="278.6" r="3.1"/><circle class="a23 c45" cx="610.7" cy="345.3" r="3.1"/><circle class="a23 c42" cx="698.2" cy="341.4" r="3.1"/><circle class="a23 c11" cx="598.7" cy="295.3" r="3.1"/><circle class="a23 c46" cx="607.9" cy="346.7" r="3.1"/><circle class="a23 c45" cx="511.4" cy="346.4" r="3.1"/><circle class="a23 c45" cx="563.5" cy="346.8" r="3.1"/><circle class="a23 c42" cx="676.7" cy="340.9" r="3.1"/><circle class="a23 c49" cx="602" cy="351.2" r="3.1"/><circle class="a23 c19" cx="576.2" cy="306.8" r="3.1"/><circle class="a23 c47" cx="464.5" cy="348.8" r="3.1"/><circle class="a23 c49" cx="591.9" cy="352.2" r="3.1"/><circle class="a23 c43" cx="623.1" cy="343" r="3.1"/><circle class="a23 c46" cx="518.4" cy="347.9" r="3.1"/><circle class="a23 c43" cx="648.3" cy="342.4" r="3.1"/><circle class="a23 c44" cx="614.6" cy="343.9" r="3.1"/><circle class="a23 c49" cx="597.9" cy="352.2" r="3.1"/><circle class="a23 c47" cx="552.8" cy="349.2" r="3.1"/><circle class="a23 c41" cx="760.8" cy="340" r="3.1"/><circle class="a23 c47" cx="588.9" cy="349.2" r="3.1"/><circle class="a23 c42" cx="667.3" cy="342.1" r="3.1"/><circle class="a23 c48" cx="604.3" cy="350.6" r="3.1"/><circle class="a23 c1" cx="605.1" cy="280.7" r="3.1"/><circle class="a23 c42" cx="659" cy="342.1" r="3.1"/><circle class="a23 c42" cx="694.9" cy="341.9" r="3.1"/><circle class="a23 c48" cx="531.3" cy="350.4" r="3.1"/><circle class="a23 c43" cx="642.8" cy="342.3" r="3.1"/><circle class="a23 c45" cx="538.5" cy="346.6" r="3.1"/><circle class="a23 c42" cx="687.1" cy="342.1" r="3.1"/><circle class="a23 c43" cx="655.7" cy="343.2" r="3.1"/><circle class="a23 c43" cx="759.7" cy="343.5" r="3.1"/><circle class="a23 c46" cx="737.9" cy="348.3" r="3.1"/><circle class="a23 c0" cx="600.3" cy="279.8" r="3.1"/><circle class="a23 c48" cx="557.5" cy="351.3" r="3.1"/><circle class="a23 c43" cx="702.5" cy="342.6" r="3.1"/><circle class="a23 c45" cx="548.3" cy="346.3" r="3.1"/><circle class="a23 c43" cx="616.8" cy="343.8" r="3.1"/><circle class="a23 c42" cx="672.4" cy="342.6" r="3.1"/><circle class="a23 c43" cx="629.3" cy="342.7" r="3.1"/><circle class="a23 c45" cx="506.8" cy="346.7" r="3.1"/><circle class="a23 c43" cx="623.1" cy="343.6" r="3.1"/><circle class="a23 c45" cx="610.1" cy="346.8" r="3.1"/><circle class="a23 c43" cx="649.9" cy="343.5" r="3.1"/><circle class="a23 c45" cx="707" cy="347" r="3.1"/><circle class="a23 c49" cx="596.8" cy="353.5" r="3.1"/><circle class="a23 c42" cx="680" cy="342" r="3.1"/><circle class="a23 c43" cx="641.5" cy="343.5" r="3.1"/><circle class="a23 c46" cx="709.5" cy="348.7" r="3.1"/><circle class="a23 c42" cx="663.6" cy="342.5" r="3.1"/><circle class="a23 c43" cx="636.6" cy="343" r="3.1"/><circle class="a23 c42" cx="697.3" cy="342.2" r="3.1"/><circle class="a23 c47" cx="711.6" cy="350" r="3.1"/><circle class="a23 c3" cx="595.1" cy="284.2" r="3.1"/><circle class="a23 c42" cx="699.3" cy="342.8" r="3.1"/><circle class="a23 c44" cx="614.2" cy="345.4" r="3.1"/><circle class="a23 c12" cx="595.6" cy="297.8" r="3.1"/><circle class="a23 c46" cx="585.7" cy="348.5" r="3.1"/><circle class="a23 c36" cx="597.3" cy="334" r="3.1"/><circle class="a23 c50" cx="732.9" cy="355" r="3.1"/><circle class="a23 c43" cx="616.5" cy="344.8" r="3.1"/><circle class="a23 c47" cx="588.5" cy="350.3" r="3.1"/><circle class="a23 c48" cx="549.8" cy="351.1" r="3.1"/><circle class="a23 c44" cx="701.4" cy="345.6" r="3.1"/><circle class="a23 c46" cx="583.5" cy="349.7" r="3.1"/><circle class="a23 c43" cx="632.1" cy="343.5" r="3.1"/><circle class="a23 c47" cx="563.7" cy="350.5" r="3.1"/><circle class="a23 c45" cx="514.7" cy="347.1" r="3.1"/><circle class="a23 c47" cx="587.1" cy="350.6" r="3.1"/><circle class="a23 c42" cx="691.2" cy="342.9" r="3.1"/><circle class="a23 c14" cx="593.4" cy="301.2" r="3.1"/><circle class="a23 c44" cx="703.1" cy="346.3" r="3.1"/><circle class="a23 c45" cx="499" cy="347" r="3.1"/><circle class="a23 c43" cx="627.5" cy="343.7" r="3.1"/><circle class="a23 c44" cx="451.8" cy="346.1" r="3.1"/><circle class="a23 c48" cx="605.7" cy="351.2" r="3.1"/><circle class="a23 c49" cx="599.9" cy="354" r="3.1"/><circle class="a23 c42" cx="665.3" cy="342.9" r="3.1"/><circle class="a23 c43" cx="620.5" cy="343.9" r="3.1"/><circle class="a23 c46" cx="539" cy="349.4" r="3.1"/><circle class="a23 c42" cx="670.2" cy="343.1" r="3.1"/><circle class="a23 c48" cx="715.2" cy="352.2" r="3.1"/><circle class="a23 c46" cx="568.3" cy="350.1" r="3.1"/><circle class="a23 c49" cx="592.8" cy="354.4" r="3.1"/><circle class="a23 c42" cx="657.9" cy="343.5" r="3.1"/><circle class="a23 c48" cx="552.7" cy="351.3" r="3.1"/><circle class="a23 c48" cx="605.6" cy="352.2" r="3.1"/><circle class="a23 c45" cx="705.3" cy="348.3" r="3.1"/><circle class="a23 c43" cx="647.5" cy="343.9" r="3.1"/><circle class="a23 c45" cx="513.2" cy="348.2" r="3.1"/><circle class="a23 c43" cx="692.8" cy="344.8" r="3.1"/><circle class="a23 c45" cx="611.8" cy="347.9" r="3.1"/><circle class="a23 c50" cx="735.9" cy="354.8" r="3.1"/><circle class="a23 c43" cx="618.8" cy="345.3" r="3.1"/><circle class="a23 c0" cx="598" cy="281.3" r="3.1"/><circle class="a23 c49" cx="595.4" cy="354.8" r="3.1"/><circle class="a23 c42" cx="654.6" cy="344.1" r="3.1"/><circle class="a23 c44" cx="615.9" cy="346.5" r="3.1"/><circle class="a23 c46" cx="568.7" cy="350.7" r="3.1"/><circle class="a23 c50" cx="738" cy="355.6" r="3.1"/><circle class="a23 c43" cx="632.4" cy="344.9" r="3.1"/><circle class="a23 c46" cx="709.2" cy="350" r="3.1"/><circle class="a23 c49" cx="601.8" cy="354" r="3.1"/><circle class="a23 c43" cx="642.9" cy="344.5" r="3.1"/><circle class="a23 c41" cx="683.6" cy="342.6" r="3.1"/><circle class="a23 c44" cx="620.3" cy="346.4" r="3.1"/><circle class="a23 c49" cx="712.6" cy="353.5" r="3.1"/><circle class="a23 c0" cx="598.7" cy="281.5" r="3.1"/><circle class="a23 c45" cx="613.2" cy="348.9" r="3.1"/><circle class="a23 c43" cx="695.7" cy="345.5" r="3.1"/><circle class="a23 c49" cx="588.9" cy="354.5" r="3.1"/><circle class="a23 c46" cx="611" cy="349.6" r="3.1"/><circle class="a23 c47" cx="710.1" cy="351.6" r="3.1"/><circle class="a23 c43" cx="488.4" cy="345.5" r="3.1"/><circle class="a23 c48" cx="605.2" cy="353.3" r="3.1"/><circle class="a23 c45" cx="464.2" cy="348.4" r="3.1"/><circle class="a23 c2" cx="600.9" cy="284.4" r="3.1"/><circle class="a23 c42" cx="684.6" cy="343.5" r="3.1"/><circle class="a23 c43" cx="630.1" cy="345" r="3.1"/><circle class="a23 c49" cx="719" cy="353.8" r="3.1"/><circle class="a23 c42" cx="637.7" cy="344.3" r="3.1"/><circle class="a23 c46" cx="611.1" cy="350.7" r="3.1"/><circle class="a23 c42" cx="663.5" cy="344.4" r="3.1"/><circle class="a23 c44" cx="696.9" cy="346.6" r="3.1"/><circle class="a23 c44" cx="523.7" cy="348" r="3.1"/><circle class="a23 c48" cx="608.2" cy="352.8" r="3.1"/><circle class="a23 c42" cx="677.7" cy="343.4" r="3.1"/><circle class="a23 c42" cx="648.7" cy="344.5" r="3.1"/><circle class="a23 c49" cx="594.6" cy="355.2" r="3.1"/><circle class="a23 c46" cx="585.4" cy="351" r="3.1"/><circle class="a23 c43" cx="638" cy="345.4" r="3.1"/><circle class="a23 c42" cx="673.1" cy="343.8" r="3.1"/><circle class="a23 c43" cx="627.9" cy="345.2" r="3.1"/><circle class="a23 c49" cx="716.3" cy="355.1" r="3.1"/><circle class="a23 c11" cx="600.2" cy="299.1" r="3.1"/><circle class="a23 c42" cx="668.1" cy="344.2" r="3.1"/><circle class="a23 c1" cx="598.6" cy="284" r="3.1"/><circle class="a23 c49" cx="604.2" cy="355.2" r="3.1"/><circle class="a23 c43" cx="630.3" cy="346.2" r="3.1"/><circle class="a23 c44" cx="699.7" cy="348.4" r="3.1"/><circle class="a23 c42" cx="659.9" cy="345.1" r="3.1"/><circle class="a23 c43" cx="622.8" cy="345.8" r="3.1"/><circle class="a23 c15" cx="582.4" cy="303.6" r="3.1"/><circle class="a23 c2" cx="599.5" cy="285.5" r="3.1"/><circle class="a23 c43" cx="635.3" cy="345.9" r="3.1"/><circle class="a23 c49" cx="601.3" cy="355.8" r="3.1"/><circle class="a23 c42" cx="655.8" cy="344.9" r="3.1"/><circle class="a23 c48" cx="722.7" cy="354.1" r="3.1"/><circle class="a23 c42" cx="641.3" cy="345.2" r="3.1"/><circle class="a23 c42" cx="674.6" cy="344.5" r="3.1"/><circle class="a23 c46" cx="519.7" cy="351.1" r="3.1"/><circle class="a23 c41" cx="450.6" cy="343.6" r="3.1"/><circle class="a23 c2" cx="606.1" cy="286.2" r="3.1"/><circle class="a23 c47" cx="584.2" cy="352.4" r="3.1"/><circle class="a23 c16" cx="597.7" cy="306.3" r="3.1"/><circle class="a23 c40" cx="686.5" cy="343" r="3.1"/><circle class="a23 c42" cx="649.8" cy="344.9" r="3.1"/><circle class="a23 c48" cx="610.4" cy="353.5" r="3.1"/><circle class="a23 c43" cx="625.7" cy="345.9" r="3.1"/><circle class="a23 c42" cx="669.8" cy="345" r="3.1"/><circle class="a23 c44" cx="618.7" cy="348" r="3.1"/><circle class="a23 c49" cx="600.9" cy="356.6" r="3.1"/><circle class="a23 c46" cx="702.4" cy="350.8" r="3.1"/><circle class="a23 c43" cx="505" cy="346.3" r="3.1"/><circle class="a23 c48" cx="707.2" cy="354.1" r="3.1"/><circle class="a24 c42" cx="495.9" cy="345.2" r="3.1"/><circle class="a24 c49" cx="597.5" cy="356.3" r="3.1"/><circle class="a24 c42" cx="666" cy="345.4" r="3.1"/><circle class="a24 c45" cx="506.8" cy="350.7" r="3.1"/><circle class="a24 c46" cx="556" cy="351.7" r="3.1"/><circle class="a24 c46" cx="582.1" cy="351.9" r="3.1"/><circle class="a24 c49" cx="718.9" cy="355.7" r="3.1"/><circle class="a24 c45" cx="615.5" cy="349.9" r="3.1"/><circle class="a24 c46" cx="612.7" cy="352" r="3.1"/><circle class="a24 c44" cx="618.3" cy="349.1" r="3.1"/><circle class="a24 c46" cx="539.6" cy="351.5" r="3.1"/><circle class="a24 c44" cx="579.1" cy="347.9" r="3.1"/><circle class="a24 c48" cx="609.9" cy="355.1" r="3.1"/><circle class="a24 c32" cx="589.4" cy="330.8" r="3.1"/><circle class="a24 c49" cx="593.1" cy="356.8" r="3.1"/><circle class="a24 c49" cx="709.7" cy="355.6" r="3.1"/><circle class="a24 c44" cx="620.1" cy="348.9" r="3.1"/><circle class="a24 c43" cx="456" cy="347.3" r="3.1"/><circle class="a24 c45" cx="541.4" cy="351.1" r="3.1"/><circle class="a24 c44" cx="532.5" cy="348.8" r="3.1"/><circle class="a24 c42" cx="662.5" cy="345.7" r="3.1"/><circle class="a24 c13" cx="583.1" cy="301.8" r="3.1"/><circle class="a24 c50" cx="597" cy="357.8" r="3.1"/><circle class="a24 c46" cx="615.4" cy="352.2" r="3.1"/><circle class="a24 c41" cx="690.1" cy="344.8" r="3.1"/><circle class="a24 c43" cx="757.4" cy="347.9" r="3.1"/><circle class="a24 c45" cx="455.3" cy="350.8" r="3.1"/><circle class="a24 c49" cx="589.3" cy="356.4" r="3.1"/><circle class="a24 c42" cx="651.3" cy="346.2" r="3.1"/><circle class="a24 c42" cx="645.3" cy="346.4" r="3.1"/><circle class="a24 c48" cx="585.3" cy="355.6" r="3.1"/><circle class="a24 c42" cx="655.1" cy="346.4" r="3.1"/><circle class="a24 c50" cx="602.7" cy="357.7" r="3.1"/><circle class="a24 c50" cx="711.2" cy="358" r="3.1"/><circle class="a24 c50" cx="606.5" cy="357.8" r="3.1"/><circle class="a24 c44" cx="574.3" cy="349.6" r="3.1"/><circle class="a24 c45" cx="618.1" cy="351.1" r="3.1"/><circle class="a24 c41" cx="677.4" cy="344.9" r="3.1"/><circle class="a24 c44" cx="494.6" cy="349.4" r="3.1"/><circle class="a24 c45" cx="568" cy="351.6" r="3.1"/><circle class="a24 c42" cx="692.5" cy="346.7" r="3.1"/><circle class="a24 c43" cx="623.3" cy="347.2" r="3.1"/><circle class="a24 c50" cx="592" cy="358.1" r="3.1"/><circle class="a24 c42" cx="658.6" cy="346.6" r="3.1"/><circle class="a24 c42" cx="663.4" cy="346.5" r="3.1"/><circle class="a24 c47" cx="612.3" cy="354.5" r="3.1"/><circle class="a24 c36" cx="595.2" cy="338" r="3.1"/><circle class="a24 c49" cx="588.6" cy="357.9" r="3.1"/><circle class="a24 c48" cx="728.3" cy="355.6" r="3.1"/><circle class="a24 c42" cx="655.8" cy="347.3" r="3.1"/><circle class="a24 c46" cx="552.3" cy="352.8" r="3.1"/><circle class="a24 c49" cx="609.5" cy="356.9" r="3.1"/><circle class="a24 c42" cx="625.9" cy="346.5" r="3.1"/><circle class="a24 c48" cx="723.5" cy="356.4" r="3.1"/><circle class="a24 c44" cx="620" cy="350.3" r="3.1"/><circle class="a24 c41" cx="672.3" cy="345.4" r="3.1"/><circle class="a24 c45" cx="515.3" cy="351.6" r="3.1"/><circle class="a24 c46" cx="558.5" cy="353.3" r="3.1"/><circle class="a24 c42" cx="634" cy="347" r="3.1"/><circle class="a24 c43" cx="695" cy="347.8" r="3.1"/><circle class="a24 c41" cx="669" cy="346" r="3.1"/><circle class="a24 c43" cx="628.5" cy="347.8" r="3.1"/><circle class="a24 c11" cx="592.8" cy="301.5" r="3.1"/><circle class="a24 c46" cx="580.8" cy="353.3" r="3.1"/><circle class="a24 c15" cx="584.5" cy="306.9" r="3.1"/><circle class="a24 c48" cx="584.3" cy="356.7" r="3.1"/><circle class="a24 c16" cx="577.1" cy="309.1" r="3.1"/><circle class="a24 c1" cx="598.8" cy="286.9" r="3.1"/><circle class="a24 c46" cx="533.1" cy="354.2" r="3.1"/><circle class="a24 c43" cx="696.1" cy="349.6" r="3.1"/><circle class="a24 c42" cx="646.2" cy="347.4" r="3.1"/><circle class="a24 c49" cx="587.3" cy="358.4" r="3.1"/><circle class="a24 c43" cx="626" cy="348.8" r="3.1"/><circle class="a24 c46" cx="731.6" cy="354.3" r="3.1"/><circle class="a24 c47" cx="614.8" cy="355.2" r="3.1"/><circle class="a24 c46" cx="579.6" cy="353.4" r="3.1"/><circle class="a24 c46" cx="502.5" cy="353.6" r="3.1"/><circle class="a24 c45" cx="618" cy="352.7" r="3.1"/><circle class="a24 c49" cx="595.2" cy="358.3" r="3.1"/><circle class="a24 c40" cx="685.1" cy="344.9" r="3.1"/><circle class="a24 c19" cx="587.6" cy="313.5" r="3.1"/><circle class="a24 c46" cx="513.9" cy="353.3" r="3.1"/><circle class="a24 c42" cx="634.2" cy="348" r="3.1"/><circle class="a24 c44" cx="523.9" cy="351.1" r="3.1"/><circle class="a24 c11" cx="595.7" cy="302.3" r="3.1"/><circle class="a24 c46" cx="462.8" cy="353.6" r="3.1"/><circle class="a24 c47" cx="530" cy="355.8" r="3.1"/><circle class="a24 c44" cx="623.2" cy="350.2" r="3.1"/><circle class="a24 c41" cx="675" cy="346.3" r="3.1"/><circle class="a24 c44" cx="453.5" cy="351.5" r="3.1"/><circle class="a24 c40" cx="680.1" cy="344.8" r="3.1"/><circle class="a24 c50" cx="605.2" cy="359.4" r="3.1"/><circle class="a24 c46" cx="535.9" cy="353.7" r="3.1"/><circle class="a24 c41" cx="687" cy="346.7" r="3.1"/><circle class="a24 c46" cx="469" cy="354.7" r="3.1"/><circle class="a24 c44" cx="699.3" cy="351.8" r="3.1"/><circle class="a24 c43" cx="626.4" cy="350.2" r="3.1"/><circle class="a24 c46" cx="519.5" cy="355" r="3.1"/><circle class="a24 c41" cx="640.5" cy="346.7" r="3.1"/><circle class="a24 c33" cx="585" cy="334.6" r="3.1"/><circle class="a24 c42" cx="640.7" cy="347.6" r="3.1"/><circle class="a24 c41" cx="492.5" cy="347" r="3.1"/><circle class="a24 c2" cx="599.5" cy="288.7" r="3.1"/><circle class="a24 c49" cx="611.4" cy="358" r="3.1"/><circle class="a24 c44" cx="564" cy="351.5" r="3.1"/><circle class="a24 c42" cx="757.4" cy="348.6" r="3.1"/><circle class="a24 c47" cx="727.9" cy="356.3" r="3.1"/><circle class="a24 c42" cx="688.4" cy="348" r="3.1"/><circle class="a24 c44" cx="549.5" cy="352" r="3.1"/><circle class="a24 c45" cx="620.1" cy="353.1" r="3.1"/><circle class="a24 c42" cx="660.8" cy="347.7" r="3.1"/><circle class="a24 c45" cx="702.3" cy="353.6" r="3.1"/><circle class="a24 c42" cx="653" cy="347.7" r="3.1"/><circle class="a24 c1" cx="602.6" cy="287.9" r="3.1"/><circle class="a24 c50" cx="589.3" cy="359.8" r="3.1"/><circle class="a24 c50" cx="601.7" cy="359.9" r="3.1"/><circle class="a24 c41" cx="649.8" cy="347.3" r="3.1"/><circle class="a24 c41" cx="682.6" cy="347.1" r="3.1"/><circle class="a24 c41" cx="666.5" cy="347.4" r="3.1"/><circle class="a24 c48" cx="614.7" cy="356.7" r="3.1"/><circle class="a24 c42" cx="637.4" cy="348.9" r="3.1"/><circle class="a24 c44" cx="623" cy="352.4" r="3.1"/><circle class="a24 c50" cx="720.2" cy="360.8" r="3.1"/><circle class="a24 c49" cx="597.7" cy="359.1" r="3.1"/><circle class="a24 c48" cx="582.7" cy="357.2" r="3.1"/><circle class="a24 c42" cx="690.9" cy="349.2" r="3.1"/><circle class="a24 c16" cx="582.6" cy="309.4" r="3.1"/><circle class="a24 c42" cx="632" cy="349.1" r="3.1"/><circle class="a24 c42" cx="671.8" cy="348.2" r="3.1"/><circle class="a24 c11" cx="599.8" cy="302.9" r="3.1"/><circle class="a24 c46" cx="505.1" cy="354.6" r="3.1"/><circle class="a24 c45" cx="471" cy="353.7" r="3.1"/><circle class="a24 c41" cx="676.7" cy="347.3" r="3.1"/><circle class="a24 c44" cx="626.1" cy="351.5" r="3.1"/><circle class="a24 c49" cx="610.7" cy="360.1" r="3.1"/><circle class="a24 c46" cx="559" cy="354.7" r="3.1"/><circle class="a24 c45" cx="623.2" cy="353.9" r="3.1"/><circle class="a24 c50" cx="589.3" cy="360.6" r="3.1"/><circle class="a24 c47" cx="704.8" cy="356.6" r="3.1"/><circle class="a24 c45" cx="756.9" cy="353.3" r="3.1"/><circle class="a24 c44" cx="575" cy="351.9" r="3.1"/><circle class="a24 c43" cx="629.3" cy="350.4" r="3.1"/><circle class="a24 c45" cx="579.2" cy="354.6" r="3.1"/><circle class="a24 c46" cx="617.7" cy="355.6" r="3.1"/><circle class="a24 c48" cx="581.5" cy="358.4" r="3.1"/><circle class="a24 c31" cx="583.2" cy="333" r="3.1"/><circle class="a24 c50" cx="593.6" cy="361" r="3.1"/><circle class="a24 c46" cx="499.2" cy="356.5" r="3.1"/><circle class="a24 c12" cx="595.2" cy="304.6" r="3.1"/><circle class="a24 c43" cx="692.9" cy="350.3" r="3.1"/><circle class="a24 c41" cx="678.2" cy="348.2" r="3.1"/><circle class="a24 c13" cx="589.8" cy="305.1" r="3.1"/><circle class="a24 c47" cx="706.8" cy="357" r="3.1"/><circle class="a24 c41" cx="668.3" cy="348.2" r="3.1"/><circle class="a24 c49" cx="597.4" cy="359.9" r="3.1"/><circle class="a24 c40" cx="661.9" cy="347.5" r="3.1"/><circle class="a24 c41" cx="684.2" cy="347.7" r="3.1"/><circle class="a24 c44" cx="626.5" cy="352.7" r="3.1"/><circle class="a24 c46" cx="617.7" cy="356.6" r="3.1"/><circle class="a24 c46" cx="493.8" cy="355.3" r="3.1"/><circle class="a24 c44" cx="694.7" cy="352.8" r="3.1"/><circle class="a24 c49" cx="610.5" cy="360.7" r="3.1"/><circle class="a24 c48" cx="708.5" cy="358.3" r="3.1"/><circle class="a24 c41" cx="651.3" cy="348.4" r="3.1"/><circle class="a24 c46" cx="619.6" cy="356.8" r="3.1"/><circle class="a24 c47" cx="576" cy="357.1" r="3.1"/><circle class="a24 c46" cx="526.5" cy="356.3" r="3.1"/><circle class="a24 c42" cx="635.2" cy="350.2" r="3.1"/><circle class="a24 c49" cx="614.1" cy="360.9" r="3.1"/><circle class="a24 c49" cx="604.5" cy="360.9" r="3.1"/><circle class="a24 c45" cx="623.6" cy="355.3" r="3.1"/><circle class="a24 c41" cx="641.9" cy="348.7" r="3.1"/><circle class="a24 c50" cx="607.6" cy="361.8" r="3.1"/><circle class="a24 c42" cx="645.4" cy="349.7" r="3.1"/><circle class="a24 c49" cx="600.4" cy="361.3" r="3.1"/><circle class="a24 c43" cx="629.2" cy="352.1" r="3.1"/><circle class="a24 c43" cx="573" cy="352.2" r="3.1"/><circle class="a24 c49" cx="584.2" cy="360.1" r="3.1"/><circle class="a24 c48" cx="619.7" cy="358.3" r="3.1"/><circle class="a24 c49" cx="723.8" cy="360.4" r="3.1"/><circle class="a24 c49" cx="587.4" cy="361.5" r="3.1"/><circle class="a24 c44" cx="570.6" cy="352.8" r="3.1"/><circle class="a24 c31" cx="557" cy="333" r="3.1"/><circle class="a24 c32" cx="591.4" cy="335.8" r="3.1"/><circle class="a24 c45" cx="696" cy="354.9" r="3.1"/><circle class="a24 c41" cx="674.9" cy="349.1" r="3.1"/><circle class="a24 c44" cx="629.8" cy="353.1" r="3.1"/><circle class="a24 c43" cx="632.4" cy="352.3" r="3.1"/><circle class="a24 c44" cx="460.9" cy="353.6" r="3.1"/><circle class="a24 c41" cx="668.8" cy="349.3" r="3.1"/><circle class="a24 c50" cx="596.4" cy="361.8" r="3.1"/><circle class="a24 c42" cx="680.1" cy="349.8" r="3.1"/><circle class="a24 c44" cx="689.8" cy="353.2" r="3.1"/><circle class="a24 c42" cx="687" cy="349.5" r="3.1"/><circle class="a24 c48" cx="619.8" cy="359.4" r="3.1"/><circle class="a24 c47" cx="754.8" cy="358.3" r="3.1"/><circle class="a24 c42" cx="687.9" cy="350.9" r="3.1"/><circle class="a24 c49" cx="583.4" cy="361" r="3.1"/><circle class="a24 c46" cx="573" cy="356.5" r="3.1"/><circle class="a24 c41" cx="664.8" cy="349.6" r="3.1"/><circle class="a24 c41" cx="656.3" cy="349.2" r="3.1"/><circle class="a24 c42" cx="649.1" cy="349.7" r="3.1"/><circle class="a24 c15" cx="590" cy="309.8" r="3.1"/><circle class="a24 c46" cx="698.8" cy="356.7" r="3.1"/><circle class="a24 c46" cx="520.5" cy="357.6" r="3.1"/><circle class="a24 c44" cx="570" cy="353.8" r="3.1"/><circle class="a24 c42" cx="638.8" cy="351.1" r="3.1"/><circle class="a25 c48" cx="579.4" cy="359.1" r="3.1"/><circle class="a25 c44" cx="632.9" cy="353.8" r="3.1"/><circle class="a25 c47" cx="710.8" cy="358.7" r="3.1"/><circle class="a25 c44" cx="552.5" cy="354.1" r="3.1"/><circle class="a25 c50" cx="599.9" cy="362.4" r="3.1"/><circle class="a25 c43" cx="635.9" cy="353" r="3.1"/><circle class="a25 c42" cx="642.5" cy="350.8" r="3.1"/><circle class="a25 c42" cx="676" cy="350.2" r="3.1"/><circle class="a25 c47" cx="701.1" cy="358.8" r="3.1"/><circle class="a25 c41" cx="670.8" cy="349.9" r="3.1"/><circle class="a25 c45" cx="629.8" cy="355.3" r="3.1"/><circle class="a25 c44" cx="543.5" cy="353.6" r="3.1"/><circle class="a25 c40" cx="652.8" cy="349.1" r="3.1"/><circle class="a25 c42" cx="671.9" cy="351.6" r="3.1"/><circle class="a25 c42" cx="682.2" cy="350.6" r="3.1"/><circle class="a25 c48" cx="617.5" cy="360.3" r="3.1"/><circle class="a25 c42" cx="650.3" cy="350.7" r="3.1"/><circle class="a25 c43" cx="677.9" cy="352.5" r="3.1"/><circle class="a25 c43" cx="639.2" cy="352.1" r="3.1"/><circle class="a25 c42" cx="665.5" cy="351.1" r="3.1"/><circle class="a25 c44" cx="557.1" cy="353.8" r="3.1"/><circle class="a25 c49" cx="586.4" cy="362.5" r="3.1"/><circle class="a25 c44" cx="636.1" cy="354.2" r="3.1"/><circle class="a25 c41" cx="657.1" cy="350.4" r="3.1"/><circle class="a25 c45" cx="692.5" cy="356.1" r="3.1"/><circle class="a25 c43" cx="568" cy="353.6" r="3.1"/><circle class="a25 c45" cx="630.1" cy="355.8" r="3.1"/><circle class="a25 c43" cx="684.3" cy="353.4" r="3.1"/><circle class="a25 c13" cx="590.8" cy="308.3" r="3.1"/><circle class="a25 c41" cx="653.3" cy="350.1" r="3.1"/><circle class="a25 c48" cx="515.2" cy="359.7" r="3.1"/><circle class="a25 c49" cx="609.9" cy="362.6" r="3.1"/><circle class="a25 c45" cx="751.3" cy="357.1" r="3.1"/><circle class="a25 c49" cx="591.4" cy="362.3" r="3.1"/><circle class="a25 c49" cx="603.2" cy="362.9" r="3.1"/><circle class="a25 c43" cx="678.8" cy="353.6" r="3.1"/><circle class="a25 c42" cx="643.1" cy="351.6" r="3.1"/><circle class="a25 c48" cx="729.5" cy="361.1" r="3.1"/><circle class="a25 c50" cx="613.1" cy="363.5" r="3.1"/><circle class="a25 c44" cx="507.3" cy="355.5" r="3.1"/><circle class="a25 c43" cx="663.4" cy="352.9" r="3.1"/><circle class="a25 c44" cx="513.9" cy="354.6" r="3.1"/><circle class="a25 c15" cx="571.7" cy="311.9" r="3.1"/><circle class="a25 c46" cx="623.5" cy="357.5" r="3.1"/><circle class="a25 c43" cx="756.5" cy="353.8" r="3.1"/><circle class="a25 c45" cx="694.2" cy="357.3" r="3.1"/><circle class="a25 c44" cx="686.2" cy="355.4" r="3.1"/><circle class="a25 c42" cx="658.3" cy="351.9" r="3.1"/><circle class="a25 c43" cx="673.3" cy="353.2" r="3.1"/><circle class="a25 c48" cx="577.7" cy="361.1" r="3.1"/><circle class="a25 c42" cx="647.1" cy="352" r="3.1"/><circle class="a25 c49" cx="591.1" cy="362.9" r="3.1"/><circle class="a25 c44" cx="508" cy="355.6" r="3.1"/><circle class="a25 c44" cx="552.5" cy="355.6" r="3.1"/><circle class="a25 c45" cx="687.3" cy="356.4" r="3.1"/><circle class="a25 c45" cx="680.8" cy="356.5" r="3.1"/><circle class="a25 c49" cx="580.9" cy="362.2" r="3.1"/><circle class="a25 c46" cx="627.1" cy="359.1" r="3.1"/><circle class="a25 c44" cx="633.5" cy="355.6" r="3.1"/><circle class="a25 c49" cx="598.8" cy="363.4" r="3.1"/><circle class="a25 c46" cx="703.5" cy="359.1" r="3.1"/><circle class="a25 c42" cx="458.7" cy="352" r="3.1"/><circle class="a25 c45" cx="630.3" cy="357.2" r="3.1"/><circle class="a25 c42" cx="651.1" cy="351.7" r="3.1"/><circle class="a25 c42" cx="654.4" cy="351.5" r="3.1"/><circle class="a25 c49" cx="603" cy="363.6" r="3.1"/><circle class="a25 c42" cx="639.5" cy="352.9" r="3.1"/><circle class="a25 c49" cx="606.7" cy="363.3" r="3.1"/><circle class="a25 c46" cx="741.6" cy="358.7" r="3.1"/><circle class="a25 c49" cx="594.6" cy="363.2" r="3.1"/><circle class="a25 c45" cx="682.3" cy="358" r="3.1"/><circle class="a25 c45" cx="465.6" cy="356.7" r="3.1"/><circle class="a25 c42" cx="643.8" cy="352.8" r="3.1"/><circle class="a25 c48" cx="620.1" cy="361.8" r="3.1"/><circle class="a25 c46" cx="696.1" cy="358.7" r="3.1"/><circle class="a25 c48" cx="623.4" cy="361.3" r="3.1"/><circle class="a25 c46" cx="714.9" cy="359.5" r="3.1"/><circle class="a25 c42" cx="667.7" cy="352.2" r="3.1"/><circle class="a25 c42" cx="659.5" cy="353.5" r="3.1"/><circle class="a25 c46" cx="689.8" cy="359.4" r="3.1"/><circle class="a25 c46" cx="630.1" cy="359.4" r="3.1"/><circle class="a25 c43" cx="565.8" cy="354.7" r="3.1"/><circle class="a25 c49" cx="598.3" cy="364.1" r="3.1"/><circle class="a25 c43" cx="644.6" cy="354.4" r="3.1"/><circle class="a25 c49" cx="580" cy="363.7" r="3.1"/><circle class="a25 c43" cx="675.3" cy="354.8" r="3.1"/><circle class="a25 c43" cx="538" cy="354.8" r="3.1"/><circle class="a25 c42" cx="652.1" cy="352.9" r="3.1"/><circle class="a25 c49" cx="472.1" cy="363.6" r="3.1"/><circle class="a25 c43" cx="640.2" cy="354.6" r="3.1"/><circle class="a25 c46" cx="684.4" cy="360" r="3.1"/><circle class="a25 c0" cx="601.9" cy="290.4" r="3.1"/><circle class="a25 c44" cx="503" cy="356.4" r="3.1"/><circle class="a25 c46" cx="634.1" cy="359.1" r="3.1"/><circle class="a25 c46" cx="527.6" cy="358.8" r="3.1"/><circle class="a25 c42" cx="668.7" cy="353.6" r="3.1"/><circle class="a25 c47" cx="630.5" cy="360.7" r="3.1"/><circle class="a25 c49" cx="617.1" cy="364" r="3.1"/><circle class="a25 c44" cx="665.9" cy="356.5" r="3.1"/><circle class="a25 c49" cx="612.7" cy="364.1" r="3.1"/><circle class="a25 c44" cx="676.2" cy="356.2" r="3.1"/><circle class="a25 c46" cx="717.5" cy="359.9" r="3.1"/><circle class="a25 c42" cx="655.4" cy="352.9" r="3.1"/><circle class="a25 c48" cx="623.8" cy="362.8" r="3.1"/><circle class="a25 c43" cx="648.3" cy="355" r="3.1"/><circle class="a25 c43" cx="660.6" cy="355.3" r="3.1"/><circle class="a25 c49" cx="590.1" cy="364.1" r="3.1"/><circle class="a25 c46" cx="698.3" cy="359.7" r="3.1"/><circle class="a25 c49" cx="609.2" cy="364.5" r="3.1"/><circle class="a25 c43" cx="547" cy="354.9" r="3.1"/><circle class="a25 c46" cx="634.1" cy="360.8" r="3.1"/><circle class="a25 c48" cx="637.9" cy="361.9" r="3.1"/><circle class="a25 c44" cx="641.1" cy="357" r="3.1"/><circle class="a25 c49" cx="627.3" cy="364.2" r="3.1"/><circle class="a25 c42" cx="652.6" cy="354.2" r="3.1"/><circle class="a25 c42" cx="668.9" cy="353.9" r="3.1"/><circle class="a25 c48" cx="575.4" cy="362" r="3.1"/><circle class="a25 c42" cx="656.2" cy="353.9" r="3.1"/><circle class="a25 c45" cx="678.5" cy="358.3" r="3.1"/><circle class="a25 c41" cx="752.6" cy="352.2" r="3.1"/><circle class="a25 c43" cx="462.2" cy="354.9" r="3.1"/><circle class="a25 c49" cx="597.5" cy="365.1" r="3.1"/><circle class="a25 c43" cx="645.2" cy="355.7" r="3.1"/><circle class="a25 c46" cx="679.3" cy="360.2" r="3.1"/><circle class="a25 c43" cx="752.1" cy="355.5" r="3.1"/><circle class="a25 c44" cx="649.1" cy="357" r="3.1"/><circle class="a25 c49" cx="583.2" cy="364.7" r="3.1"/><circle class="a25 c44" cx="653.6" cy="356.5" r="3.1"/><circle class="a25 c44" cx="553.5" cy="357.6" r="3.1"/><circle class="a25 c46" cx="491.7" cy="360.3" r="3.1"/><circle class="a25 c46" cx="692.6" cy="360" r="3.1"/><circle class="a25 c49" cx="605.4" cy="365.2" r="3.1"/><circle class="a25 c44" cx="661.5" cy="356.6" r="3.1"/><circle class="a25 c47" cx="708.5" cy="361.6" r="3.1"/><circle class="a25 c45" cx="496.9" cy="358.4" r="3.1"/><circle class="a25 c48" cx="686.3" cy="362.6" r="3.1"/><circle class="a25 c48" cx="694.1" cy="362.8" r="3.1"/><circle class="a25 c49" cx="589.5" cy="365.7" r="3.1"/><circle class="a25 c46" cx="571.2" cy="360.6" r="3.1"/><circle class="a25 c43" cx="534.3" cy="356.1" r="3.1"/><circle class="a25 c41" cx="456" cy="353" r="3.1"/><circle class="a25 c47" cx="737.2" cy="362.2" r="3.1"/><circle class="a25 c46" cx="701.8" cy="361" r="3.1"/><circle class="a25 c42" cx="565" cy="354.8" r="3.1"/><circle class="a25 c43" cx="518.2" cy="356.1" r="3.1"/><circle class="a25 c48" cx="634.5" cy="363.8" r="3.1"/><circle class="a25 c44" cx="650.1" cy="358.4" r="3.1"/><circle class="a25 c44" cx="671.4" cy="357.3" r="3.1"/><circle class="a25 c50" cx="609" cy="366.4" r="3.1"/><circle class="a25 c44" cx="641.5" cy="358.6" r="3.1"/><circle class="a25 c47" cx="631.2" cy="362.6" r="3.1"/><circle class="a25 c43" cx="657.6" cy="355.7" r="3.1"/><circle class="a25 c42" cx="744.8" cy="355.2" r="3.1"/><circle class="a25 c15" cx="570.4" cy="313.9" r="3.1"/><circle class="a25 c49" cx="596.3" cy="365.6" r="3.1"/><circle class="a25 c45" cx="510" cy="360.3" r="3.1"/><circle class="a25 c48" cx="638.9" cy="364.3" r="3.1"/><circle class="a25 c45" cx="641.7" cy="359.5" r="3.1"/><circle class="a25 c46" cx="669.1" cy="361.1" r="3.1"/><circle class="a25 c44" cx="662.4" cy="358" r="3.1"/><circle class="a25 c16" cx="574.3" cy="315.1" r="3.1"/><circle class="a25 c49" cx="619.5" cy="364.9" r="3.1"/><circle class="a25 c50" cx="612.6" cy="366.3" r="3.1"/><circle class="a25 c44" cx="645.8" cy="358.2" r="3.1"/><circle class="a25 c49" cx="582.3" cy="365.8" r="3.1"/><circle class="a25 c46" cx="574.3" cy="362.1" r="3.1"/><circle class="a25 c48" cx="578.3" cy="364.4" r="3.1"/><circle class="a25 c49" cx="639.2" cy="365.9" r="3.1"/><circle class="a25 c44" cx="654.9" cy="357.9" r="3.1"/><circle class="a25 c50" cx="639.5" cy="367.7" r="3.1"/><circle class="a25 c44" cx="646.7" cy="358.9" r="3.1"/><circle class="a25 c43" cx="658.1" cy="357.4" r="3.1"/><circle class="a25 c46" cx="711.9" cy="362.2" r="3.1"/><circle class="a25 c47" cx="681.9" cy="362.7" r="3.1"/><circle class="a25 c47" cx="688.6" cy="363.1" r="3.1"/><circle class="a25 c49" cx="616.1" cy="365.7" r="3.1"/><circle class="a25 c47" cx="695.9" cy="363.1" r="3.1"/><circle class="a25 c45" cx="672.8" cy="359.4" r="3.1"/><circle class="a25 c43" cx="541.5" cy="357.7" r="3.1"/><circle class="a25 c39" cx="751.8" cy="350.6" r="3.1"/><circle class="a25 c48" cx="623.7" cy="364.9" r="3.1"/><circle class="a25 c49" cx="634.7" cy="366.5" r="3.1"/><circle class="a25 c46" cx="702.9" cy="361.6" r="3.1"/><circle class="a25 c45" cx="567.2" cy="360.9" r="3.1"/><circle class="a25 c49" cx="591.8" cy="366" r="3.1"/><circle class="a25 c45" cx="655.6" cy="359.9" r="3.1"/><circle class="a25 c45" cx="545.9" cy="359.8" r="3.1"/><circle class="a25 c45" cx="663.9" cy="360.1" r="3.1"/><circle class="a25 c48" cx="631.5" cy="365.1" r="3.1"/><circle class="a25 c45" cx="565.6" cy="361.3" r="3.1"/><circle class="a25 c49" cx="600.9" cy="365.8" r="3.1"/><circle class="a25 c44" cx="520.8" cy="358.9" r="3.1"/><circle class="a25 c40" cx="745.4" cy="353.9" r="3.1"/><circle class="a25 c46" cx="642.4" cy="361.6" r="3.1"/><circle class="a25 c46" cx="674.5" cy="361.6" r="3.1"/><circle class="a25 c46" cx="651.1" cy="361.5" r="3.1"/><circle class="a25 c44" cx="548.7" cy="359.1" r="3.1"/><circle class="a25 c48" cx="689.8" cy="364.4" r="3.1"/><circle class="a25 c45" cx="507.6" cy="361.1" r="3.1"/><circle class="a25 c50" cx="608.2" cy="367.5" r="3.1"/><circle class="a25 c44" cx="659.2" cy="358.8" r="3.1"/><circle class="a25 c45" cx="494.1" cy="360.8" r="3.1"/><circle class="a25 c48" cx="683.4" cy="364.8" r="3.1"/><circle class="a25 c46" cx="501.7" cy="362.6" r="3.1"/><circle class="a25 c45" cx="510.6" cy="360.7" r="3.1"/><circle class="a25 c47" cx="697.6" cy="363.9" r="3.1"/><circle class="a25 c49" cx="580.8" cy="367" r="3.1"/><circle class="a26 c47" cx="705.9" cy="363.9" r="3.1"/><circle class="a26 c44" cx="536.7" cy="358.8" r="3.1"/><circle class="a26 c31" cx="565" cy="339" r="3.1"/><circle class="a26 c45" cx="647.5" cy="360.9" r="3.1"/><circle class="a26 c49" cx="619.4" cy="366.3" r="3.1"/><circle class="a26 c45" cx="656.7" cy="361.9" r="3.1"/><circle class="a26 c45" cx="543.3" cy="361" r="3.1"/><circle class="a26 c46" cx="675.7" cy="362.8" r="3.1"/><circle class="a26 c48" cx="631.6" cy="365.8" r="3.1"/><circle class="a26 c48" cx="576.4" cy="365.5" r="3.1"/><circle class="a26 c20" cx="563" cy="324" r="3.1"/><circle class="a26 c49" cx="685" cy="366.8" r="3.1"/><circle class="a26 c45" cx="660.6" cy="360.7" r="3.1"/><circle class="a26 c49" cx="595.7" cy="367.2" r="3.1"/><circle class="a26 c49" cx="604.5" cy="367.4" r="3.1"/><circle class="a26 c49" cx="624" cy="367" r="3.1"/><circle class="a26 c45" cx="665.6" cy="361.7" r="3.1"/><circle class="a26 c46" cx="652.7" cy="363.6" r="3.1"/><circle class="a26 c13" cx="566" cy="312" r="3.1"/><circle class="a26 c51" cx="639.9" cy="369.9" r="3.1"/><circle class="a26 c46" cx="571.5" cy="363.5" r="3.1"/><circle class="a26 c49" cx="611.9" cy="368" r="3.1"/><circle class="a26 c46" cx="666.3" cy="363.9" r="3.1"/><circle class="a26 c49" cx="586.8" cy="366.7" r="3.1"/><circle class="a26 c44" cx="529.1" cy="359.6" r="3.1"/><circle class="a26 c44" cx="713.6" cy="360.3" r="3.1"/><circle class="a26 c15" cx="571.3" cy="315.9" r="3.1"/><circle class="a26 c46" cx="657.8" cy="363.2" r="3.1"/><circle class="a26 c49" cx="673.3" cy="367.4" r="3.1"/><circle class="a26 c48" cx="493.4" cy="365.6" r="3.1"/><circle class="a26 c46" cx="643.2" cy="363.7" r="3.1"/><circle class="a26 c43" cx="559.9" cy="358.2" r="3.1"/><circle class="a26 c50" cx="594.8" cy="368.6" r="3.1"/><circle class="a26 c14" cx="563.6" cy="314.9" r="3.1"/><circle class="a26 c45" cx="726.5" cy="362.1" r="3.1"/><circle class="a26 c46" cx="648.1" cy="363.4" r="3.1"/><circle class="a26 c47" cx="570.8" cy="364.5" r="3.1"/><circle class="a26 c48" cx="677" cy="365.4" r="3.1"/><circle class="a26 c47" cx="648.9" cy="364.7" r="3.1"/><circle class="a26 c45" cx="661.5" cy="362.6" r="3.1"/><circle class="a26 c49" cx="590.4" cy="368.5" r="3.1"/><circle class="a26 c48" cx="692.4" cy="365.5" r="3.1"/><circle class="a26 c13" cx="592.2" cy="312.9" r="3.1"/><circle class="a26 c47" cx="643.6" cy="364.7" r="3.1"/><circle class="a26 c48" cx="575.2" cy="366.1" r="3.1"/><circle class="a26 c48" cx="616.1" cy="366.9" r="3.1"/><circle class="a26 c49" cx="627.9" cy="367.8" r="3.1"/><circle class="a26 c49" cx="603.9" cy="368.5" r="3.1"/><circle class="a26 c43" cx="535.5" cy="358.9" r="3.1"/><circle class="a26 c46" cx="459.7" cy="363.7" r="3.1"/><circle class="a26 c47" cx="653.2" cy="365.2" r="3.1"/><circle class="a26 c49" cx="573.9" cy="368" r="3.1"/><circle class="a26 c46" cx="499.1" cy="364.7" r="3.1"/><circle class="a26 c47" cx="658.5" cy="365.6" r="3.1"/><circle class="a26 c48" cx="694.1" cy="366.4" r="3.1"/><circle class="a26 c46" cx="700.5" cy="364.8" r="3.1"/><circle class="a26 c49" cx="585.4" cy="368.1" r="3.1"/><circle class="a26 c47" cx="667.7" cy="365.6" r="3.1"/><circle class="a26 c46" cx="747.4" cy="364" r="3.1"/><circle class="a26 c46" cx="552.2" cy="363.8" r="3.1"/><circle class="a26 c49" cx="607.5" cy="368.8" r="3.1"/><circle class="a26 c46" cx="662.4" cy="364.8" r="3.1"/><circle class="a26 c49" cx="578.6" cy="369.1" r="3.1"/><circle class="a26 c48" cx="644.4" cy="367" r="3.1"/><circle class="a26 c48" cx="687.8" cy="367.3" r="3.1"/><circle class="a26 c48" cx="679.1" cy="366.7" r="3.1"/><circle class="a26 c46" cx="560.9" cy="365.1" r="3.1"/><circle class="a26 c43" cx="561.9" cy="359.6" r="3.1"/><circle class="a26 c50" cx="611.7" cy="370" r="3.1"/><circle class="a26 c44" cx="462.2" cy="361.2" r="3.1"/><circle class="a26 c45" cx="731.8" cy="363.4" r="3.1"/><circle class="a26 c49" cx="599.1" cy="368.3" r="3.1"/><circle class="a26 c43" cx="526.2" cy="359.7" r="3.1"/><circle class="a26 c42" cx="534.1" cy="358" r="3.1"/><circle class="a26 c47" cx="663.8" cy="366.1" r="3.1"/><circle class="a26 c46" cx="734.4" cy="365.3" r="3.1"/><circle class="a26 c49" cx="589.4" cy="369.3" r="3.1"/><circle class="a26 c49" cx="607.4" cy="369.2" r="3.1"/><circle class="a26 c46" cx="477.9" cy="365.7" r="3.1"/><circle class="a26 c47" cx="485.5" cy="366.6" r="3.1"/><circle class="a26 c49" cx="636.5" cy="370.1" r="3.1"/><circle class="a26 c44" cx="748.9" cy="362.4" r="3.1"/><circle class="a26 c48" cx="632.1" cy="366.9" r="3.1"/><circle class="a26 c49" cx="585.1" cy="369.4" r="3.1"/><circle class="a26 c48" cx="624.5" cy="368.2" r="3.1"/><circle class="a26 c43" cx="556.6" cy="360.8" r="3.1"/><circle class="a26 c46" cx="702.9" cy="365.4" r="3.1"/><circle class="a26 c48" cx="618.6" cy="367.6" r="3.1"/><circle class="a26 c44" cx="710.2" cy="362.3" r="3.1"/><circle class="a26 c47" cx="650.1" cy="366.5" r="3.1"/><circle class="a26 c46" cx="569.1" cy="364.9" r="3.1"/><circle class="a26 c48" cx="654.4" cy="367.3" r="3.1"/><circle class="a26 c48" cx="669.5" cy="367.8" r="3.1"/><circle class="a26 c48" cx="689" cy="368.7" r="3.1"/><circle class="a26 c46" cx="722.3" cy="365.4" r="3.1"/><circle class="a26 c47" cx="473.5" cy="366.7" r="3.1"/><circle class="a26 c48" cx="659.9" cy="367.8" r="3.1"/><circle class="a26 c42" cx="748.4" cy="359.4" r="3.1"/><circle class="a26 c49" cx="577.5" cy="369.9" r="3.1"/><circle class="a26 c51" cx="641.2" cy="373.7" r="3.1"/><circle class="a26 c48" cx="572.6" cy="368.9" r="3.1"/><circle class="a26 c48" cx="660.9" cy="368.3" r="3.1"/><circle class="a26 c46" cx="567.9" cy="365.8" r="3.1"/><circle class="a26 c48" cx="624.1" cy="369" r="3.1"/><circle class="a26 c43" cx="521.3" cy="361.2" r="3.1"/><circle class="a26 c48" cx="697.1" cy="368.8" r="3.1"/><circle class="a26 c48" cx="645.2" cy="368.2" r="3.1"/><circle class="a26 c49" cx="628.3" cy="369.8" r="3.1"/><circle class="a26 c49" cx="588.1" cy="370.1" r="3.1"/><circle class="a26 c43" cx="540.2" cy="361.4" r="3.1"/><circle class="a26 c46" cx="681.2" cy="366.6" r="3.1"/><circle class="a26 c49" cx="593.1" cy="370.2" r="3.1"/><circle class="a26 c46" cx="490.1" cy="365.9" r="3.1"/><circle class="a26 c45" cx="487.5" cy="365.4" r="3.1"/><circle class="a26 c48" cx="632.7" cy="368.2" r="3.1"/><circle class="a26 c48" cx="655.4" cy="368.9" r="3.1"/><circle class="a26 c41" cx="557.7" cy="358.9" r="3.1"/><circle class="a26 c50" cx="637.3" cy="371.6" r="3.1"/><circle class="a26 c48" cx="616.5" cy="369.8" r="3.1"/><circle class="a26 c49" cx="502.5" cy="370.1" r="3.1"/><circle class="a26 c48" cx="598.4" cy="369.6" r="3.1"/><circle class="a26 c48" cx="691.1" cy="369.1" r="3.1"/><circle class="a26 c47" cx="706.4" cy="368.4" r="3.1"/><circle class="a26 c43" cx="529.3" cy="362.4" r="3.1"/><circle class="a26 c46" cx="566.4" cy="366.4" r="3.1"/><circle class="a26 c49" cx="606.3" cy="371" r="3.1"/><circle class="a26 c43" cx="537.5" cy="362.4" r="3.1"/><circle class="a26 c46" cx="651.5" cy="367.6" r="3.1"/><circle class="a26 c46" cx="682.1" cy="367.6" r="3.1"/><circle class="a26 c44" cx="532.8" cy="364" r="3.1"/><circle class="a26 c49" cx="611" cy="371.3" r="3.1"/><circle class="a26 c49" cx="476.1" cy="370.7" r="3.1"/><circle class="a26 c49" cx="615.8" cy="370.7" r="3.1"/><circle class="a26 c48" cx="571.1" cy="370" r="3.1"/><circle class="a26 c49" cx="592.8" cy="371.3" r="3.1"/><circle class="a26 c49" cx="576" cy="371.4" r="3.1"/><circle class="a26 c40" cx="747.2" cy="358.9" r="3.1"/><circle class="a26 c50" cx="637.7" cy="373.2" r="3.1"/><circle class="a26 c46" cx="666.4" cy="367.9" r="3.1"/><circle class="a26 c48" cx="662" cy="369.9" r="3.1"/><circle class="a26 c12" cx="574.6" cy="316.1" r="3.1"/><circle class="a26 c48" cx="632.7" cy="370.4" r="3.1"/><circle class="a26 c48" cx="656.5" cy="370" r="3.1"/><circle class="a26 c41" cx="552.7" cy="359.9" r="3.1"/><circle class="a26 c49" cx="587.2" cy="371.1" r="3.1"/><circle class="a26 c49" cx="624.2" cy="371" r="3.1"/><circle class="a26 c47" cx="645.8" cy="368.9" r="3.1"/><circle class="a26 c46" cx="699.9" cy="368.4" r="3.1"/><circle class="a26 c44" cx="724.5" cy="365" r="3.1"/><circle class="a26 c46" cx="468.1" cy="367.2" r="3.1"/><circle class="a26 c49" cx="591.9" cy="372" r="3.1"/><circle class="a26 c48" cx="619" cy="370.3" r="3.1"/><circle class="a26 c48" cx="602.2" cy="371.1" r="3.1"/><circle class="a26 c49" cx="581.9" cy="371.8" r="3.1"/><circle class="a26 c48" cx="692.8" cy="370.2" r="3.1"/><circle class="a26 c43" cx="545.8" cy="363.6" r="3.1"/><circle class="a26 c49" cx="597.4" cy="371.5" r="3.1"/><circle class="a27 c49" cx="610.7" cy="372.5" r="3.1"/><circle class="a27 c46" cx="708.3" cy="367.6" r="3.1"/><circle class="a27 c11" cx="580.9" cy="314.9" r="3.1"/><circle class="a27 c42" cx="518" cy="362.4" r="3.1"/><circle class="a27 c14" cx="592.4" cy="319.9" r="3.1"/><circle class="a27 c11" cx="585.9" cy="314.9" r="3.1"/><circle class="a27 c47" cx="646.6" cy="370.1" r="3.1"/><circle class="a27 c46" cx="685.1" cy="369.4" r="3.1"/><circle class="a27 c49" cx="586.2" cy="372.4" r="3.1"/><circle class="a27 c45" cx="564.4" cy="367.7" r="3.1"/><circle class="a27 c48" cx="694.8" cy="370.7" r="3.1"/><circle class="a27 c49" cx="581.7" cy="372.7" r="3.1"/><circle class="a27 c48" cx="574.2" cy="371.6" r="3.1"/><circle class="a27 c51" cx="643.5" cy="376.2" r="3.1"/><circle class="a27 c48" cx="663.9" cy="371.4" r="3.1"/><circle class="a27 c47" cx="491.6" cy="369.9" r="3.1"/><circle class="a27 c49" cx="601.6" cy="372.9" r="3.1"/><circle class="a27 c47" cx="686.5" cy="370.6" r="3.1"/><circle class="a27 c45" cx="556.4" cy="368.1" r="3.1"/><circle class="a27 c33" cx="527" cy="350" r="3.1"/><circle class="a27 c47" cx="652.6" cy="370.1" r="3.1"/><circle class="a27 c42" cx="508.6" cy="361.9" r="3.1"/><circle class="a27 c47" cx="568.8" cy="370.7" r="3.1"/><circle class="a27 c46" cx="711" cy="369.3" r="3.1"/><circle class="a27 c48" cx="623.9" cy="371.6" r="3.1"/><circle class="a27 c46" cx="667.3" cy="369.1" r="3.1"/><circle class="a27 c49" cx="609.9" cy="373.6" r="3.1"/><circle class="a27 c42" cx="527.1" cy="362" r="3.1"/><circle class="a27 c46" cx="703.3" cy="369.9" r="3.1"/><circle class="a27 c47" cx="632.9" cy="370.8" r="3.1"/><circle class="a27 c41" cx="551.8" cy="361.2" r="3.1"/><circle class="a27 c45" cx="720.5" cy="368.6" r="3.1"/><circle class="a27 c44" cx="743.1" cy="366.3" r="3.1"/><circle class="a27 c47" cx="673.7" cy="370.4" r="3.1"/><circle class="a27 c11" cx="582" cy="316.4" r="3.1"/><circle class="a27 c40" cx="551.4" cy="360.9" r="3.1"/><circle class="a27 c49" cx="590.6" cy="374.6" r="3.1"/><circle class="a27 c48" cx="605.7" cy="372.9" r="3.1"/><circle class="a27 c42" cx="524.1" cy="363.7" r="3.1"/><circle class="a27 c10" cx="580.6" cy="315.6" r="3.1"/><circle class="a27 c46" cx="476.4" cy="370.2" r="3.1"/><circle class="a27 c47" cx="646.7" cy="370.7" r="3.1"/><circle class="a27 c48" cx="573.1" cy="372.8" r="3.1"/><circle class="a27 c45" cx="563.2" cy="368.6" r="3.1"/><circle class="a27 c42" cx="465.6" cy="363.4" r="3.1"/><circle class="a27 c51" cx="643.8" cy="377.5" r="3.1"/><circle class="a27 c47" cx="568.3" cy="371.4" r="3.1"/><circle class="a27 c48" cx="705" cy="372.2" r="3.1"/><circle class="a27 c43" cx="531.9" cy="364.4" r="3.1"/><circle class="a27 c49" cx="628.9" cy="373.6" r="3.1"/><circle class="a27 c47" cx="658.8" cy="371.1" r="3.1"/><circle class="a27 c48" cx="584.9" cy="372.7" r="3.1"/><circle class="a27 c48" cx="618.6" cy="372.5" r="3.1"/><circle class="a27 c50" cx="638.6" cy="375.7" r="3.1"/><circle class="a27 c46" cx="653.3" cy="370.7" r="3.1"/><circle class="a27 c43" cx="505.6" cy="364.9" r="3.1"/><circle class="a27 c48" cx="633.4" cy="372" r="3.1"/><circle class="a27 c48" cx="615.3" cy="372.5" r="3.1"/><circle class="a27 c43" cx="512.1" cy="365" r="3.1"/><circle class="a27 c48" cx="624" cy="372.3" r="3.1"/><circle class="a27 c48" cx="596.2" cy="372.2" r="3.1"/><circle class="a27 c43" cx="472.9" cy="365.9" r="3.1"/><circle class="a27 c49" cx="605.2" cy="374.1" r="3.1"/><circle class="a27 c16" cx="584.4" cy="325.1" r="3.1"/><circle class="a27 c47" cx="674.9" cy="371.7" r="3.1"/><circle class="a27 c45" cx="713.7" cy="368.8" r="3.1"/><circle class="a27 c33" cx="544" cy="350" r="3.1"/><circle class="a27 c44" cx="536.4" cy="367.6" r="3.1"/><circle class="a27 c45" cx="550.5" cy="369.1" r="3.1"/><circle class="a27 c44" cx="542.1" cy="368.5" r="3.1"/><circle class="a27 c47" cx="647.5" cy="372.2" r="3.1"/><circle class="a27 c49" cx="609.9" cy="375" r="3.1"/><circle class="a27 c49" cx="600.8" cy="374.5" r="3.1"/><circle class="a27 c44" cx="529.3" cy="367.6" r="3.1"/><circle class="a27 c45" cx="669.6" cy="369.4" r="3.1"/><circle class="a27 c50" cx="638.9" cy="377" r="3.1"/><circle class="a27 c11" cx="570.6" cy="318.7" r="3.1"/><circle class="a27 c42" cx="520" cy="364.9" r="3.1"/><circle class="a27 c49" cx="589.6" cy="375.6" r="3.1"/><circle class="a27 c47" cx="633.9" cy="373.1" r="3.1"/><circle class="a27 c41" cx="742.8" cy="363.3" r="3.1"/><circle class="a27 c47" cx="659.8" cy="373" r="3.1"/><circle class="a27 c47" cx="595.6" cy="372.9" r="3.1"/><circle class="a27 c43" cx="723.5" cy="366.1" r="3.1"/><circle class="a27 c46" cx="697.5" cy="371.5" r="3.1"/><circle class="a27 c39" cx="740.6" cy="360.7" r="3.1"/><circle class="a27 c48" cx="624.1" cy="373.8" r="3.1"/><circle class="a27 c46" cx="689.2" cy="372.1" r="3.1"/><circle class="a27 c44" cx="526.3" cy="369" r="3.1"/><circle class="a27 c46" cx="565.7" cy="372.3" r="3.1"/><circle class="a27 c48" cx="571.2" cy="374.2" r="3.1"/><circle class="a27 c13" cx="590.3" cy="321.2" r="3.1"/><circle class="a27 c44" cx="734.5" cy="368.5" r="3.1"/><circle class="a27 c49" cx="588.9" cy="376.9" r="3.1"/><circle class="a27 c48" cx="583.7" cy="374.1" r="3.1"/><circle class="a27 c49" cx="604.4" cy="375.8" r="3.1"/><circle class="a27 c49" cx="609.5" cy="376.5" r="3.1"/><circle class="a27 c47" cx="665.5" cy="373" r="3.1"/><circle class="a27 c48" cx="578.7" cy="374.6" r="3.1"/><circle class="a27 c44" cx="560" cy="369.4" r="3.1"/><circle class="a27 c46" cx="654.7" cy="371.5" r="3.1"/><circle class="a27 c46" cx="481.8" cy="372.1" r="3.1"/><circle class="a27 c51" cx="644.4" cy="380.3" r="3.1"/><circle class="a27 c45" cx="671.1" cy="371.3" r="3.1"/><circle class="a27 c13" cx="593.4" cy="321.6" r="3.1"/><circle class="a27 c45" cx="499.3" cy="371.3" r="3.1"/><circle class="a27 c47" cx="700.2" cy="373.5" r="3.1"/><circle class="a27 c48" cx="570.4" cy="375" r="3.1"/><circle class="a27 c40" cx="546.3" cy="364" r="3.1"/><circle class="a27 c46" cx="548.8" cy="372" r="3.1"/><circle class="a27 c48" cx="595.7" cy="374.7" r="3.1"/><circle class="a27 c49" cx="599.6" cy="376.2" r="3.1"/><circle class="a27 c46" cx="691.1" cy="372.1" r="3.1"/><circle class="a27 c48" cx="582.9" cy="375.4" r="3.1"/><circle class="a27 c44" cx="717.1" cy="370.2" r="3.1"/><circle class="a27 c47" cx="667.3" cy="373.9" r="3.1"/><circle class="a27 c47" cx="563.9" cy="373.8" r="3.1"/><circle class="a27 c39" cx="548.7" cy="362.4" r="3.1"/><circle class="a27 c46" cx="649" cy="373.6" r="3.1"/><circle class="a27 c49" cx="629" cy="376.7" r="3.1"/><circle class="a27 c48" cx="614.8" cy="375.1" r="3.1"/><circle class="a27 c43" cx="738.1" cy="368" r="3.1"/><circle class="a27 c41" cx="517.6" cy="365.2" r="3.1"/><circle class="a27 c12" cx="581.4" cy="321.3" r="3.1"/><circle class="a27 c10" cx="575.1" cy="318.8" r="3.1"/><circle class="a27 c48" cx="618.4" cy="375.4" r="3.1"/><circle class="a27 c45" cx="655.2" cy="372.4" r="3.1"/><circle class="a27 c47" cx="661.4" cy="374.7" r="3.1"/><circle class="a28 c46" cx="702.4" cy="373.8" r="3.1"/><circle class="a28 c46" cx="677.8" cy="372.9" r="3.1"/><circle class="a28 c46" cx="711.6" cy="374" r="3.1"/><circle class="a28 c41" cx="511.9" cy="365.8" r="3.1"/><circle class="a28 c49" cx="603.3" cy="377.5" r="3.1"/><circle class="a28 c49" cx="609.2" cy="378.4" r="3.1"/><circle class="a28 c41" cx="739.2" cy="366.3" r="3.1"/><circle class="a28 c45" cx="649.6" cy="372.9" r="3.1"/><circle class="a28 c8" cx="565.6" cy="316.4" r="3.1"/><circle class="a28 c44" cx="510.2" cy="371" r="3.1"/><circle class="a28 c47" cx="667.8" cy="375" r="3.1"/><circle class="a28 c49" cx="587.5" cy="377.9" r="3.1"/><circle class="a28 c44" cx="557.2" cy="370.4" r="3.1"/><circle class="a28 c45" cx="672.6" cy="372" r="3.1"/><circle class="a28 c50" cx="640.2" cy="380" r="3.1"/><circle class="a28 c43" cx="533.4" cy="369.3" r="3.1"/><circle class="a28 c11" cx="577.7" cy="321.5" r="3.1"/><circle class="a28 c46" cx="635" cy="374.3" r="3.1"/><circle class="a28 c49" cx="629.4" cy="377.9" r="3.1"/><circle class="a28 c45" cx="692.3" cy="373.3" r="3.1"/><circle class="a28 c14" cx="567.9" cy="325.5" r="3.1"/><circle class="a28 c52" cx="645.5" cy="383.4" r="3.1"/><circle class="a28 c47" cx="594.7" cy="375.5" r="3.1"/><circle class="a28 c48" cx="598.9" cy="377.7" r="3.1"/><circle class="a28 c42" cx="483.3" cy="368.7" r="3.1"/><circle class="a28 c47" cx="662.2" cy="375.7" r="3.1"/><circle class="a28 c48" cx="576.1" cy="376.7" r="3.1"/><circle class="a28 c47" cx="624.4" cy="375.6" r="3.1"/><circle class="a28 c48" cx="581.5" cy="376.8" r="3.1"/><circle class="a28 c47" cx="568.4" cy="376" r="3.1"/><circle class="a28 c46" cx="680.7" cy="374.8" r="3.1"/><circle class="a28 c39" cx="738.1" cy="364.4" r="3.1"/><circle class="a28 c45" cx="656.3" cy="373.1" r="3.1"/><circle class="a28 c46" cx="562.4" cy="375.6" r="3.1"/><circle class="a28 c46" cx="713.4" cy="374.7" r="3.1"/><circle class="a28 c47" cx="618.4" cy="376.7" r="3.1"/><circle class="a28 c49" cx="608.8" cy="379.4" r="3.1"/><circle class="a28 c42" cx="539.5" cy="369.3" r="3.1"/><circle class="a28 c13" cx="579.7" cy="324.4" r="3.1"/><circle class="a28 c41" cx="539.9" cy="367.4" r="3.1"/><circle class="a28 c49" cx="689.4" cy="378.9" r="3.1"/><circle class="a28 c9" cx="585.6" cy="318.5" r="3.1"/><circle class="a28 c50" cx="640.3" cy="381.1" r="3.1"/><circle class="a28 c42" cx="539.9" cy="368.9" r="3.1"/><circle class="a28 c49" cx="586.7" cy="379.1" r="3.1"/><circle class="a28 c37" cx="739.9" cy="361.7" r="3.1"/><circle class="a28 c49" cx="580.2" cy="379.2" r="3.1"/><circle class="a28 c46" cx="545" cy="375.6" r="3.1"/><circle class="a28 c46" cx="650.8" cy="375" r="3.1"/><circle class="a28 c48" cx="602.5" cy="378.5" r="3.1"/><circle class="a28 c47" cx="618.1" cy="377.4" r="3.1"/><circle class="a28 c47" cx="593.5" cy="376.7" r="3.1"/><circle class="a28 c46" cx="706.1" cy="375.8" r="3.1"/><circle class="a28 c9" cx="570.1" cy="319.1" r="3.1"/><circle class="a28 c47" cx="525.4" cy="377.7" r="3.1"/><circle class="a28 c44" cx="674.4" cy="373.5" r="3.1"/><circle class="a28 c45" cx="492.4" cy="373.7" r="3.1"/><circle class="a28 c45" cx="634.5" cy="375.1" r="3.1"/><circle class="a28 c49" cx="691.2" cy="379.9" r="3.1"/><circle class="a28 c46" cx="566.2" cy="376.9" r="3.1"/><circle class="a28 c49" cx="598.2" cy="379.8" r="3.1"/><circle class="a28 c46" cx="559.7" cy="376.8" r="3.1"/><circle class="a28 c46" cx="669.8" cy="377" r="3.1"/><circle class="a28 c47" cx="614.8" cy="377.2" r="3.1"/><circle class="a28 c45" cx="657.1" cy="374.8" r="3.1"/><circle class="a28 c46" cx="663.3" cy="377" r="3.1"/><circle class="a28 c44" cx="554.1" cy="373.1" r="3.1"/><circle class="a28 c14" cx="576.2" cy="326.9" r="3.1"/><circle class="a28 c45" cx="516.5" cy="375.3" r="3.1"/><circle class="a28 c46" cx="624.5" cy="377.1" r="3.1"/><circle class="a28 c11" cx="568.6" cy="323.5" r="3.1"/><circle class="a28 c48" cx="608.2" cy="380.3" r="3.1"/><circle class="a28 c48" cx="630.3" cy="379.1" r="3.1"/><circle class="a28 c47" cx="573.9" cy="378.4" r="3.1"/><circle class="a28 c43" cx="506.5" cy="372.6" r="3.1"/><circle class="a28 c50" cx="641.6" cy="383.1" r="3.1"/><circle class="a28 c46" cx="592.6" cy="378.1" r="3.1"/><circle class="a28 c10" cx="582.5" cy="323" r="3.1"/><circle class="a28 c44" cx="489.3" cy="373.5" r="3.1"/><circle class="a28 c51" cx="647" cy="385.3" r="3.1"/><circle class="a28 c44" cx="675.9" cy="374.9" r="3.1"/><circle class="a28 c40" cx="729" cy="368.1" r="3.1"/><circle class="a28 c10" cx="574.2" cy="322.8" r="3.1"/><circle class="a28 c45" cx="651.1" cy="376.2" r="3.1"/><circle class="a28 c46" cx="558" cy="377.5" r="3.1"/><circle class="a28 c48" cx="602.6" cy="380.7" r="3.1"/><circle class="a28 c43" cx="488.3" cy="372.6" r="3.1"/><circle class="a28 c47" cx="613.8" cy="378.9" r="3.1"/><circle class="a28 c48" cx="597.3" cy="381" r="3.1"/><circle class="a28 c45" cx="683.4" cy="375.4" r="3.1"/><circle class="a28 c46" cx="624.4" cy="378.4" r="3.1"/><circle class="a28 c47" cx="617.4" cy="379" r="3.1"/><circle class="a28 c48" cx="563.6" cy="380.2" r="3.1"/><circle class="a28 c42" cx="730" cy="372" r="3.1"/><circle class="a28 c46" cx="510.5" cy="377.9" r="3.1"/><circle class="a28 c43" cx="552.1" cy="373.2" r="3.1"/><circle class="a28 c44" cx="658.2" cy="375.5" r="3.1"/><circle class="a28 c39" cx="732.5" cy="366.9" r="3.1"/><circle class="a28 c45" cx="698.9" cy="376.6" r="3.1"/><circle class="a28 c39" cx="731.8" cy="367" r="3.1"/><circle class="a28 c49" cx="608" cy="382.2" r="3.1"/><circle class="a28 c46" cx="672.2" cy="378.4" r="3.1"/><circle class="a28 c43" cx="728.4" cy="374.2" r="3.1"/><circle class="a28 c47" cx="578.6" cy="379.4" r="3.1"/><circle class="a28 c49" cx="584.4" cy="382.1" r="3.1"/><circle class="a28 c50" cx="641.9" cy="384.2" r="3.1"/><circle class="a28 c52" cx="648.1" cy="388.4" r="3.1"/><circle class="a28 c46" cx="557.3" cy="378.9" r="3.1"/><circle class="a29 c44" cx="677.8" cy="375.4" r="3.1"/><circle class="a29 c46" cx="590.8" cy="379" r="3.1"/><circle class="a29 c10" cx="565.7" cy="323.4" r="3.1"/><circle class="a29 c45" cx="635.6" cy="377.3" r="3.1"/><circle class="a29 c48" cx="695" cy="381.2" r="3.1"/><circle class="a29 c48" cx="596.2" cy="381.7" r="3.1"/><circle class="a29 c47" cx="562.2" cy="380.4" r="3.1"/><circle class="a29 c48" cx="614.4" cy="381.2" r="3.1"/><circle class="a29 c44" cx="502.5" cy="375.2" r="3.1"/><circle class="a29 c45" cx="652.5" cy="377.8" r="3.1"/><circle class="a29 c48" cx="607.4" cy="382.8" r="3.1"/><circle class="a29 c47" cx="577.6" cy="380.7" r="3.1"/><circle class="a29 c40" cx="728.1" cy="370.9" r="3.1"/><circle class="a29 c48" cx="602" cy="382.6" r="3.1"/><circle class="a29 c43" cx="549.6" cy="375.5" r="3.1"/><circle class="a29 c44" cx="659.8" cy="376.5" r="3.1"/><circle class="a29 c46" cx="665.8" cy="379.3" r="3.1"/><circle class="a29 c46" cx="618" cy="379.9" r="3.1"/><circle class="a29 c10" cx="569.8" cy="325.2" r="3.1"/><circle class="a29 c46" cx="687" cy="379.9" r="3.1"/><circle class="a29 c42" cx="533" cy="373.5" r="3.1"/><circle class="a29 c46" cx="571.4" cy="381.1" r="3.1"/><circle class="a29 c48" cx="630.3" cy="383.1" r="3.1"/><circle class="a29 c44" cx="548.5" cy="376.7" r="3.1"/><circle class="a29 c45" cx="673.8" cy="378.4" r="3.1"/><circle class="a29 c46" cx="520.2" cy="380.2" r="3.1"/><circle class="a29 c43" cx="496.5" cy="376.4" r="3.1"/><circle class="a29 c45" cx="624.6" cy="379.7" r="3.1"/><circle class="a29 c42" cx="531.6" cy="374.4" r="3.1"/><circle class="a29 c46" cx="590.5" cy="381" r="3.1"/><circle class="a29 c49" cx="600.9" cy="384.3" r="3.1"/><circle class="a29 c46" cx="561.4" cy="381.5" r="3.1"/><circle class="a29 c46" cx="667.3" cy="381" r="3.1"/><circle class="a29 c45" cx="554.2" cy="380.1" r="3.1"/><circle class="a29 c39" cx="497.2" cy="371" r="3.1"/><circle class="a29 c45" cx="724.4" cy="379.6" r="3.1"/><circle class="a29 c45" cx="703.1" cy="379.3" r="3.1"/><circle class="a29 c44" cx="505.9" cy="377.8" r="3.1"/><circle class="a29 c44" cx="680.1" cy="377.4" r="3.1"/><circle class="a29 c52" cx="648.7" cy="391.1" r="3.1"/><circle class="a29 c47" cx="575.9" cy="382.2" r="3.1"/><circle class="a29 c44" cx="661" cy="378.8" r="3.1"/><circle class="a29 c46" cx="617.7" cy="381.3" r="3.1"/><circle class="a29 c43" cx="722.3" cy="377.2" r="3.1"/><circle class="a29 c46" cx="624.6" cy="381.7" r="3.1"/><circle class="a29 c44" cx="653.4" cy="378" r="3.1"/><circle class="a29 c48" cx="595.7" cy="383.5" r="3.1"/><circle class="a29 c47" cx="569.6" cy="383" r="3.1"/><circle class="a29 c53" cx="649.8" cy="392.4" r="3.1"/><circle class="a29 c45" cx="675" cy="380.2" r="3.1"/><circle class="a29 c44" cx="636.1" cy="378.3" r="3.1"/><circle class="a29 c42" cx="529.6" cy="375.1" r="3.1"/><circle class="a29 c48" cx="582.5" cy="384.3" r="3.1"/><circle class="a29 c45" cx="516.8" cy="380.1" r="3.1"/><circle class="a29 c43" cx="502.3" cy="376.8" r="3.1"/><circle class="a29 c45" cx="653.8" cy="380.1" r="3.1"/><circle class="a29 c47" cx="595.4" cy="383.9" r="3.1"/><circle class="a29 c39" cx="722.7" cy="372.7" r="3.1"/><circle class="a29 c45" cx="716" cy="380.3" r="3.1"/><circle class="a29 c47" cx="575.1" cy="383.8" r="3.1"/><circle class="a29 c43" cx="503.8" cy="377.6" r="3.1"/><circle class="a29 c49" cx="643.3" cy="386.6" r="3.1"/><circle class="a29 c40" cx="723" cy="373.6" r="3.1"/><circle class="a29 c46" cx="558.9" cy="383.5" r="3.1"/><circle class="a29 c45" cx="635.6" cy="381.3" r="3.1"/><circle class="a29 c46" cx="613.6" cy="382.5" r="3.1"/><circle class="a29 c38" cx="495.2" cy="369.9" r="3.1"/><circle class="a29 c44" cx="682" cy="379.4" r="3.1"/><circle class="a29 c43" cx="716.9" cy="378.7" r="3.1"/><circle class="a29 c46" cx="624.6" cy="383.1" r="3.1"/><circle class="a29 c44" cx="661.9" cy="379.5" r="3.1"/><circle class="a29 c45" cx="551.2" cy="382.3" r="3.1"/><circle class="a29 c42" cx="545.8" cy="376.2" r="3.1"/><circle class="a29 c48" cx="606.3" cy="386.1" r="3.1"/><circle class="a29 c37" cx="527" cy="369.2" r="3.1"/><circle class="a29 c48" cx="567.5" cy="385.5" r="3.1"/><circle class="a29 c45" cx="616.8" cy="382.2" r="3.1"/><circle class="a29 c9" cx="573.9" cy="326.6" r="3.1"/><circle class="a29 c52" cx="650.8" cy="393.6" r="3.1"/><circle class="a29 c49" cx="643.1" cy="388.8" r="3.1"/><circle class="a29 c46" cx="617.6" cy="384.1" r="3.1"/><circle class="a29 c43" cx="720.2" cy="379.2" r="3.1"/><circle class="a29 c45" cx="550" cy="383.4" r="3.1"/><circle class="a30 c48" cx="580.5" cy="386.8" r="3.1"/><circle class="a30 c44" cx="654.9" cy="380.6" r="3.1"/><circle class="a30 c46" cx="631.3" cy="385.4" r="3.1"/><circle class="a30 c45" cx="670.6" cy="383.5" r="3.1"/><circle class="a30 c45" cx="588.9" cy="382.9" r="3.1"/><circle class="a30 c40" cx="721" cy="375.2" r="3.1"/><circle class="a30 c47" cx="594.9" cy="386.1" r="3.1"/><circle class="a30 c46" cx="612.9" cy="384.3" r="3.1"/><circle class="a30 c44" cx="637.2" cy="381" r="3.1"/><circle class="a30 c48" cx="600.2" cy="387" r="3.1"/><circle class="a30 c39" cx="527.9" cy="374.9" r="3.1"/><circle class="a30 c43" cx="684" cy="380.6" r="3.1"/><circle class="a30 c46" cx="573.5" cy="385.8" r="3.1"/><circle class="a30 c42" cx="542.5" cy="379.4" r="3.1"/><circle class="a30 c44" cx="691.9" cy="382.3" r="3.1"/><circle class="a30 c48" cx="605.9" cy="388.6" r="3.1"/><circle class="a30 c45" cx="624.9" cy="384.4" r="3.1"/><circle class="a30 c46" cx="556.7" cy="385.4" r="3.1"/><circle class="a30 c46" cx="565.8" cy="385.8" r="3.1"/><circle class="a30 c44" cx="685.5" cy="382.3" r="3.1"/><circle class="a30 c45" cx="679.5" cy="385" r="3.1"/><circle class="a30 c48" cx="579.6" cy="388.6" r="3.1"/><circle class="a30 c45" cx="587.5" cy="385" r="3.1"/><circle class="a30 c46" cx="631.3" cy="386.3" r="3.1"/><circle class="a30 c46" cx="617.5" cy="387.3" r="3.1"/><circle class="a30 c44" cx="656.6" cy="383.4" r="3.1"/><circle class="a30 c34" cx="513" cy="369" r="3.1"/><circle class="a30 c47" cx="593" cy="387.8" r="3.1"/><circle class="a30 c39" cx="718" cy="375.5" r="3.1"/><circle class="a30 c49" cx="644.5" cy="391.2" r="3.1"/><circle class="a30 c45" cx="664.1" cy="384.8" r="3.1"/><circle class="a30 c51" cx="651.8" cy="395.5" r="3.1"/><circle class="a30 c48" cx="605.7" cy="389.8" r="3.1"/><circle class="a30 c45" cx="624.8" cy="386.5" r="3.1"/><circle class="a30 c45" cx="554.6" cy="385.3" r="3.1"/><circle class="a30 c46" cx="571.2" cy="388.1" r="3.1"/><circle class="a30 c40" cx="538.9" cy="377.9" r="3.1"/><circle class="a30 c43" cx="712.1" cy="383.1" r="3.1"/><circle class="a30 c43" cx="695.5" cy="383.2" r="3.1"/><circle class="a30 c46" cx="598.3" cy="388.5" r="3.1"/><circle class="a30 c45" cx="612.8" cy="386.2" r="3.1"/><circle class="a30 c43" cx="637.9" cy="383.9" r="3.1"/><circle class="a30 c45" cx="562.6" cy="387.4" r="3.1"/><circle class="a30 c44" cx="546.5" cy="385.3" r="3.1"/><circle class="a30 c42" cx="515.8" cy="381.9" r="3.1"/><circle class="a30 c38" cx="538.3" cy="376.7" r="3.1"/><circle class="a30 c41" cx="711.3" cy="380.4" r="3.1"/><circle class="a30 c45" cx="624.7" cy="387.2" r="3.1"/><circle class="a30 c41" cx="538.3" cy="380.8" r="3.1"/><circle class="a30 c46" cx="706.5" cy="389.3" r="3.1"/><circle class="a30 c49" cx="645.4" cy="392.8" r="3.1"/><circle class="a30 c46" cx="576.7" cy="389.7" r="3.1"/><circle class="a30 c45" cx="617.2" cy="387.9" r="3.1"/><circle class="a30 c46" cx="592.3" cy="389.9" r="3.1"/><circle class="a30 c48" cx="632" cy="391.1" r="3.1"/><circle class="a30 c46" cx="562.2" cy="390.1" r="3.1"/><circle class="a30 c43" cx="658.2" cy="383.8" r="3.1"/><circle class="a30 c43" cx="585.9" cy="385.3" r="3.1"/><circle class="a30 c42" cx="666.4" cy="383.3" r="3.1"/><circle class="a31 c51" cx="652.8" cy="397.2" r="3.1"/><circle class="a31 c47" cx="597.7" cy="391.3" r="3.1"/><circle class="a31 c44" cx="544.1" cy="386.1" r="3.1"/><circle class="a31 c43" cx="689.1" cy="384.1" r="3.1"/><circle class="a31 c45" cx="706.6" cy="388.9" r="3.1"/><circle class="a31 c46" cx="568.9" cy="389.9" r="3.1"/><circle class="a31 c38" cx="710.6" cy="377.3" r="3.1"/><circle class="a31 c48" cx="605" cy="392" r="3.1"/><circle class="a31 c44" cx="675" cy="387.1" r="3.1"/><circle class="a31 c45" cx="551.4" cy="388.4" r="3.1"/><circle class="a31 c45" cx="616.6" cy="389.4" r="3.1"/><circle class="a31 c43" cx="705.8" cy="385.1" r="3.1"/><circle class="a31 c46" cx="575.9" cy="391.3" r="3.1"/><circle class="a31 c46" cx="591.3" cy="391.8" r="3.1"/><circle class="a31 c45" cx="611.9" cy="389.9" r="3.1"/><circle class="a31 c40" cx="705.7" cy="382" r="3.1"/><circle class="a31 c44" cx="638.4" cy="388.4" r="3.1"/><circle class="a31 c51" cx="654.4" cy="399" r="3.1"/><circle class="a31 c44" cx="585.1" cy="387.9" r="3.1"/><circle class="a31 c44" cx="659.2" cy="387.6" r="3.1"/><circle class="a31 c46" cx="597.1" cy="391.5" r="3.1"/><circle class="a31 c46" cx="560.4" cy="391.6" r="3.1"/><circle class="a31 c42" cx="667.8" cy="385.7" r="3.1"/><circle class="a31 c46" cx="566.8" cy="392.1" r="3.1"/><circle class="a31 c44" cx="625.4" cy="389.2" r="3.1"/><circle class="a31 c45" cx="548.3" cy="390.2" r="3.1"/><circle class="a31 c43" cx="701.6" cy="388.6" r="3.1"/><circle class="a31 c48" cx="603.8" cy="395.1" r="3.1"/><circle class="a31 c46" cx="611.5" cy="393.6" r="3.1"/><circle class="a31 c44" cx="626" cy="390.4" r="3.1"/><circle class="a31 c49" cx="646.8" cy="397.1" r="3.1"/><circle class="a31 c45" cx="583.2" cy="391.1" r="3.1"/><circle class="a31 c50" cx="654.7" cy="399.9" r="3.1"/><circle class="a31 c43" cx="639.4" cy="389.3" r="3.1"/><circle class="a31 c47" cx="590.2" cy="395" r="3.1"/><circle class="a31 c45" cx="547" cy="392.2" r="3.1"/><circle class="a31 c43" cx="539.3" cy="388.9" r="3.1"/><circle class="a31 c42" cx="699.6" cy="388.3" r="3.1"/><circle class="a31 c48" cx="603" cy="396.8" r="3.1"/><circle class="a31 c43" cx="671" cy="389.4" r="3.1"/><circle class="a31 c45" cx="564.9" cy="393.4" r="3.1"/><circle class="a31 c43" cx="639.7" cy="390.5" r="3.1"/><circle class="a31 c46" cx="573" cy="394.6" r="3.1"/><circle class="a31 c48" cx="596.1" cy="397" r="3.1"/><circle class="a31 c40" cx="535.9" cy="385.7" r="3.1"/><circle class="a32 c39" cx="703.5" cy="384.2" r="3.1"/><circle class="a32 c45" cx="557" cy="393.4" r="3.1"/><circle class="a32 c46" cx="632.5" cy="395.3" r="3.1"/><circle class="a32 c43" cx="537.7" cy="390.6" r="3.1"/><circle class="a32 c44" cx="625.2" cy="392" r="3.1"/><circle class="a32 c37" cx="700.8" cy="381.4" r="3.1"/><circle class="a32 c46" cx="588" cy="395.7" r="3.1"/><circle class="a32 c41" cx="696" cy="388.5" r="3.1"/><circle class="a32 c47" cx="594.8" cy="398.2" r="3.1"/><circle class="a32 c45" cx="555.6" cy="395.1" r="3.1"/><circle class="a32 c45" cx="615.6" cy="395.2" r="3.1"/><circle class="a32 c43" cx="581.6" cy="392.2" r="3.1"/><circle class="a32 c44" cx="681.1" cy="393.2" r="3.1"/><circle class="a32 c43" cx="543.8" cy="392.9" r="3.1"/><circle class="a32 c46" cx="603.5" cy="397.6" r="3.1"/><circle class="a32 c44" cx="562.6" cy="395.1" r="3.1"/><circle class="a32 c46" cx="633.6" cy="398.3" r="3.1"/><circle class="a32 c44" cx="611.3" cy="394.5" r="3.1"/><circle class="a32 c42" cx="687.5" cy="391.8" r="3.1"/><circle class="a32 c43" cx="539.3" cy="393.5" r="3.1"/><circle class="a32 c40" cx="690.1" cy="388.9" r="3.1"/><circle class="a32 c37" cx="696.8" cy="384" r="3.1"/><circle class="a32 c39" cx="692.9" cy="387.1" r="3.1"/><circle class="a32 c45" cx="587.8" cy="397.1" r="3.1"/><circle class="a32 c48" cx="648.7" cy="402.4" r="3.1"/><circle class="a32 c38" cx="690.6" cy="386.7" r="3.1"/><circle class="a32 c46" cx="570.2" cy="398.7" r="3.1"/><circle class="a32 c45" cx="679.5" cy="397.8" r="3.1"/><circle class="a32 c43" cx="579.7" cy="395.3" r="3.1"/><circle class="a32 c45" cx="553" cy="397.4" r="3.1"/><circle class="a32 c35" cx="697.9" cy="383" r="3.1"/><circle class="a32 c49" cx="657.2" cy="404.9" r="3.1"/><circle class="a32 c45" cx="615.9" cy="397.7" r="3.1"/><circle class="a32 c36" cx="685" cy="384.8" r="3.1"/><circle class="a32 c43" cx="625.4" cy="394.8" r="3.1"/><circle class="a32 c46" cx="594.2" cy="399.8" r="3.1"/><circle class="a32 c48" cx="659.6" cy="403.9" r="3.1"/><circle class="a32 c46" cx="601.3" cy="401" r="3.1"/><circle class="a32 c44" cx="640.8" cy="397.2" r="3.1"/><circle class="a32 c43" cx="578.1" cy="396.5" r="3.1"/><circle class="a32 c40" cx="682.1" cy="391.6" r="3.1"/><circle class="a33 c38" cx="683.2" cy="387.9" r="3.1"/><circle class="a33 c39" cx="539.5" cy="390.8" r="3.1"/><circle class="a33 c46" cx="659.1" cy="401.5" r="3.1"/><circle class="a33 c38" cx="676.3" cy="389.4" r="3.1"/><circle class="a33 c38" cx="683.6" cy="389.1" r="3.1"/><circle class="a33 c43" cx="625" cy="397" r="3.1"/><circle class="a33 c44" cx="615.8" cy="398.6" r="3.1"/><circle class="a33 c41" cx="672.9" cy="394.1" r="3.1"/><circle class="a33 c46" cx="633.4" cy="402.2" r="3.1"/><circle class="a33 c45" cx="593.2" cy="401" r="3.1"/><circle class="a33 c40" cx="661.7" cy="393.5" r="3.1"/><circle class="a33 c44" cx="586.9" cy="399.9" r="3.1"/><circle class="a33 c42" cx="663" cy="396.8" r="3.1"/><circle class="a33 c45" cx="600.4" cy="401.3" r="3.1"/><circle class="a33 c45" cx="657.1" cy="402.6" r="3.1"/><circle class="a33 c42" cx="577.5" cy="398.2" r="3.1"/><circle class="a33 c49" cx="650.7" cy="408.5" r="3.1"/><circle class="a33 c45" cx="584.8" cy="403" r="3.1"/><circle class="a33 c42" cx="546.7" cy="398.6" r="3.1"/><circle class="a33 c36" cx="673.5" cy="389.1" r="3.1"/><circle class="a33 c45" cx="547.9" cy="402.7" r="3.1"/><circle class="a33 c43" cx="614.5" cy="400.5" r="3.1"/><circle class="a33 c44" cx="565.2" cy="402.9" r="3.1"/><circle class="a33 c39" cx="546.9" cy="394.7" r="3.1"/><circle class="a34 c44" cx="555.5" cy="403.1" r="3.1"/><circle class="a34 c44" cx="592.4" cy="403.2" r="3.1"/><circle class="a34 c44" cx="649.8" cy="403.9" r="3.1"/><circle class="a34 c41" cx="556.9" cy="398.5" r="3.1"/><circle class="a34 c43" cx="575.9" cy="401.8" r="3.1"/><circle class="a34 c45" cx="562.4" cy="405.1" r="3.1"/><circle class="a34 c36" cx="663.5" cy="391.9" r="3.1"/><circle class="a34 c45" cx="560.4" cy="405.1" r="3.1"/><circle class="a34 c44" cx="648.7" cy="405" r="3.1"/><circle class="a34 c42" cx="609.3" cy="401.7" r="3.1"/><circle class="a34 c40" cx="553.9" cy="399.3" r="3.1"/><circle class="a34 c40" cx="642.6" cy="399.9" r="3.1"/><circle class="a34 c45" cx="583.6" cy="407.5" r="3.1"/><circle class="a34 c42" cx="654.4" cy="403.4" r="3.1"/><circle class="a34 c43" cx="633.7" cy="404.6" r="3.1"/><circle class="a34 c37" cx="643.6" cy="394.9" r="3.1"/><circle class="a34 c41" cx="636" cy="401.4" r="3.1"/><circle class="a34 c39" cx="562.5" cy="398.3" r="3.1"/><circle class="a34 c43" cx="609.6" cy="405.6" r="3.1"/><circle class="a34 c39" cx="621.6" cy="399.9" r="3.1"/><circle class="a34 c44" cx="589.8" cy="408" r="3.1"/><circle class="a34 c40" cx="626.3" cy="402" r="3.1"/><circle class="a34 c34" cx="640.4" cy="392.2" r="3.1"/><circle class="a34 c41" cx="610.5" cy="402.8" r="3.1"/><circle class="a34 c44" cx="599" cy="408.2" r="3.1"/><circle class="a35 c42" cx="573.7" cy="404.3" r="3.1"/><circle class="a35 c40" cx="580.4" cy="402.2" r="3.1"/><circle class="a35 c43" cx="581.9" cy="406.9" r="3.1"/><circle class="a35 c37" cx="627.7" cy="397.8" r="3.1"/><circle class="a35 c40" cx="638.8" cy="402" r="3.1"/><circle class="a35 c42" cx="619.8" cy="404.9" r="3.1"/><circle class="a35 c38" cx="610.8" cy="400.4" r="3.1"/><circle class="a35 c39" cx="617.2" cy="401.5" r="3.1"/><circle class="a35 c43" cx="601.8" cy="407.3" r="3.1"/><circle class="a35 c40" cx="574.1" cy="403.2" r="3.1"/><circle class="a35 c41" cx="601.2" cy="404.7" r="3.1"/><circle class="a35 c40" cx="580.8" cy="403.2" r="3.1"/><circle class="a35 c41" cx="592" cy="404.9" r="3.1"/><circle class="a35 c38" cx="570.4" cy="399.9" r="3.1"/><circle class="a35 c39" cx="590.4" cy="403.3" r="3.1"/><circle class="a35 c39" cx="599.4" cy="403.7" r="3.1"/></g>
<text x="477.17" y="100.07" font-size="17.17" textLength="275.5" lengthAdjust="spacingAndGlyphs">LiDAR Point 3D Coordinate Graph</text>
<path d="M789.5 140.5L869.5 140.5Q872.5 140.5 872.5 137.5L872.5 118.5Q872.5 115.5 869.5 115.5L789.5 115.5Q787.5 115.5 787.5 118.5L787.5 137.5Q787.5 140.5 789.5 140.5Z" fill="#fff" fill-opacity="0.8" stroke="#ccc" stroke-width="1.39" stroke-opacity="0.8"/>
<circle cx="806" cy="127.85" r="3.11" fill="#375c8f" stroke="#375c8f" stroke-width="1.39" stroke-linejoin="round"/>
<text x="831.56" y="131.9" font-size="14.31" textLength="34.25" lengthAdjust="spacingAndGlyphs">point</text>
<path d="M303.5 801.5L303.5 806.5" fill="#000" stroke="#000" stroke-width="1.11" stroke-linejoin="round"/>
<text transform="translate(284.67 822.12) scale(1.07 1)" font-size="14.31" textLength="34.23">−500</text>
<path d="M352.5 801.5L352.5 806.5" fill="#000" stroke="#000" stroke-width="1.11" stroke-linejoin="round"/>
<text transform="translate(348.09 822.12) scale(1.07 1)" font-size="14.31">0</text>
<path d="M402.5 801.5L402.5 806.5" fill="#000" stroke="#000" stroke-width="1.11" stroke-linejoin="round"/>
<text transform="translate(389.21 822.12) scale(1.07 1)" font-size="14.31" textLength="23.36">500</text>
<text x="329.79" y="841.68" font-size="14.31" textLength="44.62" lengthAdjust="spacingAndGlyphs">X (cm)</text>
<path d="M286.5 785.5L281.5 785.5" fill="#000" stroke="#000" stroke-width="1.11" stroke-linejoin="round"/>
<text transform="translate(239.13 790.85) scale(1.07 1)" font-size="14.31" textLength="34.23">−500</text>
<path d="M286.5 735.5L281.5 735.5" fill="#000" stroke="#000" stroke-width="1.11" stroke-linejoin="round"/>
<text transform="translate(267.75 741) scale(1.07 1)" font-size="14.31">0</text>
<path d="M286.5 685.5L281.5 685.5" fill="#000" stroke="#000" stroke-width="1.11" stroke-linejoin="round"/>
<text transform="translate(250.75 691.15) scale(1.07 1)" font-size="14.31" textLength="23.36">500</text>
<text transform="translate(230.02 756.82) rotate(-90)" font-size="14.31" textLength="43.5" lengthAdjust="spacingAndGlyphs">Y (cm)</text>
<path d="M286.5 801.5L286.5 669.5" fill="none" stroke="#000" stroke-width="1.11" stroke-linecap="square"/>
<path d="M418.5 801.5L418.5 669.5" fill="none" stroke="#000" stroke-width="1.11" stroke-linecap="square"/>
<path d="M286.5 801.5L418.5 801.5" fill="none" stroke="#000" stroke-width="1.11" stroke-linecap="square"/>
<path d="M286.5 669.5L418.5 669.5" fill="none" stroke="#000" stroke-width="1.11" stroke-linecap="square"/>
<text x="214.34" y="661.07" font-size="17.17" textLength="275.5" lengthAdjust="spacingAndGlyphs">LiDAR Point 2D Coordinate Graph</text>
<path d="M434.5 722.5L514.5 722.5Q517.5 722.5 517.5 719.5L517.5 679.5Q517.5 676.5 514.5 676.5L434.5 676.5Q432.5 676.5 432.5 679.5L432.5 719.5Q432.5 722.5 434.5 722.5Z" fill="#fff" fill-opacity="0.8" stroke="#ccc" stroke-width="1.39" stroke-opacity="0.8"/>
<circle cx="451.16" cy="688.85" r="4.17" fill="#90ee90" stroke="#90ee90" stroke-width="1.39" stroke-linejoin="round"/>
<text x="476.71" y="692.9" font-size="14.31" textLength="34.25" lengthAdjust="spacingAndGlyphs">point</text>
<circle cx="451.16" cy="709.8" r="4.17" fill="#00f" stroke="#00f" stroke-width="1.39" stroke-linejoin="round"/>
<text x="476.71" y="713.84" font-size="14.31" textLength="26.5" lengthAdjust="spacingAndGlyphs">wall</text>
<path d="M676 801L711 801L711 799L676 799Z" fill="#00f"/>
<path d="M711 801L747 801L747 794L711 794Z" fill="#00f"/>
<path d="M747 801L782 801L782 769L747 769Z" fill="#00f"/>
<path d="M782 801L817 801L817 675L782 675Z" fill="#00f"/>
<path d="M817 801L853 801L853 800L817 800Z" fill="#00f"/>
<path d="M853 801L888 801L888 801L853 801Z" fill="#00f"/>
<path d="M888 801L924 801L924 801L888 801Z" fill="#00f"/>
<path d="M924 801L959 801L959 801L924 801Z" fill="#00f"/>
<path d="M959 801L995 801L995 801L959 801Z" fill="#00f"/>
<path d="M995 801L1030 801L1030 801L995 801Z" fill="#00f"/>
<path d="M676.5 801.5L676.5 806.5" fill="#000" stroke="#000" stroke-width="1.11" stroke-linejoin="round"/>
<text transform="translate(671.33 822.12) scale(1.07 1)" font-size="14.31">0</text>
<path d="M727.5 801.5L727.5 806.5" fill="#000" stroke="#000" stroke-width="1.11" stroke-linejoin="round"/>
<text transform="translate(714.2 822.12) scale(1.07 1)" font-size="14.31" textLength="23.48">100</text>
<path d="M778.5 801.5L778.5 806.5" fill="#000" stroke="#000" stroke-width="1.11" stroke-linejoin="round"/>
<text transform="translate(765.45 822.12) scale(1.07 1)" font-size="14.31" textLength="23.36">200</text>
<path d="M829.5 801.5L829.5 806.5" fill="#000" stroke="#000" stroke-width="1.11" stroke-linejoin="round"/>
<text transform="translate(816.63 822.12) scale(1.07 1)" font-size="14.31" textLength="23.36">300</text>
<path d="M880.5 801.5L880.5 806.5" fill="#000" stroke="#000" stroke-width="1.11" stroke-linejoin="round"/>
<text transform="translate(867.82 822.12) scale(1.07 1)" font-size="14.31" textLength="23.36">400</text>
<path d="M932.5 801.5L932.5 806.5" fill="#000" stroke="#000" stroke-width="1.11" stroke-linejoin="round"/>
<text transform="translate(919 822.12) scale(1.07 1)" font-size="14.31" textLength="23.36">500</text>
<path d="M983.5 801.5L983.5 806.5" fill="#000" stroke="#000" stroke-width="1.11" stroke-linejoin="round"/>
<text transform="translate(970.12 822.12) scale(1.07 1)" font-size="14.31" textLength="23.48">600</text>
<path d="M1034.5 801.5L1034.5 806.5" fill="#000" stroke="#000" stroke-width="1.11" stroke-linejoin="round"/>
<text transform="translate(1021.37 822.12) scale(1.07 1)" font-size="14.31" textLength="23.36">700</text>
<path d="M676.5 801.5L671.5 801.5" fill="#000" stroke="#000" stroke-width="1.11" stroke-linejoin="round"/>
<text transform="translate(657.23 806.9) scale(1.07 1)" font-size="14.31">0</text>
<path d="M676.5 761.5L671.5 761.5" fill="#000" stroke="#000" stroke-width="1.11" stroke-linejoin="round"/>
<text transform="translate(631.49 767.14) scale(1.07 1)" font-size="14.31" textLength="31.54">2000</text>
<path d="M676.5 721.5L671.5 721.5" fill="#000" stroke="#000" stroke-width="1.11" stroke-linejoin="round"/>
<text transform="translate(631.49 727.38) scale(1.07 1)" font-size="14.31" textLength="31.54">4000</text>
<path d="M676.5 682.5L671.5 682.5" fill="#000" stroke="#000" stroke-width="1.11" stroke-linejoin="round"/>
<text transform="translate(631.36 687.63) scale(1.07 1)" font-size="14.31" textLength="31.66">6000</text>
<path d="M676.5 801.5L676.5 669.5" fill="none" stroke="#000" stroke-width="1.11" stroke-linecap="square"/>
<path d="M1080.5 801.5L1080.5 669.5" fill="none" stroke="#000" stroke-width="1.11" stroke-linecap="square"/>
<path d="M676.5 801.5L1080.5 801.5" fill="none" stroke="#000" stroke-width="1.11" stroke-linecap="square"/>
<path d="M676.5 669.5L1080.5 669.5" fill="none" stroke="#000" stroke-width="1.11" stroke-linecap="square"/>
<text x="805.31" y="661.07" font-size="17.17" textLength="144.88" lengthAdjust="spacingAndGlyphs">Height Histogram</text>
<path d="M980.5 701.5L1070.5 701.5Q1073.5 701.5 1073.5 698.5L1073.5 679.5Q1073.5 676.5 1070.5 676.5L980.5 676.5Q977.5 676.5 977.5 679.5L977.5 698.5Q977.5 701.5 980.5 701.5Z" fill="#fff" fill-opacity="0.8" stroke="#ccc" stroke-width="1.39" stroke-opacity="0.8"/>
<clipPath id="c2"><rect x="286.5" y="669.5" width="132" height="132"/></clipPath><path clip-path="url(#c2)" d="M287 696.1L290.7 692.6L292 689.9L297.3 685.9L306.2 680.1L315.1 674.8L317.8 673L322.2 670.2L322.5 667L369 667L369.1 670L375.3 672L383.1 676.7L390.9 682.9L397.1 689.9L402.6 698.4L407.2 707.8L410.3 717.9L412.4 727.2L413.1 736.6L412.4 745.9L410.3 755.2L407.2 764.6L402.6 773.9L397.1 781.7L390.9 788.7L383.1 794.1L375.3 798L366.8 800.3L358.2 800.8L354 800.6L351.6 799.7L346.2 796.1L341.3 794.8L339.6 798.1L336.4 799.2L332 797.9L326.7 796.1L319.6 794.8L312.4 792.1L306.2 788.1L300.9 783.7L297.3 779.2L294.7 774.8L293.8 769.4L295.6 766.8L300 764.6L304.4 763.4L299.6 762.8L297.3 760.6L296.9 757.9L298.2 755.2L300.9 752.6L303.1 749L304.9 744.1L306.7 742.3L310.7 740.8L312 739.2L306.2 738.2L287 737L284 737L284 696Z" fill="#90ee90" stroke="#90ee90" stroke-width="0.8" stroke-linejoin="round"/><path d="M329.8 783.6L332.4 784.6L332.4 785.2L329.8 784.4Z" fill="#fff"/><path d="M337.8 781.9L340.5 781.8L340.1 785Z" fill="#fff"/>
<path d="M983 693L1011 693L1011 683L983 683Z" fill="#00f"/>
<text x="1022.18" y="692.9" font-size="14.31" textLength="44.62" lengthAdjust="spacingAndGlyphs">Height</text>
</svg>
</body></html>
